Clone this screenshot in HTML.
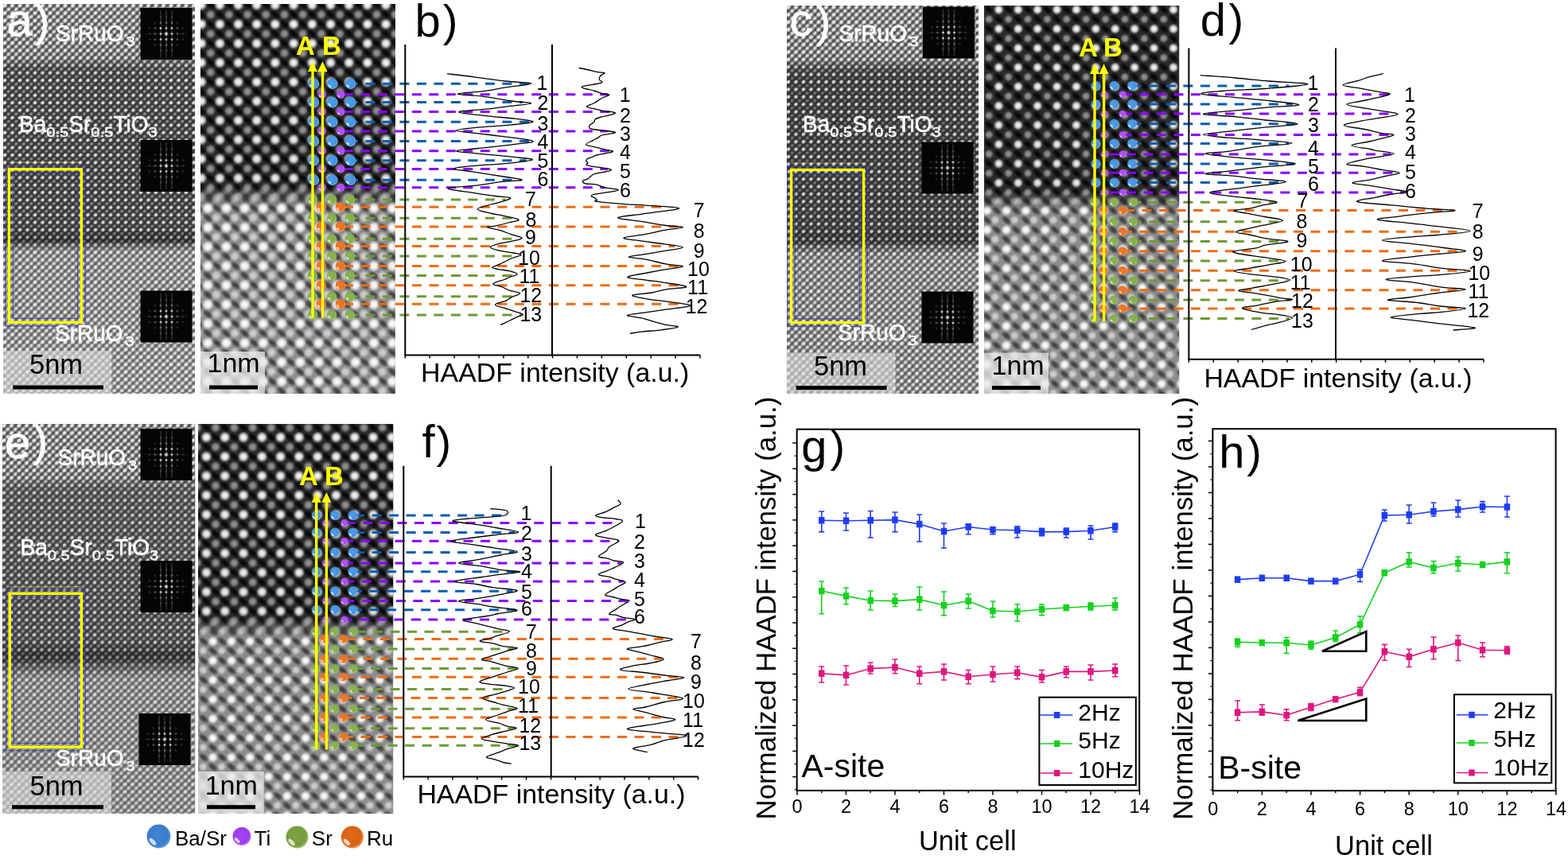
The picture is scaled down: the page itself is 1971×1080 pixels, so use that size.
<!DOCTYPE html>
<html><head><meta charset="utf-8"><title>HAADF figure</title>
<style>html,body{margin:0;padding:0;background:#fff;} svg{display:block;}</style></head>
<body><svg width="1971" height="1080" viewBox="0 0 1971 1080">
<defs>
<radialGradient id="gW"><stop offset="0" stop-color="#fff" stop-opacity="1"/><stop offset="0.45" stop-color="#fff" stop-opacity="0.85"/><stop offset="1" stop-color="#fff" stop-opacity="0"/></radialGradient>
<radialGradient id="gS"><stop offset="0" stop-color="#fff" stop-opacity="1"/><stop offset="0.55" stop-color="#fff" stop-opacity="0.9"/><stop offset="1" stop-color="#fff" stop-opacity="0"/></radialGradient>
<radialGradient id="pBlue" cx="0.45" cy="0.45" r="0.55"><stop offset="0" stop-color="#4e9eea"/><stop offset="0.8" stop-color="#4592e0"/><stop offset="1" stop-color="#78b8f0"/></radialGradient>
<radialGradient id="pPur" cx="0.45" cy="0.45" r="0.55"><stop offset="0" stop-color="#b455ff"/><stop offset="0.8" stop-color="#a848f8"/><stop offset="1" stop-color="#d090ff"/></radialGradient>
<radialGradient id="pGrn" cx="0.45" cy="0.45" r="0.55"><stop offset="0" stop-color="#8cb455"/><stop offset="0.8" stop-color="#84ac4c"/><stop offset="1" stop-color="#b0d080"/></radialGradient>
<radialGradient id="pOra" cx="0.45" cy="0.45" r="0.55"><stop offset="0" stop-color="#f07a2a"/><stop offset="0.8" stop-color="#e87024"/><stop offset="1" stop-color="#f8a060"/></radialGradient>
<radialGradient id="gK"><stop offset="0" stop-color="#000" stop-opacity="1"/><stop offset="0.5" stop-color="#000" stop-opacity="0.7"/><stop offset="1" stop-color="#000" stop-opacity="0"/></radialGradient>
<radialGradient id="sBlue" cx="0.45" cy="0.45" r="0.55"><stop offset="0" stop-color="#3f86d4"/><stop offset="0.8" stop-color="#3a7ccb"/><stop offset="1" stop-color="#5a9be0"/></radialGradient>
<radialGradient id="sPur" cx="0.45" cy="0.45" r="0.55"><stop offset="0" stop-color="#a446f5"/><stop offset="0.8" stop-color="#9a3cee"/><stop offset="1" stop-color="#c070ff"/></radialGradient>
<radialGradient id="sGrn" cx="0.45" cy="0.45" r="0.55"><stop offset="0" stop-color="#7ea445"/><stop offset="0.8" stop-color="#769c3e"/><stop offset="1" stop-color="#a0c070"/></radialGradient>
<radialGradient id="sOra" cx="0.45" cy="0.45" r="0.55"><stop offset="0" stop-color="#e06a1a"/><stop offset="0.8" stop-color="#d86214"/><stop offset="1" stop-color="#f09050"/></radialGradient>
<clipPath id="pac"><rect x="4" y="5" width="241" height="490"/></clipPath><pattern id="paA" patternUnits="userSpaceOnUse" x="6" y="7" width="9.5" height="9.4"><ellipse cx="0" cy="0" rx="3.25" ry="2.59" transform="rotate(-40 0 0)" fill="url(#gS)"/><ellipse cx="9.5" cy="0" rx="3.25" ry="2.59" transform="rotate(-40 9.5 0)" fill="url(#gS)"/><ellipse cx="0" cy="9.4" rx="3.25" ry="2.59" transform="rotate(-40 0 9.4)" fill="url(#gS)"/><ellipse cx="9.5" cy="9.4" rx="3.25" ry="2.59" transform="rotate(-40 9.5 9.4)" fill="url(#gS)"/></pattern><pattern id="paB" patternUnits="userSpaceOnUse" x="6" y="7" width="9.5" height="9.4"><ellipse cx="4.75" cy="4.7" rx="2.91" ry="2.32" transform="rotate(-40 4.75 4.7)" fill="url(#gS)"/></pattern><pattern id="paK" patternUnits="userSpaceOnUse" x="6" y="7" width="9.5" height="9.4"><ellipse cx="4.75" cy="0" rx="4.16" ry="2.46" transform="rotate(-40 4.75 0)" fill="url(#gK)"/><ellipse cx="0" cy="4.7" rx="4.16" ry="2.46" transform="rotate(-40 0 4.7)" fill="url(#gK)"/><ellipse cx="9.5" cy="4.7" rx="4.16" ry="2.46" transform="rotate(-40 9.5 4.7)" fill="url(#gK)"/><ellipse cx="4.75" cy="9.4" rx="4.16" ry="2.46" transform="rotate(-40 4.75 9.4)" fill="url(#gK)"/></pattern><pattern id="paS" patternUnits="userSpaceOnUse" x="6" y="7" width="9.5" height="9.4"><path d="M0,0" /></pattern><linearGradient id="pabg" gradientUnits="userSpaceOnUse" x1="0" y1="5" x2="0" y2="495"><stop offset="0.0000" stop-color="#8e8e8e" stop-opacity="1"/><stop offset="0.1367" stop-color="#868686" stop-opacity="1"/><stop offset="0.1612" stop-color="#4a4a4a" stop-opacity="1"/><stop offset="0.1837" stop-color="#3a3a3a" stop-opacity="1"/><stop offset="0.5776" stop-color="#383838" stop-opacity="1"/><stop offset="0.6061" stop-color="#2a2a2a" stop-opacity="1"/><stop offset="0.6347" stop-color="#949494" stop-opacity="1"/><stop offset="1.0000" stop-color="#9a9a9a" stop-opacity="1"/></linearGradient><linearGradient id="pamAg" gradientUnits="userSpaceOnUse" x1="0" y1="5" x2="0" y2="495"><stop offset="0.0000" stop-color="#fff" stop-opacity="0.85"/><stop offset="0.1367" stop-color="#fff" stop-opacity="0.85"/><stop offset="0.1612" stop-color="#fff" stop-opacity="0.75"/><stop offset="0.1837" stop-color="#fff" stop-opacity="0.88"/><stop offset="0.5776" stop-color="#fff" stop-opacity="0.85"/><stop offset="0.6061" stop-color="#fff" stop-opacity="0.6"/><stop offset="0.6347" stop-color="#fff" stop-opacity="0.8"/><stop offset="1.0000" stop-color="#fff" stop-opacity="0.85"/></linearGradient><mask id="pamA" maskUnits="userSpaceOnUse" x="4" y="5" width="241" height="490"><rect x="4" y="5" width="241" height="490" fill="url(#pamAg)"/></mask><linearGradient id="pamBg" gradientUnits="userSpaceOnUse" x1="0" y1="5" x2="0" y2="495"><stop offset="0.0000" stop-color="#fff" stop-opacity="0.75"/><stop offset="0.1367" stop-color="#fff" stop-opacity="0.7"/><stop offset="0.1612" stop-color="#fff" stop-opacity="0.5"/><stop offset="0.1837" stop-color="#fff" stop-opacity="0.45"/><stop offset="0.5776" stop-color="#fff" stop-opacity="0.42"/><stop offset="0.6061" stop-color="#fff" stop-opacity="0.3"/><stop offset="0.6347" stop-color="#fff" stop-opacity="0.65"/><stop offset="1.0000" stop-color="#fff" stop-opacity="0.7"/></linearGradient><mask id="pamB" maskUnits="userSpaceOnUse" x="4" y="5" width="241" height="490"><rect x="4" y="5" width="241" height="490" fill="url(#pamBg)"/></mask><linearGradient id="pamSg" gradientUnits="userSpaceOnUse" x1="0" y1="5" x2="0" y2="495"><stop offset="0.0000" stop-color="#fff" stop-opacity="0"/><stop offset="1.0000" stop-color="#fff" stop-opacity="0"/></linearGradient><mask id="pamS" maskUnits="userSpaceOnUse" x="4" y="5" width="241" height="490"><rect x="4" y="5" width="241" height="490" fill="url(#pamSg)"/></mask><linearGradient id="pamKg" gradientUnits="userSpaceOnUse" x1="0" y1="5" x2="0" y2="495"><stop offset="0.0000" stop-color="#fff" stop-opacity="0.5"/><stop offset="0.1367" stop-color="#fff" stop-opacity="0.5"/><stop offset="0.1612" stop-color="#fff" stop-opacity="0.3"/><stop offset="0.1837" stop-color="#fff" stop-opacity="0"/><stop offset="0.5776" stop-color="#fff" stop-opacity="0"/><stop offset="0.6061" stop-color="#fff" stop-opacity="0.2"/><stop offset="0.6347" stop-color="#fff" stop-opacity="0.4"/><stop offset="1.0000" stop-color="#fff" stop-opacity="0.4"/></linearGradient><mask id="pamK" maskUnits="userSpaceOnUse" x="4" y="5" width="241" height="490"><rect x="4" y="5" width="241" height="490" fill="url(#pamKg)"/></mask><clipPath id="pa2c"><rect x="252" y="5" width="245" height="490"/></clipPath><pattern id="pa2TA" patternUnits="userSpaceOnUse" x="-2.10" y="-18.00" width="23.2" height="24.2"><circle cx="0" cy="0" r="7.4" fill="url(#gW)"/><circle cx="23.2" cy="0" r="7.4" fill="url(#gW)"/><circle cx="0" cy="24.2" r="7.4" fill="url(#gW)"/><circle cx="23.2" cy="24.2" r="7.4" fill="url(#gW)"/></pattern><pattern id="pa2TB" patternUnits="userSpaceOnUse" x="-13.70" y="-5.90" width="23.2" height="24.2"><circle cx="0" cy="0" r="6.6" fill="url(#gW)"/><circle cx="23.2" cy="0" r="6.6" fill="url(#gW)"/><circle cx="0" cy="24.2" r="6.6" fill="url(#gW)"/><circle cx="23.2" cy="24.2" r="6.6" fill="url(#gW)"/></pattern><pattern id="pa2BR" patternUnits="userSpaceOnUse" x="-17.20" y="-4.40" width="23.2" height="24.2"><circle cx="0" cy="0" r="7.8" fill="url(#gW)"/><circle cx="23.2" cy="0" r="7.8" fill="url(#gW)"/><circle cx="0" cy="24.2" r="7.8" fill="url(#gW)"/><circle cx="23.2" cy="24.2" r="7.8" fill="url(#gW)"/></pattern><pattern id="pa2BS" patternUnits="userSpaceOnUse" x="-6.50" y="-16.70" width="23.2" height="24.2"><circle cx="0" cy="0" r="6.8" fill="url(#gW)"/><circle cx="23.2" cy="0" r="6.8" fill="url(#gW)"/><circle cx="0" cy="24.2" r="6.8" fill="url(#gW)"/><circle cx="23.2" cy="24.2" r="6.8" fill="url(#gW)"/></pattern><pattern id="pa2BK" patternUnits="userSpaceOnUse" x="-17.20" y="-4.40" width="23.2" height="24.2"><ellipse cx="11.6" cy="0" rx="8" ry="4.5" transform="rotate(40 11.6 0)" fill="url(#gK)"/><ellipse cx="0" cy="12.1" rx="8" ry="4.5" transform="rotate(40 0 12.1)" fill="url(#gK)"/><ellipse cx="23.2" cy="12.1" rx="8" ry="4.5" transform="rotate(40 23.2 12.1)" fill="url(#gK)"/><ellipse cx="11.6" cy="24.2" rx="8" ry="4.5" transform="rotate(40 11.6 24.2)" fill="url(#gK)"/></pattern><pattern id="pa2TK" patternUnits="userSpaceOnUse" x="-2.10" y="-18.00" width="23.2" height="24.2"><ellipse cx="11.6" cy="0" rx="8" ry="4.5" transform="rotate(40 11.6 0)" fill="url(#gK)"/><ellipse cx="0" cy="12.1" rx="8" ry="4.5" transform="rotate(40 0 12.1)" fill="url(#gK)"/><ellipse cx="23.2" cy="12.1" rx="8" ry="4.5" transform="rotate(40 23.2 12.1)" fill="url(#gK)"/><ellipse cx="11.6" cy="24.2" rx="8" ry="4.5" transform="rotate(40 11.6 24.2)" fill="url(#gK)"/></pattern><linearGradient id="pa2bg" gradientUnits="userSpaceOnUse" x1="0" y1="5" x2="0" y2="495"><stop offset="0.0000" stop-color="#2a2a2a" stop-opacity="1"/><stop offset="0.4673" stop-color="#2a2a2a" stop-opacity="1"/><stop offset="0.5163" stop-color="#8a8a8a" stop-opacity="1"/><stop offset="1.0000" stop-color="#8e8e8e" stop-opacity="1"/></linearGradient><linearGradient id="pa2mTAg" gradientUnits="userSpaceOnUse" x1="0" y1="5" x2="0" y2="495"><stop offset="0.0000" stop-color="#fff" stop-opacity="1"/><stop offset="0.4673" stop-color="#fff" stop-opacity="0.95"/><stop offset="0.5163" stop-color="#fff" stop-opacity="0"/><stop offset="1.0000" stop-color="#fff" stop-opacity="0"/></linearGradient><mask id="pa2mTA" maskUnits="userSpaceOnUse" x="252" y="5" width="245" height="490"><rect x="252" y="5" width="245" height="490" fill="url(#pa2mTAg)"/></mask><linearGradient id="pa2mTBg" gradientUnits="userSpaceOnUse" x1="0" y1="5" x2="0" y2="495"><stop offset="0.0000" stop-color="#fff" stop-opacity="0.5"/><stop offset="0.4673" stop-color="#fff" stop-opacity="0.5"/><stop offset="0.5163" stop-color="#fff" stop-opacity="0"/><stop offset="1.0000" stop-color="#fff" stop-opacity="0"/></linearGradient><mask id="pa2mTB" maskUnits="userSpaceOnUse" x="252" y="5" width="245" height="490"><rect x="252" y="5" width="245" height="490" fill="url(#pa2mTBg)"/></mask><linearGradient id="pa2mBRg" gradientUnits="userSpaceOnUse" x1="0" y1="5" x2="0" y2="495"><stop offset="0.0000" stop-color="#fff" stop-opacity="0"/><stop offset="0.4673" stop-color="#fff" stop-opacity="0"/><stop offset="0.5163" stop-color="#fff" stop-opacity="1"/><stop offset="1.0000" stop-color="#fff" stop-opacity="1"/></linearGradient><mask id="pa2mBR" maskUnits="userSpaceOnUse" x="252" y="5" width="245" height="490"><rect x="252" y="5" width="245" height="490" fill="url(#pa2mBRg)"/></mask><linearGradient id="pa2mBSg" gradientUnits="userSpaceOnUse" x1="0" y1="5" x2="0" y2="495"><stop offset="0.0000" stop-color="#fff" stop-opacity="0"/><stop offset="0.4673" stop-color="#fff" stop-opacity="0"/><stop offset="0.5163" stop-color="#fff" stop-opacity="0.6"/><stop offset="1.0000" stop-color="#fff" stop-opacity="0.6"/></linearGradient><mask id="pa2mBS" maskUnits="userSpaceOnUse" x="252" y="5" width="245" height="490"><rect x="252" y="5" width="245" height="490" fill="url(#pa2mBSg)"/></mask><linearGradient id="pa2mBKg" gradientUnits="userSpaceOnUse" x1="0" y1="5" x2="0" y2="495"><stop offset="0.0000" stop-color="#fff" stop-opacity="0"/><stop offset="0.4673" stop-color="#fff" stop-opacity="0"/><stop offset="0.5163" stop-color="#fff" stop-opacity="0.6"/><stop offset="1.0000" stop-color="#fff" stop-opacity="0.6"/></linearGradient><mask id="pa2mBK" maskUnits="userSpaceOnUse" x="252" y="5" width="245" height="490"><rect x="252" y="5" width="245" height="490" fill="url(#pa2mBKg)"/></mask><linearGradient id="pa2mTKg" gradientUnits="userSpaceOnUse" x1="0" y1="5" x2="0" y2="495"><stop offset="0.0000" stop-color="#fff" stop-opacity="0.9"/><stop offset="0.4673" stop-color="#fff" stop-opacity="0.9"/><stop offset="0.5163" stop-color="#fff" stop-opacity="0"/><stop offset="1.0000" stop-color="#fff" stop-opacity="0"/></linearGradient><mask id="pa2mTK" maskUnits="userSpaceOnUse" x="252" y="5" width="245" height="490"><rect x="252" y="5" width="245" height="490" fill="url(#pa2mTKg)"/></mask><clipPath id="pcc"><rect x="989" y="7" width="241" height="488"/></clipPath><pattern id="pcA" patternUnits="userSpaceOnUse" x="991" y="9" width="9.5" height="9.4"><ellipse cx="0" cy="0" rx="3.25" ry="2.59" transform="rotate(-40 0 0)" fill="url(#gS)"/><ellipse cx="9.5" cy="0" rx="3.25" ry="2.59" transform="rotate(-40 9.5 0)" fill="url(#gS)"/><ellipse cx="0" cy="9.4" rx="3.25" ry="2.59" transform="rotate(-40 0 9.4)" fill="url(#gS)"/><ellipse cx="9.5" cy="9.4" rx="3.25" ry="2.59" transform="rotate(-40 9.5 9.4)" fill="url(#gS)"/></pattern><pattern id="pcB" patternUnits="userSpaceOnUse" x="991" y="9" width="9.5" height="9.4"><ellipse cx="4.75" cy="4.7" rx="2.91" ry="2.32" transform="rotate(-40 4.75 4.7)" fill="url(#gS)"/></pattern><pattern id="pcK" patternUnits="userSpaceOnUse" x="991" y="9" width="9.5" height="9.4"><ellipse cx="4.75" cy="0" rx="4.16" ry="2.46" transform="rotate(-40 4.75 0)" fill="url(#gK)"/><ellipse cx="0" cy="4.7" rx="4.16" ry="2.46" transform="rotate(-40 0 4.7)" fill="url(#gK)"/><ellipse cx="9.5" cy="4.7" rx="4.16" ry="2.46" transform="rotate(-40 9.5 4.7)" fill="url(#gK)"/><ellipse cx="4.75" cy="9.4" rx="4.16" ry="2.46" transform="rotate(-40 4.75 9.4)" fill="url(#gK)"/></pattern><pattern id="pcS" patternUnits="userSpaceOnUse" x="991" y="9" width="9.5" height="9.4"><path d="M0,0" /></pattern><linearGradient id="pcbg" gradientUnits="userSpaceOnUse" x1="0" y1="7" x2="0" y2="495"><stop offset="0.0000" stop-color="#8e8e8e" stop-opacity="1"/><stop offset="0.1373" stop-color="#868686" stop-opacity="1"/><stop offset="0.1578" stop-color="#4a4a4a" stop-opacity="1"/><stop offset="0.1783" stop-color="#343434" stop-opacity="1"/><stop offset="0.5738" stop-color="#343434" stop-opacity="1"/><stop offset="0.6066" stop-color="#303030" stop-opacity="1"/><stop offset="0.6414" stop-color="#888888" stop-opacity="1"/><stop offset="1.0000" stop-color="#8e8e8e" stop-opacity="1"/></linearGradient><linearGradient id="pcmAg" gradientUnits="userSpaceOnUse" x1="0" y1="7" x2="0" y2="495"><stop offset="0.0000" stop-color="#fff" stop-opacity="0.85"/><stop offset="0.1373" stop-color="#fff" stop-opacity="0.85"/><stop offset="0.1578" stop-color="#fff" stop-opacity="0.75"/><stop offset="0.1783" stop-color="#fff" stop-opacity="0.85"/><stop offset="0.5738" stop-color="#fff" stop-opacity="0.8"/><stop offset="0.6025" stop-color="#fff" stop-opacity="0.7"/><stop offset="0.6332" stop-color="#fff" stop-opacity="0.8"/><stop offset="1.0000" stop-color="#fff" stop-opacity="0.85"/></linearGradient><mask id="pcmA" maskUnits="userSpaceOnUse" x="989" y="7" width="241" height="488"><rect x="989" y="7" width="241" height="488" fill="url(#pcmAg)"/></mask><linearGradient id="pcmBg" gradientUnits="userSpaceOnUse" x1="0" y1="7" x2="0" y2="495"><stop offset="0.0000" stop-color="#fff" stop-opacity="0.75"/><stop offset="0.1373" stop-color="#fff" stop-opacity="0.7"/><stop offset="0.1578" stop-color="#fff" stop-opacity="0.5"/><stop offset="0.1783" stop-color="#fff" stop-opacity="0.32"/><stop offset="0.5738" stop-color="#fff" stop-opacity="0.32"/><stop offset="0.6025" stop-color="#fff" stop-opacity="0.3"/><stop offset="0.6332" stop-color="#fff" stop-opacity="0.65"/><stop offset="1.0000" stop-color="#fff" stop-opacity="0.7"/></linearGradient><mask id="pcmB" maskUnits="userSpaceOnUse" x="989" y="7" width="241" height="488"><rect x="989" y="7" width="241" height="488" fill="url(#pcmBg)"/></mask><linearGradient id="pcmSg" gradientUnits="userSpaceOnUse" x1="0" y1="7" x2="0" y2="495"><stop offset="0.0000" stop-color="#fff" stop-opacity="0"/><stop offset="1.0000" stop-color="#fff" stop-opacity="0"/></linearGradient><mask id="pcmS" maskUnits="userSpaceOnUse" x="989" y="7" width="241" height="488"><rect x="989" y="7" width="241" height="488" fill="url(#pcmSg)"/></mask><linearGradient id="pcmKg" gradientUnits="userSpaceOnUse" x1="0" y1="7" x2="0" y2="495"><stop offset="0.0000" stop-color="#fff" stop-opacity="0.5"/><stop offset="0.1373" stop-color="#fff" stop-opacity="0.5"/><stop offset="0.1578" stop-color="#fff" stop-opacity="0.3"/><stop offset="0.1783" stop-color="#fff" stop-opacity="0"/><stop offset="0.5738" stop-color="#fff" stop-opacity="0"/><stop offset="0.6025" stop-color="#fff" stop-opacity="0.2"/><stop offset="0.6332" stop-color="#fff" stop-opacity="0.4"/><stop offset="1.0000" stop-color="#fff" stop-opacity="0.4"/></linearGradient><mask id="pcmK" maskUnits="userSpaceOnUse" x="989" y="7" width="241" height="488"><rect x="989" y="7" width="241" height="488" fill="url(#pcmKg)"/></mask><clipPath id="pc2c"><rect x="1237" y="7" width="245.5" height="488"/></clipPath><pattern id="pc2TA" patternUnits="userSpaceOnUse" x="-13.40" y="-12.10" width="24.4" height="24.2"><circle cx="0" cy="0" r="6.6" fill="url(#gW)"/><circle cx="24.4" cy="0" r="6.6" fill="url(#gW)"/><circle cx="0" cy="24.2" r="6.6" fill="url(#gW)"/><circle cx="24.4" cy="24.2" r="6.6" fill="url(#gW)"/></pattern><pattern id="pc2TB" patternUnits="userSpaceOnUse" x="-1.20" y="0.00" width="24.4" height="24.2"><circle cx="0" cy="0" r="6.0" fill="url(#gW)"/><circle cx="24.4" cy="0" r="6.0" fill="url(#gW)"/><circle cx="0" cy="24.2" r="6.0" fill="url(#gW)"/><circle cx="24.4" cy="24.2" r="6.0" fill="url(#gW)"/></pattern><pattern id="pc2BR" patternUnits="userSpaceOnUse" x="-3.80" y="-1.40" width="24.4" height="24.2"><circle cx="0" cy="0" r="7.0" fill="url(#gW)"/><circle cx="24.4" cy="0" r="7.0" fill="url(#gW)"/><circle cx="0" cy="24.2" r="7.0" fill="url(#gW)"/><circle cx="24.4" cy="24.2" r="7.0" fill="url(#gW)"/></pattern><pattern id="pc2BS" patternUnits="userSpaceOnUse" x="-17.90" y="-13.70" width="24.4" height="24.2"><circle cx="0" cy="0" r="6.2" fill="url(#gW)"/><circle cx="24.4" cy="0" r="6.2" fill="url(#gW)"/><circle cx="0" cy="24.2" r="6.2" fill="url(#gW)"/><circle cx="24.4" cy="24.2" r="6.2" fill="url(#gW)"/></pattern><pattern id="pc2BK" patternUnits="userSpaceOnUse" x="-3.80" y="-1.40" width="24.4" height="24.2"><ellipse cx="12.2" cy="0" rx="8" ry="4.5" transform="rotate(40 12.2 0)" fill="url(#gK)"/><ellipse cx="0" cy="12.1" rx="8" ry="4.5" transform="rotate(40 0 12.1)" fill="url(#gK)"/><ellipse cx="24.4" cy="12.1" rx="8" ry="4.5" transform="rotate(40 24.4 12.1)" fill="url(#gK)"/><ellipse cx="12.2" cy="24.2" rx="8" ry="4.5" transform="rotate(40 12.2 24.2)" fill="url(#gK)"/></pattern><pattern id="pc2TK" patternUnits="userSpaceOnUse" x="-13.40" y="-12.10" width="24.4" height="24.2"><ellipse cx="12.2" cy="0" rx="8" ry="4.5" transform="rotate(40 12.2 0)" fill="url(#gK)"/><ellipse cx="0" cy="12.1" rx="8" ry="4.5" transform="rotate(40 0 12.1)" fill="url(#gK)"/><ellipse cx="24.4" cy="12.1" rx="8" ry="4.5" transform="rotate(40 24.4 12.1)" fill="url(#gK)"/><ellipse cx="12.2" cy="24.2" rx="8" ry="4.5" transform="rotate(40 12.2 24.2)" fill="url(#gK)"/></pattern><linearGradient id="pc2bg" gradientUnits="userSpaceOnUse" x1="0" y1="7" x2="0" y2="495"><stop offset="0.0000" stop-color="#2a2a2a" stop-opacity="1"/><stop offset="0.4775" stop-color="#2a2a2a" stop-opacity="1"/><stop offset="0.5266" stop-color="#8a8a8a" stop-opacity="1"/><stop offset="1.0000" stop-color="#8e8e8e" stop-opacity="1"/></linearGradient><linearGradient id="pc2mTAg" gradientUnits="userSpaceOnUse" x1="0" y1="7" x2="0" y2="495"><stop offset="0.0000" stop-color="#fff" stop-opacity="1"/><stop offset="0.4775" stop-color="#fff" stop-opacity="0.95"/><stop offset="0.5266" stop-color="#fff" stop-opacity="0"/><stop offset="1.0000" stop-color="#fff" stop-opacity="0"/></linearGradient><mask id="pc2mTA" maskUnits="userSpaceOnUse" x="1237" y="7" width="245.5" height="488"><rect x="1237" y="7" width="245.5" height="488" fill="url(#pc2mTAg)"/></mask><linearGradient id="pc2mTBg" gradientUnits="userSpaceOnUse" x1="0" y1="7" x2="0" y2="495"><stop offset="0.0000" stop-color="#fff" stop-opacity="0.5"/><stop offset="0.4775" stop-color="#fff" stop-opacity="0.5"/><stop offset="0.5266" stop-color="#fff" stop-opacity="0"/><stop offset="1.0000" stop-color="#fff" stop-opacity="0"/></linearGradient><mask id="pc2mTB" maskUnits="userSpaceOnUse" x="1237" y="7" width="245.5" height="488"><rect x="1237" y="7" width="245.5" height="488" fill="url(#pc2mTBg)"/></mask><linearGradient id="pc2mBRg" gradientUnits="userSpaceOnUse" x1="0" y1="7" x2="0" y2="495"><stop offset="0.0000" stop-color="#fff" stop-opacity="0"/><stop offset="0.4775" stop-color="#fff" stop-opacity="0"/><stop offset="0.5266" stop-color="#fff" stop-opacity="1"/><stop offset="1.0000" stop-color="#fff" stop-opacity="1"/></linearGradient><mask id="pc2mBR" maskUnits="userSpaceOnUse" x="1237" y="7" width="245.5" height="488"><rect x="1237" y="7" width="245.5" height="488" fill="url(#pc2mBRg)"/></mask><linearGradient id="pc2mBSg" gradientUnits="userSpaceOnUse" x1="0" y1="7" x2="0" y2="495"><stop offset="0.0000" stop-color="#fff" stop-opacity="0"/><stop offset="0.4775" stop-color="#fff" stop-opacity="0"/><stop offset="0.5266" stop-color="#fff" stop-opacity="0.6"/><stop offset="1.0000" stop-color="#fff" stop-opacity="0.6"/></linearGradient><mask id="pc2mBS" maskUnits="userSpaceOnUse" x="1237" y="7" width="245.5" height="488"><rect x="1237" y="7" width="245.5" height="488" fill="url(#pc2mBSg)"/></mask><linearGradient id="pc2mBKg" gradientUnits="userSpaceOnUse" x1="0" y1="7" x2="0" y2="495"><stop offset="0.0000" stop-color="#fff" stop-opacity="0"/><stop offset="0.4775" stop-color="#fff" stop-opacity="0"/><stop offset="0.5266" stop-color="#fff" stop-opacity="0.6"/><stop offset="1.0000" stop-color="#fff" stop-opacity="0.6"/></linearGradient><mask id="pc2mBK" maskUnits="userSpaceOnUse" x="1237" y="7" width="245.5" height="488"><rect x="1237" y="7" width="245.5" height="488" fill="url(#pc2mBKg)"/></mask><linearGradient id="pc2mTKg" gradientUnits="userSpaceOnUse" x1="0" y1="7" x2="0" y2="495"><stop offset="0.0000" stop-color="#fff" stop-opacity="0.9"/><stop offset="0.4775" stop-color="#fff" stop-opacity="0.9"/><stop offset="0.5266" stop-color="#fff" stop-opacity="0"/><stop offset="1.0000" stop-color="#fff" stop-opacity="0"/></linearGradient><mask id="pc2mTK" maskUnits="userSpaceOnUse" x="1237" y="7" width="245.5" height="488"><rect x="1237" y="7" width="245.5" height="488" fill="url(#pc2mTKg)"/></mask><clipPath id="pec"><rect x="3" y="533" width="242.5" height="490"/></clipPath><pattern id="peA" patternUnits="userSpaceOnUse" x="5" y="535" width="9.5" height="9.4"><ellipse cx="0" cy="0" rx="3.25" ry="2.59" transform="rotate(-40 0 0)" fill="url(#gS)"/><ellipse cx="9.5" cy="0" rx="3.25" ry="2.59" transform="rotate(-40 9.5 0)" fill="url(#gS)"/><ellipse cx="0" cy="9.4" rx="3.25" ry="2.59" transform="rotate(-40 0 9.4)" fill="url(#gS)"/><ellipse cx="9.5" cy="9.4" rx="3.25" ry="2.59" transform="rotate(-40 9.5 9.4)" fill="url(#gS)"/></pattern><pattern id="peB" patternUnits="userSpaceOnUse" x="5" y="535" width="9.5" height="9.4"><ellipse cx="4.75" cy="4.7" rx="2.91" ry="2.32" transform="rotate(-40 4.75 4.7)" fill="url(#gS)"/></pattern><pattern id="peK" patternUnits="userSpaceOnUse" x="5" y="535" width="9.5" height="9.4"><ellipse cx="4.75" cy="0" rx="4.16" ry="2.46" transform="rotate(-40 4.75 0)" fill="url(#gK)"/><ellipse cx="0" cy="4.7" rx="4.16" ry="2.46" transform="rotate(-40 0 4.7)" fill="url(#gK)"/><ellipse cx="9.5" cy="4.7" rx="4.16" ry="2.46" transform="rotate(-40 9.5 4.7)" fill="url(#gK)"/><ellipse cx="4.75" cy="9.4" rx="4.16" ry="2.46" transform="rotate(-40 4.75 9.4)" fill="url(#gK)"/></pattern><pattern id="peS" patternUnits="userSpaceOnUse" x="5" y="535" width="9.5" height="9.4"><path d="M0,0" /></pattern><linearGradient id="pebg" gradientUnits="userSpaceOnUse" x1="0" y1="533" x2="0" y2="1023"><stop offset="0.0000" stop-color="#8e8e8e" stop-opacity="1"/><stop offset="0.1367" stop-color="#868686" stop-opacity="1"/><stop offset="0.1571" stop-color="#5a5a5a" stop-opacity="1"/><stop offset="0.1776" stop-color="#505050" stop-opacity="1"/><stop offset="0.5571" stop-color="#484848" stop-opacity="1"/><stop offset="0.5980" stop-color="#2c2c2c" stop-opacity="1"/><stop offset="0.6510" stop-color="#8a8a8a" stop-opacity="1"/><stop offset="1.0000" stop-color="#909090" stop-opacity="1"/></linearGradient><linearGradient id="pemAg" gradientUnits="userSpaceOnUse" x1="0" y1="533" x2="0" y2="1023"><stop offset="0.0000" stop-color="#fff" stop-opacity="0.85"/><stop offset="0.1367" stop-color="#fff" stop-opacity="0.85"/><stop offset="0.1571" stop-color="#fff" stop-opacity="0.7"/><stop offset="0.1776" stop-color="#fff" stop-opacity="0.75"/><stop offset="0.5571" stop-color="#fff" stop-opacity="0.75"/><stop offset="0.5980" stop-color="#fff" stop-opacity="0.5"/><stop offset="0.6510" stop-color="#fff" stop-opacity="0.7"/><stop offset="1.0000" stop-color="#fff" stop-opacity="0.7"/></linearGradient><mask id="pemA" maskUnits="userSpaceOnUse" x="3" y="533" width="242.5" height="490"><rect x="3" y="533" width="242.5" height="490" fill="url(#pemAg)"/></mask><linearGradient id="pemBg" gradientUnits="userSpaceOnUse" x1="0" y1="533" x2="0" y2="1023"><stop offset="0.0000" stop-color="#fff" stop-opacity="0.75"/><stop offset="0.1367" stop-color="#fff" stop-opacity="0.7"/><stop offset="0.1571" stop-color="#fff" stop-opacity="0.5"/><stop offset="0.1776" stop-color="#fff" stop-opacity="0.4"/><stop offset="0.5571" stop-color="#fff" stop-opacity="0.4"/><stop offset="0.5980" stop-color="#fff" stop-opacity="0.25"/><stop offset="0.6510" stop-color="#fff" stop-opacity="0.55"/><stop offset="1.0000" stop-color="#fff" stop-opacity="0.55"/></linearGradient><mask id="pemB" maskUnits="userSpaceOnUse" x="3" y="533" width="242.5" height="490"><rect x="3" y="533" width="242.5" height="490" fill="url(#pemBg)"/></mask><linearGradient id="pemSg" gradientUnits="userSpaceOnUse" x1="0" y1="533" x2="0" y2="1023"><stop offset="0.0000" stop-color="#fff" stop-opacity="0"/><stop offset="1.0000" stop-color="#fff" stop-opacity="0"/></linearGradient><mask id="pemS" maskUnits="userSpaceOnUse" x="3" y="533" width="242.5" height="490"><rect x="3" y="533" width="242.5" height="490" fill="url(#pemSg)"/></mask><linearGradient id="pemKg" gradientUnits="userSpaceOnUse" x1="0" y1="533" x2="0" y2="1023"><stop offset="0.0000" stop-color="#fff" stop-opacity="0.5"/><stop offset="0.1367" stop-color="#fff" stop-opacity="0.5"/><stop offset="0.1571" stop-color="#fff" stop-opacity="0.3"/><stop offset="0.1776" stop-color="#fff" stop-opacity="0.2"/><stop offset="0.5571" stop-color="#fff" stop-opacity="0.2"/><stop offset="0.5980" stop-color="#fff" stop-opacity="0.2"/><stop offset="0.6510" stop-color="#fff" stop-opacity="0.35"/><stop offset="1.0000" stop-color="#fff" stop-opacity="0.35"/></linearGradient><mask id="pemK" maskUnits="userSpaceOnUse" x="3" y="533" width="242.5" height="490"><rect x="3" y="533" width="242.5" height="490" fill="url(#pemKg)"/></mask><clipPath id="pe2c"><rect x="249" y="533" width="245.5" height="490"/></clipPath><pattern id="pe2TA" patternUnits="userSpaceOnUse" x="-20.20" y="-9.10" width="23.3" height="24.3"><circle cx="0" cy="0" r="7.4" fill="url(#gW)"/><circle cx="23.3" cy="0" r="7.4" fill="url(#gW)"/><circle cx="0" cy="24.3" r="7.4" fill="url(#gW)"/><circle cx="23.3" cy="24.3" r="7.4" fill="url(#gW)"/></pattern><pattern id="pe2TB" patternUnits="userSpaceOnUse" x="-8.55" y="-21.25" width="23.3" height="24.3"><circle cx="0" cy="0" r="6.6" fill="url(#gW)"/><circle cx="23.3" cy="0" r="6.6" fill="url(#gW)"/><circle cx="0" cy="24.3" r="6.6" fill="url(#gW)"/><circle cx="23.3" cy="24.3" r="6.6" fill="url(#gW)"/></pattern><pattern id="pe2BR" patternUnits="userSpaceOnUse" x="-12.00" y="-19.80" width="23.3" height="24.3"><circle cx="0" cy="0" r="6.8" fill="url(#gW)"/><circle cx="23.3" cy="0" r="6.8" fill="url(#gW)"/><circle cx="0" cy="24.3" r="6.8" fill="url(#gW)"/><circle cx="23.3" cy="24.3" r="6.8" fill="url(#gW)"/></pattern><pattern id="pe2BS" patternUnits="userSpaceOnUse" x="-0.90" y="-8.00" width="23.3" height="24.3"><circle cx="0" cy="0" r="6.0" fill="url(#gW)"/><circle cx="23.3" cy="0" r="6.0" fill="url(#gW)"/><circle cx="0" cy="24.3" r="6.0" fill="url(#gW)"/><circle cx="23.3" cy="24.3" r="6.0" fill="url(#gW)"/></pattern><pattern id="pe2BK" patternUnits="userSpaceOnUse" x="-12.00" y="-19.80" width="23.3" height="24.3"><ellipse cx="11.65" cy="0" rx="8" ry="4.5" transform="rotate(40 11.65 0)" fill="url(#gK)"/><ellipse cx="0" cy="12.15" rx="8" ry="4.5" transform="rotate(40 0 12.15)" fill="url(#gK)"/><ellipse cx="23.3" cy="12.15" rx="8" ry="4.5" transform="rotate(40 23.3 12.15)" fill="url(#gK)"/><ellipse cx="11.65" cy="24.3" rx="8" ry="4.5" transform="rotate(40 11.65 24.3)" fill="url(#gK)"/></pattern><pattern id="pe2TK" patternUnits="userSpaceOnUse" x="-20.20" y="-9.10" width="23.3" height="24.3"><ellipse cx="11.65" cy="0" rx="8" ry="4.5" transform="rotate(40 11.65 0)" fill="url(#gK)"/><ellipse cx="0" cy="12.15" rx="8" ry="4.5" transform="rotate(40 0 12.15)" fill="url(#gK)"/><ellipse cx="23.3" cy="12.15" rx="8" ry="4.5" transform="rotate(40 23.3 12.15)" fill="url(#gK)"/><ellipse cx="11.65" cy="24.3" rx="8" ry="4.5" transform="rotate(40 11.65 24.3)" fill="url(#gK)"/></pattern><linearGradient id="pe2bg" gradientUnits="userSpaceOnUse" x1="0" y1="533" x2="0" y2="1023"><stop offset="0.0000" stop-color="#2a2a2a" stop-opacity="1"/><stop offset="0.4959" stop-color="#2a2a2a" stop-opacity="1"/><stop offset="0.5449" stop-color="#8a8a8a" stop-opacity="1"/><stop offset="1.0000" stop-color="#8e8e8e" stop-opacity="1"/></linearGradient><linearGradient id="pe2mTAg" gradientUnits="userSpaceOnUse" x1="0" y1="533" x2="0" y2="1023"><stop offset="0.0000" stop-color="#fff" stop-opacity="1"/><stop offset="0.4959" stop-color="#fff" stop-opacity="0.95"/><stop offset="0.5449" stop-color="#fff" stop-opacity="0"/><stop offset="1.0000" stop-color="#fff" stop-opacity="0"/></linearGradient><mask id="pe2mTA" maskUnits="userSpaceOnUse" x="249" y="533" width="245.5" height="490"><rect x="249" y="533" width="245.5" height="490" fill="url(#pe2mTAg)"/></mask><linearGradient id="pe2mTBg" gradientUnits="userSpaceOnUse" x1="0" y1="533" x2="0" y2="1023"><stop offset="0.0000" stop-color="#fff" stop-opacity="0.5"/><stop offset="0.4959" stop-color="#fff" stop-opacity="0.5"/><stop offset="0.5449" stop-color="#fff" stop-opacity="0"/><stop offset="1.0000" stop-color="#fff" stop-opacity="0"/></linearGradient><mask id="pe2mTB" maskUnits="userSpaceOnUse" x="249" y="533" width="245.5" height="490"><rect x="249" y="533" width="245.5" height="490" fill="url(#pe2mTBg)"/></mask><linearGradient id="pe2mBRg" gradientUnits="userSpaceOnUse" x1="0" y1="533" x2="0" y2="1023"><stop offset="0.0000" stop-color="#fff" stop-opacity="0"/><stop offset="0.4959" stop-color="#fff" stop-opacity="0"/><stop offset="0.5449" stop-color="#fff" stop-opacity="1"/><stop offset="1.0000" stop-color="#fff" stop-opacity="1"/></linearGradient><mask id="pe2mBR" maskUnits="userSpaceOnUse" x="249" y="533" width="245.5" height="490"><rect x="249" y="533" width="245.5" height="490" fill="url(#pe2mBRg)"/></mask><linearGradient id="pe2mBSg" gradientUnits="userSpaceOnUse" x1="0" y1="533" x2="0" y2="1023"><stop offset="0.0000" stop-color="#fff" stop-opacity="0"/><stop offset="0.4959" stop-color="#fff" stop-opacity="0"/><stop offset="0.5449" stop-color="#fff" stop-opacity="0.6"/><stop offset="1.0000" stop-color="#fff" stop-opacity="0.6"/></linearGradient><mask id="pe2mBS" maskUnits="userSpaceOnUse" x="249" y="533" width="245.5" height="490"><rect x="249" y="533" width="245.5" height="490" fill="url(#pe2mBSg)"/></mask><linearGradient id="pe2mBKg" gradientUnits="userSpaceOnUse" x1="0" y1="533" x2="0" y2="1023"><stop offset="0.0000" stop-color="#fff" stop-opacity="0"/><stop offset="0.4959" stop-color="#fff" stop-opacity="0"/><stop offset="0.5449" stop-color="#fff" stop-opacity="0.6"/><stop offset="1.0000" stop-color="#fff" stop-opacity="0.6"/></linearGradient><mask id="pe2mBK" maskUnits="userSpaceOnUse" x="249" y="533" width="245.5" height="490"><rect x="249" y="533" width="245.5" height="490" fill="url(#pe2mBKg)"/></mask><linearGradient id="pe2mTKg" gradientUnits="userSpaceOnUse" x1="0" y1="533" x2="0" y2="1023"><stop offset="0.0000" stop-color="#fff" stop-opacity="0.9"/><stop offset="0.4959" stop-color="#fff" stop-opacity="0.9"/><stop offset="0.5449" stop-color="#fff" stop-opacity="0"/><stop offset="1.0000" stop-color="#fff" stop-opacity="0"/></linearGradient><mask id="pe2mTK" maskUnits="userSpaceOnUse" x="249" y="533" width="245.5" height="490"><rect x="249" y="533" width="245.5" height="490" fill="url(#pe2mTKg)"/></mask></defs>
<rect width="1971" height="1080" fill="#fff"/>
<g clip-path="url(#pac)">
<rect x="4" y="5" width="241" height="490" fill="url(#pabg)"/>
<rect x="4" y="5" width="241" height="490" fill="url(#paK)" mask="url(#pamK)"/>
<rect x="4" y="5" width="241" height="490" fill="url(#paS)" mask="url(#pamS)"/>
<rect x="4" y="5" width="241" height="490" fill="url(#paA)" mask="url(#pamA)"/>
<rect x="4" y="5" width="241" height="490" fill="url(#paB)" mask="url(#pamB)"/>
<rect x="4" y="441" width="136" height="54" fill="#e0e0e0" opacity="0.6"/>
</g>
<rect x="176.5" y="10" width="65" height="65" fill="#050505"/>
<rect x="201.2" y="13" width="1.6" height="59" fill="#fff" opacity="0.16"/>
<rect x="208.2" y="13" width="1.6" height="59" fill="#fff" opacity="0.16"/>
<rect x="215.2" y="13" width="1.6" height="59" fill="#fff" opacity="0.16"/>
<rect x="182.5" y="42.0" width="53" height="1" fill="#fff" opacity="0.08"/>
<circle cx="188.0" cy="35.5" r="2.0" fill="url(#gW)" opacity="0.14"/>
<circle cx="188.0" cy="42.5" r="2.0" fill="url(#gW)" opacity="0.14"/>
<circle cx="188.0" cy="49.5" r="2.0" fill="url(#gW)" opacity="0.14"/>
<circle cx="195.0" cy="28.5" r="2.0" fill="url(#gW)" opacity="0.14"/>
<circle cx="195.0" cy="35.5" r="2.0" fill="url(#gW)" opacity="0.32"/>
<circle cx="195.0" cy="42.5" r="2.0" fill="url(#gW)" opacity="0.32"/>
<circle cx="195.0" cy="49.5" r="2.0" fill="url(#gW)" opacity="0.32"/>
<circle cx="195.0" cy="56.5" r="2.0" fill="url(#gW)" opacity="0.14"/>
<circle cx="202.0" cy="21.5" r="2.0" fill="url(#gW)" opacity="0.14"/>
<circle cx="202.0" cy="28.5" r="2.0" fill="url(#gW)" opacity="0.32"/>
<circle cx="202.0" cy="35.5" r="2.0" fill="url(#gW)" opacity="0.8"/>
<circle cx="202.0" cy="42.5" r="2.0" fill="url(#gW)" opacity="0.8"/>
<circle cx="202.0" cy="49.5" r="2.0" fill="url(#gW)" opacity="0.8"/>
<circle cx="202.0" cy="56.5" r="2.0" fill="url(#gW)" opacity="0.32"/>
<circle cx="202.0" cy="63.5" r="2.0" fill="url(#gW)" opacity="0.14"/>
<circle cx="209.0" cy="21.5" r="2.0" fill="url(#gW)" opacity="0.14"/>
<circle cx="209.0" cy="28.5" r="2.0" fill="url(#gW)" opacity="0.32"/>
<circle cx="209.0" cy="35.5" r="2.0" fill="url(#gW)" opacity="0.8"/>
<circle cx="209.0" cy="42.5" r="3.0" fill="url(#gW)" opacity="0.8"/>
<circle cx="209.0" cy="49.5" r="2.0" fill="url(#gW)" opacity="0.8"/>
<circle cx="209.0" cy="56.5" r="2.0" fill="url(#gW)" opacity="0.32"/>
<circle cx="209.0" cy="63.5" r="2.0" fill="url(#gW)" opacity="0.14"/>
<circle cx="216.0" cy="21.5" r="2.0" fill="url(#gW)" opacity="0.14"/>
<circle cx="216.0" cy="28.5" r="2.0" fill="url(#gW)" opacity="0.32"/>
<circle cx="216.0" cy="35.5" r="2.0" fill="url(#gW)" opacity="0.8"/>
<circle cx="216.0" cy="42.5" r="2.0" fill="url(#gW)" opacity="0.8"/>
<circle cx="216.0" cy="49.5" r="2.0" fill="url(#gW)" opacity="0.8"/>
<circle cx="216.0" cy="56.5" r="2.0" fill="url(#gW)" opacity="0.32"/>
<circle cx="216.0" cy="63.5" r="2.0" fill="url(#gW)" opacity="0.14"/>
<circle cx="223.0" cy="28.5" r="2.0" fill="url(#gW)" opacity="0.14"/>
<circle cx="223.0" cy="35.5" r="2.0" fill="url(#gW)" opacity="0.32"/>
<circle cx="223.0" cy="42.5" r="2.0" fill="url(#gW)" opacity="0.32"/>
<circle cx="223.0" cy="49.5" r="2.0" fill="url(#gW)" opacity="0.32"/>
<circle cx="223.0" cy="56.5" r="2.0" fill="url(#gW)" opacity="0.14"/>
<circle cx="230.0" cy="35.5" r="2.0" fill="url(#gW)" opacity="0.14"/>
<circle cx="230.0" cy="42.5" r="2.0" fill="url(#gW)" opacity="0.14"/>
<circle cx="230.0" cy="49.5" r="2.0" fill="url(#gW)" opacity="0.14"/>
<rect x="176.5" y="176" width="65" height="65" fill="#050505"/>
<rect x="201.2" y="179" width="1.6" height="59" fill="#fff" opacity="0.16"/>
<rect x="208.2" y="179" width="1.6" height="59" fill="#fff" opacity="0.16"/>
<rect x="215.2" y="179" width="1.6" height="59" fill="#fff" opacity="0.16"/>
<rect x="182.5" y="208.0" width="53" height="1" fill="#fff" opacity="0.08"/>
<circle cx="188.0" cy="201.5" r="2.0" fill="url(#gW)" opacity="0.14"/>
<circle cx="188.0" cy="208.5" r="2.0" fill="url(#gW)" opacity="0.14"/>
<circle cx="188.0" cy="215.5" r="2.0" fill="url(#gW)" opacity="0.14"/>
<circle cx="195.0" cy="194.5" r="2.0" fill="url(#gW)" opacity="0.14"/>
<circle cx="195.0" cy="201.5" r="2.0" fill="url(#gW)" opacity="0.32"/>
<circle cx="195.0" cy="208.5" r="2.0" fill="url(#gW)" opacity="0.32"/>
<circle cx="195.0" cy="215.5" r="2.0" fill="url(#gW)" opacity="0.32"/>
<circle cx="195.0" cy="222.5" r="2.0" fill="url(#gW)" opacity="0.14"/>
<circle cx="202.0" cy="187.5" r="2.0" fill="url(#gW)" opacity="0.14"/>
<circle cx="202.0" cy="194.5" r="2.0" fill="url(#gW)" opacity="0.32"/>
<circle cx="202.0" cy="201.5" r="2.0" fill="url(#gW)" opacity="0.8"/>
<circle cx="202.0" cy="208.5" r="2.0" fill="url(#gW)" opacity="0.8"/>
<circle cx="202.0" cy="215.5" r="2.0" fill="url(#gW)" opacity="0.8"/>
<circle cx="202.0" cy="222.5" r="2.0" fill="url(#gW)" opacity="0.32"/>
<circle cx="202.0" cy="229.5" r="2.0" fill="url(#gW)" opacity="0.14"/>
<circle cx="209.0" cy="187.5" r="2.0" fill="url(#gW)" opacity="0.14"/>
<circle cx="209.0" cy="194.5" r="2.0" fill="url(#gW)" opacity="0.32"/>
<circle cx="209.0" cy="201.5" r="2.0" fill="url(#gW)" opacity="0.8"/>
<circle cx="209.0" cy="208.5" r="3.0" fill="url(#gW)" opacity="0.8"/>
<circle cx="209.0" cy="215.5" r="2.0" fill="url(#gW)" opacity="0.8"/>
<circle cx="209.0" cy="222.5" r="2.0" fill="url(#gW)" opacity="0.32"/>
<circle cx="209.0" cy="229.5" r="2.0" fill="url(#gW)" opacity="0.14"/>
<circle cx="216.0" cy="187.5" r="2.0" fill="url(#gW)" opacity="0.14"/>
<circle cx="216.0" cy="194.5" r="2.0" fill="url(#gW)" opacity="0.32"/>
<circle cx="216.0" cy="201.5" r="2.0" fill="url(#gW)" opacity="0.8"/>
<circle cx="216.0" cy="208.5" r="2.0" fill="url(#gW)" opacity="0.8"/>
<circle cx="216.0" cy="215.5" r="2.0" fill="url(#gW)" opacity="0.8"/>
<circle cx="216.0" cy="222.5" r="2.0" fill="url(#gW)" opacity="0.32"/>
<circle cx="216.0" cy="229.5" r="2.0" fill="url(#gW)" opacity="0.14"/>
<circle cx="223.0" cy="194.5" r="2.0" fill="url(#gW)" opacity="0.14"/>
<circle cx="223.0" cy="201.5" r="2.0" fill="url(#gW)" opacity="0.32"/>
<circle cx="223.0" cy="208.5" r="2.0" fill="url(#gW)" opacity="0.32"/>
<circle cx="223.0" cy="215.5" r="2.0" fill="url(#gW)" opacity="0.32"/>
<circle cx="223.0" cy="222.5" r="2.0" fill="url(#gW)" opacity="0.14"/>
<circle cx="230.0" cy="201.5" r="2.0" fill="url(#gW)" opacity="0.14"/>
<circle cx="230.0" cy="208.5" r="2.0" fill="url(#gW)" opacity="0.14"/>
<circle cx="230.0" cy="215.5" r="2.0" fill="url(#gW)" opacity="0.14"/>
<rect x="176.5" y="365.5" width="65" height="65" fill="#050505"/>
<rect x="201.2" y="368.5" width="1.6" height="59" fill="#fff" opacity="0.16"/>
<rect x="208.2" y="368.5" width="1.6" height="59" fill="#fff" opacity="0.16"/>
<rect x="215.2" y="368.5" width="1.6" height="59" fill="#fff" opacity="0.16"/>
<rect x="182.5" y="397.5" width="53" height="1" fill="#fff" opacity="0.08"/>
<circle cx="188.0" cy="391.0" r="2.0" fill="url(#gW)" opacity="0.14"/>
<circle cx="188.0" cy="398.0" r="2.0" fill="url(#gW)" opacity="0.14"/>
<circle cx="188.0" cy="405.0" r="2.0" fill="url(#gW)" opacity="0.14"/>
<circle cx="195.0" cy="384.0" r="2.0" fill="url(#gW)" opacity="0.14"/>
<circle cx="195.0" cy="391.0" r="2.0" fill="url(#gW)" opacity="0.32"/>
<circle cx="195.0" cy="398.0" r="2.0" fill="url(#gW)" opacity="0.32"/>
<circle cx="195.0" cy="405.0" r="2.0" fill="url(#gW)" opacity="0.32"/>
<circle cx="195.0" cy="412.0" r="2.0" fill="url(#gW)" opacity="0.14"/>
<circle cx="202.0" cy="377.0" r="2.0" fill="url(#gW)" opacity="0.14"/>
<circle cx="202.0" cy="384.0" r="2.0" fill="url(#gW)" opacity="0.32"/>
<circle cx="202.0" cy="391.0" r="2.0" fill="url(#gW)" opacity="0.8"/>
<circle cx="202.0" cy="398.0" r="2.0" fill="url(#gW)" opacity="0.8"/>
<circle cx="202.0" cy="405.0" r="2.0" fill="url(#gW)" opacity="0.8"/>
<circle cx="202.0" cy="412.0" r="2.0" fill="url(#gW)" opacity="0.32"/>
<circle cx="202.0" cy="419.0" r="2.0" fill="url(#gW)" opacity="0.14"/>
<circle cx="209.0" cy="377.0" r="2.0" fill="url(#gW)" opacity="0.14"/>
<circle cx="209.0" cy="384.0" r="2.0" fill="url(#gW)" opacity="0.32"/>
<circle cx="209.0" cy="391.0" r="2.0" fill="url(#gW)" opacity="0.8"/>
<circle cx="209.0" cy="398.0" r="3.0" fill="url(#gW)" opacity="0.8"/>
<circle cx="209.0" cy="405.0" r="2.0" fill="url(#gW)" opacity="0.8"/>
<circle cx="209.0" cy="412.0" r="2.0" fill="url(#gW)" opacity="0.32"/>
<circle cx="209.0" cy="419.0" r="2.0" fill="url(#gW)" opacity="0.14"/>
<circle cx="216.0" cy="377.0" r="2.0" fill="url(#gW)" opacity="0.14"/>
<circle cx="216.0" cy="384.0" r="2.0" fill="url(#gW)" opacity="0.32"/>
<circle cx="216.0" cy="391.0" r="2.0" fill="url(#gW)" opacity="0.8"/>
<circle cx="216.0" cy="398.0" r="2.0" fill="url(#gW)" opacity="0.8"/>
<circle cx="216.0" cy="405.0" r="2.0" fill="url(#gW)" opacity="0.8"/>
<circle cx="216.0" cy="412.0" r="2.0" fill="url(#gW)" opacity="0.32"/>
<circle cx="216.0" cy="419.0" r="2.0" fill="url(#gW)" opacity="0.14"/>
<circle cx="223.0" cy="384.0" r="2.0" fill="url(#gW)" opacity="0.14"/>
<circle cx="223.0" cy="391.0" r="2.0" fill="url(#gW)" opacity="0.32"/>
<circle cx="223.0" cy="398.0" r="2.0" fill="url(#gW)" opacity="0.32"/>
<circle cx="223.0" cy="405.0" r="2.0" fill="url(#gW)" opacity="0.32"/>
<circle cx="223.0" cy="412.0" r="2.0" fill="url(#gW)" opacity="0.14"/>
<circle cx="230.0" cy="391.0" r="2.0" fill="url(#gW)" opacity="0.14"/>
<circle cx="230.0" cy="398.0" r="2.0" fill="url(#gW)" opacity="0.14"/>
<circle cx="230.0" cy="405.0" r="2.0" fill="url(#gW)" opacity="0.14"/>
<rect x="6.800000000000001" y="208.20000000000002" width="100.2" height="201.7" fill="none" stroke="#3c3ca8" stroke-width="1.4" opacity="0.75"/>
<rect x="16.2" y="217.60000000000002" width="81.4" height="182.9" fill="none" stroke="#3c3ca8" stroke-width="1.4" opacity="0.75"/>
<line x1="11.4" y1="204.3" x2="102.4" y2="204.3" stroke="#ffff80" stroke-width="1.5" opacity="0.35"/>
<rect x="11.4" y="212.8" width="91" height="192.5" fill="none" stroke="#ffff00" stroke-width="3.4"/>
<text x="8.5" y="44.7" font-size="58" fill="#fff" stroke="#fff" stroke-width="0.6" font-family="'Liberation Sans', Arial, sans-serif">a</text>
<text x="44.1" y="45.3" font-size="56" fill="#fff" stroke="#fff" stroke-width="0.6" font-family="'Liberation Sans', Arial, sans-serif">)</text>
<text transform="translate(70.00,52.00) scale(1,1.08)" font-size="28" fill="#fff" stroke="#fff" stroke-width="0.5" font-family="'Liberation Sans', Arial, sans-serif">SrRuO</text><text transform="translate(158.57,57.70) scale(1,0.79)" font-size="20.2" fill="#fff" stroke="#fff" stroke-width="0.5" font-family="'Liberation Sans', Arial, sans-serif">3</text>
<text transform="translate(24.00,166.00) scale(1,1.08)" font-size="28" fill="#fff" stroke="#fff" stroke-width="0.5" font-family="'Liberation Sans', Arial, sans-serif">Ba</text><text transform="translate(58.25,171.70) scale(1,0.79)" font-size="20.2" fill="#fff" stroke="#fff" stroke-width="0.5" font-family="'Liberation Sans', Arial, sans-serif">0.5</text><text transform="translate(86.33,166.00) scale(1,1.08)" font-size="28" fill="#fff" stroke="#fff" stroke-width="0.5" font-family="'Liberation Sans', Arial, sans-serif">Sr</text><text transform="translate(114.33,171.70) scale(1,0.79)" font-size="20.2" fill="#fff" stroke="#fff" stroke-width="0.5" font-family="'Liberation Sans', Arial, sans-serif">0.5</text><text transform="translate(142.40,166.00) scale(1,1.08)" font-size="28" fill="#fff" stroke="#fff" stroke-width="0.5" font-family="'Liberation Sans', Arial, sans-serif">TiO</text><text transform="translate(186.47,171.70) scale(1,0.79)" font-size="20.2" fill="#fff" stroke="#fff" stroke-width="0.5" font-family="'Liberation Sans', Arial, sans-serif">3</text>
<text transform="translate(69.00,429.00) scale(1,1.08)" font-size="28" fill="#fff" stroke="#fff" stroke-width="0.5" font-family="'Liberation Sans', Arial, sans-serif">SrRuO</text><text transform="translate(157.57,434.70) scale(1,0.79)" font-size="20.2" fill="#fff" stroke="#fff" stroke-width="0.5" font-family="'Liberation Sans', Arial, sans-serif">3</text>
<text x="37" y="469.5" font-size="34.5" fill="#000" font-family="'Liberation Sans', Arial, sans-serif">5nm</text>
<rect x="16" y="484.5" width="114" height="5" fill="#000"/>
<g clip-path="url(#pa2c)">
<rect x="252" y="5" width="245" height="490" fill="url(#pa2bg)"/>
<rect x="252" y="5" width="245" height="490" fill="url(#pa2BK)" mask="url(#pa2mBK)"/>
<rect x="252" y="5" width="245" height="490" fill="url(#pa2TK)" mask="url(#pa2mTK)"/>
<rect x="252" y="5" width="245" height="490" fill="url(#pa2TB)" mask="url(#pa2mTB)"/>
<rect x="252" y="5" width="245" height="490" fill="url(#pa2TA)" mask="url(#pa2mTA)"/>
<rect x="252" y="5" width="245" height="490" fill="url(#pa2BS)" mask="url(#pa2mBS)"/>
<rect x="252" y="5" width="245" height="490" fill="url(#pa2BR)" mask="url(#pa2mBR)"/>
<rect x="252" y="442" width="81" height="53" fill="#e8e8e8" opacity="0.78"/>
</g>
<text x="260.5" y="468.0" font-size="34" fill="#000" font-family="'Liberation Sans', Arial, sans-serif">1nm</text>
<rect x="263" y="484.5" width="61" height="5" fill="#000"/>
<line x1="437.9" y1="105.2" x2="666.5769230769231" y2="105.2" stroke="#0a5cb0" stroke-width="3" stroke-dasharray="12 9.5" stroke-dashoffset="0" stroke-linecap="butt"/>
<line x1="437.9" y1="128.6" x2="656.9433333333334" y2="128.6" stroke="#0a5cb0" stroke-width="3" stroke-dasharray="12 9.5" stroke-dashoffset="0" stroke-linecap="butt"/>
<line x1="437.9" y1="153.2" x2="669.2535999999998" y2="153.2" stroke="#0a5cb0" stroke-width="3" stroke-dasharray="12 9.5" stroke-dashoffset="0" stroke-linecap="butt"/>
<line x1="437.9" y1="177.4" x2="670.0" y2="177.4" stroke="#0a5cb0" stroke-width="3" stroke-dasharray="12 9.5" stroke-dashoffset="0" stroke-linecap="butt"/>
<line x1="437.9" y1="201.8" x2="661.711111111111" y2="201.8" stroke="#0a5cb0" stroke-width="3" stroke-dasharray="12 9.5" stroke-dashoffset="0" stroke-linecap="butt"/>
<line x1="437.9" y1="226.2" x2="655.4110344827585" y2="226.2" stroke="#0a5cb0" stroke-width="3" stroke-dasharray="12 9.5" stroke-dashoffset="0" stroke-linecap="butt"/>
<line x1="431.79999999999995" y1="118.7" x2="763.8654761904761" y2="118.7" stroke="#8a00ff" stroke-width="3" stroke-dasharray="12 9.5" stroke-dashoffset="0" stroke-linecap="butt"/>
<line x1="431.79999999999995" y1="140.5" x2="767.1567164179105" y2="140.5" stroke="#8a00ff" stroke-width="3" stroke-dasharray="12 9.5" stroke-dashoffset="0" stroke-linecap="butt"/>
<line x1="431.79999999999995" y1="165.0" x2="763.6184210526314" y2="165.0" stroke="#8a00ff" stroke-width="3" stroke-dasharray="12 9.5" stroke-dashoffset="0" stroke-linecap="butt"/>
<line x1="431.79999999999995" y1="189.7" x2="765.9747252747252" y2="189.7" stroke="#8a00ff" stroke-width="3" stroke-dasharray="12 9.5" stroke-dashoffset="0" stroke-linecap="butt"/>
<line x1="431.79999999999995" y1="212.5" x2="763.7719999999999" y2="212.5" stroke="#8a00ff" stroke-width="3" stroke-dasharray="12 9.5" stroke-dashoffset="0" stroke-linecap="butt"/>
<line x1="431.79999999999995" y1="235.8" x2="760.1452380952381" y2="235.8" stroke="#8a00ff" stroke-width="3" stroke-dasharray="12 9.5" stroke-dashoffset="0" stroke-linecap="butt"/>
<line x1="437.9" y1="251.0" x2="635.7" y2="251.0" stroke="#6f9a35" stroke-width="3" stroke-dasharray="12 9.5" stroke-dashoffset="0" stroke-linecap="butt"/>
<line x1="437.9" y1="274.3" x2="645.0778625954199" y2="274.3" stroke="#6f9a35" stroke-width="3" stroke-dasharray="12 9.5" stroke-dashoffset="0" stroke-linecap="butt"/>
<line x1="437.9" y1="300.3" x2="651.7099999999999" y2="300.3" stroke="#6f9a35" stroke-width="3" stroke-dasharray="12 9.5" stroke-dashoffset="0" stroke-linecap="butt"/>
<line x1="437.9" y1="321.9" x2="652.0025477707007" y2="321.9" stroke="#6f9a35" stroke-width="3" stroke-dasharray="12 9.5" stroke-dashoffset="0" stroke-linecap="butt"/>
<line x1="437.9" y1="346.6" x2="645.2892561983471" y2="346.6" stroke="#6f9a35" stroke-width="3" stroke-dasharray="12 9.5" stroke-dashoffset="0" stroke-linecap="butt"/>
<line x1="437.9" y1="372.8" x2="645.0055555555556" y2="372.8" stroke="#6f9a35" stroke-width="3" stroke-dasharray="12 9.5" stroke-dashoffset="0" stroke-linecap="butt"/>
<line x1="437.9" y1="395.9" x2="656.0136363636364" y2="395.9" stroke="#6f9a35" stroke-width="3" stroke-dasharray="12 9.5" stroke-dashoffset="0" stroke-linecap="butt"/>
<line x1="432.0" y1="260.2" x2="835.0178571428571" y2="260.2" stroke="#ef6c10" stroke-width="3" stroke-dasharray="12 9.5" stroke-dashoffset="0" stroke-linecap="butt"/>
<line x1="432.0" y1="285.0" x2="853.5458333333333" y2="285.0" stroke="#ef6c10" stroke-width="3" stroke-dasharray="12 9.5" stroke-dashoffset="0" stroke-linecap="butt"/>
<line x1="432.0" y1="309.4" x2="848.3933333333332" y2="309.4" stroke="#ef6c10" stroke-width="3" stroke-dasharray="12 9.5" stroke-dashoffset="0" stroke-linecap="butt"/>
<line x1="432.0" y1="334.5" x2="855.4541666666667" y2="334.5" stroke="#ef6c10" stroke-width="3" stroke-dasharray="12 9.5" stroke-dashoffset="0" stroke-linecap="butt"/>
<line x1="432.0" y1="358.7" x2="852.603305785124" y2="358.7" stroke="#ef6c10" stroke-width="3" stroke-dasharray="12 9.5" stroke-dashoffset="0" stroke-linecap="butt"/>
<line x1="432.0" y1="382.2" x2="855.8333333333334" y2="382.2" stroke="#ef6c10" stroke-width="3" stroke-dasharray="12 9.5" stroke-dashoffset="0" stroke-linecap="butt"/>
<line x1="509.3" y1="56" x2="509.3" y2="446.5" stroke="#000" stroke-width="2"/>
<line x1="694" y1="56" x2="694" y2="446.5" stroke="#000" stroke-width="2"/>
<line x1="508.3" y1="446.5" x2="880" y2="446.5" stroke="#000" stroke-width="2"/>
<line x1="509.3" y1="446.5" x2="509.3" y2="450.5" stroke="#000" stroke-width="1.5"/>
<line x1="540.2" y1="446.5" x2="540.2" y2="450.5" stroke="#000" stroke-width="1.5"/>
<line x1="571.1" y1="446.5" x2="571.1" y2="450.5" stroke="#000" stroke-width="1.5"/>
<line x1="602.0" y1="446.5" x2="602.0" y2="450.5" stroke="#000" stroke-width="1.5"/>
<line x1="632.9" y1="446.5" x2="632.9" y2="450.5" stroke="#000" stroke-width="1.5"/>
<line x1="663.8" y1="446.5" x2="663.8" y2="450.5" stroke="#000" stroke-width="1.5"/>
<line x1="694.6" y1="446.5" x2="694.6" y2="450.5" stroke="#000" stroke-width="1.5"/>
<line x1="725.5" y1="446.5" x2="725.5" y2="450.5" stroke="#000" stroke-width="1.5"/>
<line x1="756.4" y1="446.5" x2="756.4" y2="450.5" stroke="#000" stroke-width="1.5"/>
<line x1="787.3" y1="446.5" x2="787.3" y2="450.5" stroke="#000" stroke-width="1.5"/>
<line x1="818.2" y1="446.5" x2="818.2" y2="450.5" stroke="#000" stroke-width="1.5"/>
<line x1="849.1" y1="446.5" x2="849.1" y2="450.5" stroke="#000" stroke-width="1.5"/>
<line x1="880.0" y1="446.5" x2="880.0" y2="450.5" stroke="#000" stroke-width="1.5"/>
<path d="M562.0,92.7 C568.0,93.4 583.4,95.1 596.3,96.8 C609.1,98.4 622.9,100.6 635.5,102.0 C648.0,103.5 667.9,103.6 668.0,105.0 C668.1,106.4 646.4,108.2 636.0,109.8 C625.5,111.5 618.8,113.2 608.2,114.6 C597.7,116.0 575.6,116.8 575.5,118.0 C575.4,119.2 596.1,119.7 607.9,121.3 C619.7,122.8 632.5,125.4 642.9,127.0 C653.4,128.5 667.8,128.9 667.7,130.0 C667.6,131.1 652.4,132.0 642.6,133.2 C632.8,134.5 623.2,135.8 611.6,137.1 C600.1,138.4 576.5,139.3 576.7,140.8 C576.9,142.3 600.6,144.4 612.9,145.9 C625.2,147.3 636.9,147.9 646.9,149.2 C656.9,150.5 671.6,151.9 670.0,153.3 C668.4,154.7 649.8,156.3 637.8,157.4 C625.7,158.6 612.5,159.0 601.2,160.1 C589.8,161.3 572.9,162.6 573.0,164.0 C573.1,165.4 591.5,166.5 601.6,167.8 C611.7,169.1 618.7,169.8 630.7,171.4 C642.7,173.1 667.8,175.6 670.0,177.4 C672.2,179.2 655.3,180.3 643.4,181.9 C631.5,183.5 614.0,185.1 601.8,186.5 C589.6,187.8 574.4,188.6 573.8,189.7 C573.2,190.8 586.1,191.6 598.2,192.9 C610.3,194.2 630.7,195.7 643.1,197.2 C655.4,198.6 671.3,199.4 669.0,201.0 C666.7,202.6 641.6,204.9 630.0,206.1 C618.4,207.3 613.1,206.8 602.7,207.8 C592.3,208.8 572.2,210.4 570.6,211.8 C569.0,213.2 582.1,214.0 593.6,215.9 C605.0,217.8 625.0,220.7 635.9,222.5 C646.8,224.3 656.8,225.3 656.0,226.3 C655.2,227.3 641.0,227.2 631.4,228.4 C621.8,229.6 613.3,231.4 601.4,232.9 C589.5,234.4 564.3,235.3 563.4,237.0 C562.5,238.7 586.0,240.9 596.3,242.6 C606.7,244.2 614.4,245.4 622.4,246.5 C630.3,247.6 640.7,247.7 641.7,249.0 C642.7,250.3 632.7,252.8 628.4,254.2 C624.1,255.6 622.1,255.5 617.2,257.0 C612.2,258.6 599.8,260.9 600.0,262.9 C600.2,264.9 612.7,267.1 618.3,268.5 C623.9,270.0 626.2,269.8 632.1,271.2 C637.9,272.5 650.2,274.5 651.8,276.0 C653.4,277.5 646.1,278.1 640.9,279.5 C635.8,281.0 627.3,283.0 622.3,284.1 C617.4,285.2 611.6,284.7 612.8,285.7 C614.0,286.7 624.0,288.1 629.2,289.7 C634.4,291.3 637.7,293.1 642.4,294.7 C647.1,296.4 655.5,297.6 656.0,299.0 C656.5,300.4 650.6,301.6 645.2,302.9 C639.8,304.3 630.4,305.4 625.4,306.9 C620.3,308.3 616.3,309.6 616.4,311.0 C616.5,312.4 620.8,313.4 625.9,314.6 C630.9,315.9 640.2,317.0 645.3,318.0 C650.4,319.0 655.3,319.5 655.0,320.6 C654.7,321.7 648.6,322.5 643.8,324.5 C639.0,326.6 632.1,330.3 627.7,332.4 C623.3,334.4 618.9,335.2 618.8,336.3 C618.7,337.4 623.1,337.9 626.9,338.6 C630.7,339.4 636.6,339.7 640.6,340.7 C644.6,341.8 650.0,343.3 650.0,344.7 C650.0,346.1 643.2,347.3 640.4,348.5 C637.5,349.7 637.2,350.1 633.7,351.5 C630.1,353.0 620.5,355.2 620.0,356.8 C619.5,358.4 627.2,359.1 630.8,360.6 C634.4,362.0 636.5,363.7 640.5,365.2 C644.5,366.6 653.3,367.3 653.7,368.8 C654.1,370.3 645.7,372.2 642.6,373.8 C639.6,375.4 639.8,376.4 636.2,378.1 C632.7,379.7 622.5,381.5 622.4,383.2 C622.3,384.9 631.5,386.4 635.8,387.9 C640.2,389.4 643.3,390.4 647.0,391.7 C650.8,393.0 656.7,394.1 657.3,395.3 C657.9,396.5 654.1,396.6 650.3,398.4 C646.5,400.2 639.3,403.8 635.6,405.6 C631.9,407.4 630.2,408.0 629.0,408.5" fill="none" stroke="#000" stroke-width="1.3" stroke-linejoin="round"/>
<path d="M727.5,85.3 C729.4,85.7 734.1,86.5 738.2,87.5 C742.3,88.4 747.1,89.9 751.0,90.6 C754.8,91.3 759.3,90.9 760.0,91.7 C760.7,92.5 756.2,93.5 755.0,95.0 C753.8,96.5 753.2,98.4 753.3,100.0 C753.4,101.6 759.3,102.7 755.8,104.2 C752.3,105.7 737.2,107.1 733.3,108.3 C729.4,109.5 731.0,109.8 733.3,110.8 C735.6,111.8 742.4,112.8 746.4,114.0 C750.4,115.1 752.9,116.4 756.3,117.4 C759.7,118.3 765.7,118.2 765.8,119.2 C765.9,120.2 760.3,121.4 756.9,123.2 C753.5,125.0 749.8,127.9 746.5,129.7 C743.2,131.5 739.6,132.4 738.3,133.3 C737.0,134.2 737.1,134.3 739.0,135.0 C740.9,135.7 745.3,136.3 749.0,137.1 C752.6,137.9 755.3,138.8 759.6,139.6 C763.9,140.4 772.4,140.7 773.3,141.7 C774.2,142.7 767.8,144.3 764.8,145.2 C761.8,146.1 759.0,146.1 756.1,147.0 C753.2,147.8 749.9,148.9 748.3,150.0 C746.7,151.1 747.7,152.2 746.7,153.3 C745.7,154.4 743.8,155.5 742.8,156.2 C741.9,156.9 741.7,156.7 741.4,157.3 C741.0,158.0 740.2,159.1 740.8,160.0 C741.4,160.9 739.3,161.4 745.0,162.5 C750.7,163.6 771.3,165.0 773.3,166.3 C775.3,167.6 760.5,168.8 756.7,170.0 C752.9,171.2 753.3,172.2 751.4,173.4 C749.4,174.5 748.2,175.0 745.6,176.4 C743.1,177.9 736.1,180.2 736.7,181.7 C737.3,183.2 744.3,184.0 748.9,185.2 C753.4,186.4 758.9,187.5 762.6,188.5 C766.3,189.4 772.2,189.7 770.0,190.8 C767.8,191.9 754.2,193.9 750.0,195.0 C745.8,196.1 747.8,196.3 746.0,197.0 C744.1,197.7 741.1,198.2 739.5,199.1 C737.8,199.9 736.8,200.7 736.7,201.7 C736.6,202.7 738.8,204.4 739.0,205.1 C739.2,205.8 737.8,205.2 738.0,205.7 C738.2,206.3 734.7,207.0 740.0,208.3 C745.3,209.6 766.8,211.6 768.3,213.3 C769.8,215.1 752.7,217.0 748.3,218.3 C743.9,219.6 745.1,219.8 743.4,221.0 C741.7,222.1 740.5,223.9 738.6,225.1 C736.7,226.2 733.0,226.5 732.5,227.5 C732.0,228.5 732.8,230.0 735.8,230.8 C738.8,231.6 745.2,231.3 749.6,232.2 C754.0,233.1 756.3,234.8 761.1,236.0 C765.8,237.2 779.5,237.6 776.7,239.2 C773.9,240.8 750.0,243.3 745.0,245.0 C740.0,246.7 746.9,247.8 747.9,249.0 C748.8,250.2 750.3,251.1 750.6,251.8 C751.0,252.6 743.9,252.5 750.0,253.3 C756.1,254.1 774.5,255.8 785.2,256.6 C796.0,257.5 799.3,257.2 811.2,258.1 C823.2,259.0 851.4,260.2 853.5,261.7 C855.6,263.2 831.4,265.6 823.1,266.9 C814.7,268.2 813.7,268.1 805.6,269.3 C797.5,270.5 777.3,272.2 776.8,273.7 C776.3,275.2 791.9,276.2 802.5,277.9 C813.1,279.7 827.4,282.1 837.1,283.5 C846.9,284.8 858.9,284.6 858.3,285.7 C857.7,286.8 842.1,288.1 833.7,289.7 C825.3,291.3 819.2,293.1 810.5,294.7 C801.8,296.4 784.9,297.6 784.0,299.0 C783.1,300.4 796.4,301.6 805.4,302.9 C814.5,304.3 826.4,305.4 835.6,306.9 C844.9,308.3 858.3,309.5 858.3,311.0 C858.3,312.5 843.8,313.8 835.5,315.4 C827.1,316.9 818.6,318.4 810.6,319.7 C802.7,321.1 790.0,321.9 790.0,323.0 C790.0,324.1 802.3,324.2 810.6,325.8 C819.0,327.4 829.4,330.5 837.7,332.1 C846.1,333.7 858.7,333.8 858.3,335.0 C857.9,336.2 842.9,337.5 835.5,338.9 C828.1,340.2 824.3,340.9 816.1,342.5 C808.0,344.2 789.8,346.6 789.0,348.3 C788.2,350.0 803.7,350.9 811.6,352.1 C819.4,353.3 824.9,353.7 833.9,355.1 C842.8,356.6 862.3,358.9 863.0,360.4 C863.7,361.9 845.3,362.4 837.7,363.8 C830.0,365.1 826.7,366.7 819.2,368.0 C811.7,369.3 796.0,369.8 795.0,371.2 C794.0,372.6 805.3,374.4 813.6,375.9 C821.8,377.4 832.7,378.2 842.2,379.7 C851.7,381.2 869.0,382.8 868.0,384.4 C867.0,386.0 846.4,387.6 836.5,389.1 C826.5,390.6 819.4,391.6 811.1,392.9 C802.7,394.2 789.3,395.3 788.5,396.5 C787.7,397.7 798.4,398.0 806.3,399.9 C814.2,401.9 825.6,405.8 833.7,407.7 C841.7,409.7 852.7,409.8 852.3,411.0 C851.9,412.2 839.4,413.7 831.7,414.8 C823.9,415.8 814.7,416.1 807.8,416.9 C800.8,417.7 794.8,418.9 792.0,419.3" fill="none" stroke="#000" stroke-width="1.3" stroke-linejoin="round"/>
<text transform="translate(674.4,113) scale(1,1.06)" font-size="25" fill="#000" font-family="'Liberation Sans', Arial, sans-serif">1</text>
<text transform="translate(675.6,138.4) scale(1,1.06)" font-size="25" fill="#000" font-family="'Liberation Sans', Arial, sans-serif">2</text>
<text transform="translate(675.6,163.7) scale(1,1.06)" font-size="25" fill="#000" font-family="'Liberation Sans', Arial, sans-serif">3</text>
<text transform="translate(675.6,186.6) scale(1,1.06)" font-size="25" fill="#000" font-family="'Liberation Sans', Arial, sans-serif">4</text>
<text transform="translate(675.6,210.6) scale(1,1.06)" font-size="25" fill="#000" font-family="'Liberation Sans', Arial, sans-serif">5</text>
<text transform="translate(675.6,233.5) scale(1,1.06)" font-size="25" fill="#000" font-family="'Liberation Sans', Arial, sans-serif">6</text>
<text transform="translate(660.0,259.3) scale(1,1.06)" font-size="25" fill="#000" font-family="'Liberation Sans', Arial, sans-serif">7</text>
<text transform="translate(660.4,284.5) scale(1,1.06)" font-size="25" fill="#000" font-family="'Liberation Sans', Arial, sans-serif">8</text>
<text transform="translate(660.0,307.4) scale(1,1.06)" font-size="25" fill="#000" font-family="'Liberation Sans', Arial, sans-serif">9</text>
<text transform="translate(651.1,332.7) scale(1,1.06)" font-size="25" fill="#000" font-family="'Liberation Sans', Arial, sans-serif">10</text>
<text transform="translate(652.4,355.5) scale(1,1.06)" font-size="25" fill="#000" font-family="'Liberation Sans', Arial, sans-serif">11</text>
<text transform="translate(653.4,379.6) scale(1,1.06)" font-size="25" fill="#000" font-family="'Liberation Sans', Arial, sans-serif">12</text>
<text transform="translate(653.4,403.7) scale(1,1.06)" font-size="25" fill="#000" font-family="'Liberation Sans', Arial, sans-serif">13</text>
<text transform="translate(778.7,127.6) scale(1,1.06)" font-size="25" fill="#000" font-family="'Liberation Sans', Arial, sans-serif">1</text>
<text transform="translate(779.0,154) scale(1,1.06)" font-size="25" fill="#000" font-family="'Liberation Sans', Arial, sans-serif">2</text>
<text transform="translate(779.0,177) scale(1,1.06)" font-size="25" fill="#000" font-family="'Liberation Sans', Arial, sans-serif">3</text>
<text transform="translate(779.0,199.8) scale(1,1.06)" font-size="25" fill="#000" font-family="'Liberation Sans', Arial, sans-serif">4</text>
<text transform="translate(779.0,223.9) scale(1,1.06)" font-size="25" fill="#000" font-family="'Liberation Sans', Arial, sans-serif">5</text>
<text transform="translate(779.0,248) scale(1,1.06)" font-size="25" fill="#000" font-family="'Liberation Sans', Arial, sans-serif">6</text>
<text transform="translate(871.8,272.5) scale(1,1.06)" font-size="25" fill="#000" font-family="'Liberation Sans', Arial, sans-serif">7</text>
<text transform="translate(871.8,299) scale(1,1.06)" font-size="25" fill="#000" font-family="'Liberation Sans', Arial, sans-serif">8</text>
<text transform="translate(871.8,324.3) scale(1,1.06)" font-size="25" fill="#000" font-family="'Liberation Sans', Arial, sans-serif">9</text>
<text transform="translate(864.1,347) scale(1,1.06)" font-size="25" fill="#000" font-family="'Liberation Sans', Arial, sans-serif">10</text>
<text transform="translate(864.1,370) scale(1,1.06)" font-size="25" fill="#000" font-family="'Liberation Sans', Arial, sans-serif">11</text>
<text transform="translate(861.7,394) scale(1,1.06)" font-size="25" fill="#000" font-family="'Liberation Sans', Arial, sans-serif">12</text>
<text x="521.5" y="45.7" font-size="58" fill="#000" font-family="'Liberation Sans', Arial, sans-serif">b</text>
<text x="556.8" y="45.1" font-size="56" fill="#000" font-family="'Liberation Sans', Arial, sans-serif">)</text>
<text x="529.1" y="479.8" font-size="33.9" fill="#000" font-family="'Liberation Sans', Arial, sans-serif">HAADF intensity (a.u.)</text>
<circle cx="394.4" cy="105.2" r="6.80" fill="url(#pBlue)"/>
<ellipse cx="391.0" cy="108.3" rx="2.58" ry="1.16" transform="rotate(45 391.0 108.3)" fill="#fff" opacity="0.75"/>
<circle cx="417.8" cy="105.2" r="6.80" fill="url(#pBlue)"/>
<ellipse cx="414.4" cy="108.3" rx="2.58" ry="1.16" transform="rotate(45 414.4 108.3)" fill="#fff" opacity="0.75"/>
<circle cx="440.6" cy="105.2" r="6.80" fill="url(#pBlue)"/>
<ellipse cx="437.2" cy="108.3" rx="2.58" ry="1.16" transform="rotate(45 437.2 108.3)" fill="#fff" opacity="0.75"/>
<circle cx="394.4" cy="128.6" r="6.80" fill="url(#pBlue)"/>
<ellipse cx="391.0" cy="131.7" rx="2.58" ry="1.16" transform="rotate(45 391.0 131.7)" fill="#fff" opacity="0.75"/>
<circle cx="417.8" cy="128.6" r="6.80" fill="url(#pBlue)"/>
<ellipse cx="414.4" cy="131.7" rx="2.58" ry="1.16" transform="rotate(45 414.4 131.7)" fill="#fff" opacity="0.75"/>
<circle cx="440.6" cy="128.6" r="6.80" fill="url(#pBlue)"/>
<ellipse cx="437.2" cy="131.7" rx="2.58" ry="1.16" transform="rotate(45 437.2 131.7)" fill="#fff" opacity="0.75"/>
<circle cx="394.4" cy="153.2" r="6.80" fill="url(#pBlue)"/>
<ellipse cx="391.0" cy="156.3" rx="2.58" ry="1.16" transform="rotate(45 391.0 156.3)" fill="#fff" opacity="0.75"/>
<circle cx="417.8" cy="153.2" r="6.80" fill="url(#pBlue)"/>
<ellipse cx="414.4" cy="156.3" rx="2.58" ry="1.16" transform="rotate(45 414.4 156.3)" fill="#fff" opacity="0.75"/>
<circle cx="440.6" cy="153.2" r="6.80" fill="url(#pBlue)"/>
<ellipse cx="437.2" cy="156.3" rx="2.58" ry="1.16" transform="rotate(45 437.2 156.3)" fill="#fff" opacity="0.75"/>
<circle cx="394.4" cy="177.4" r="6.80" fill="url(#pBlue)"/>
<ellipse cx="391.0" cy="180.5" rx="2.58" ry="1.16" transform="rotate(45 391.0 180.5)" fill="#fff" opacity="0.75"/>
<circle cx="417.8" cy="177.4" r="6.80" fill="url(#pBlue)"/>
<ellipse cx="414.4" cy="180.5" rx="2.58" ry="1.16" transform="rotate(45 414.4 180.5)" fill="#fff" opacity="0.75"/>
<circle cx="440.6" cy="177.4" r="6.80" fill="url(#pBlue)"/>
<ellipse cx="437.2" cy="180.5" rx="2.58" ry="1.16" transform="rotate(45 437.2 180.5)" fill="#fff" opacity="0.75"/>
<circle cx="394.4" cy="201.8" r="6.80" fill="url(#pBlue)"/>
<ellipse cx="391.0" cy="204.9" rx="2.58" ry="1.16" transform="rotate(45 391.0 204.9)" fill="#fff" opacity="0.75"/>
<circle cx="417.8" cy="201.8" r="6.80" fill="url(#pBlue)"/>
<ellipse cx="414.4" cy="204.9" rx="2.58" ry="1.16" transform="rotate(45 414.4 204.9)" fill="#fff" opacity="0.75"/>
<circle cx="440.6" cy="201.8" r="6.80" fill="url(#pBlue)"/>
<ellipse cx="437.2" cy="204.9" rx="2.58" ry="1.16" transform="rotate(45 437.2 204.9)" fill="#fff" opacity="0.75"/>
<circle cx="394.4" cy="226.2" r="6.80" fill="url(#pBlue)"/>
<ellipse cx="391.0" cy="229.3" rx="2.58" ry="1.16" transform="rotate(45 391.0 229.3)" fill="#fff" opacity="0.75"/>
<circle cx="417.8" cy="226.2" r="6.80" fill="url(#pBlue)"/>
<ellipse cx="414.4" cy="229.3" rx="2.58" ry="1.16" transform="rotate(45 414.4 229.3)" fill="#fff" opacity="0.75"/>
<circle cx="440.6" cy="226.2" r="6.80" fill="url(#pBlue)"/>
<ellipse cx="437.2" cy="229.3" rx="2.58" ry="1.16" transform="rotate(45 437.2 229.3)" fill="#fff" opacity="0.75"/>
<circle cx="404.8" cy="118.7" r="5.00" fill="url(#pPur)"/>
<ellipse cx="402.3" cy="121.0" rx="1.90" ry="0.85" transform="rotate(45 402.3 121.0)" fill="#fff" opacity="0.75"/>
<circle cx="428.2" cy="118.7" r="5.00" fill="url(#pPur)"/>
<ellipse cx="425.7" cy="121.0" rx="1.90" ry="0.85" transform="rotate(45 425.7 121.0)" fill="#fff" opacity="0.75"/>
<circle cx="404.8" cy="140.5" r="5.00" fill="url(#pPur)"/>
<ellipse cx="402.3" cy="142.8" rx="1.90" ry="0.85" transform="rotate(45 402.3 142.8)" fill="#fff" opacity="0.75"/>
<circle cx="428.2" cy="140.5" r="5.00" fill="url(#pPur)"/>
<ellipse cx="425.7" cy="142.8" rx="1.90" ry="0.85" transform="rotate(45 425.7 142.8)" fill="#fff" opacity="0.75"/>
<circle cx="404.8" cy="165.0" r="5.00" fill="url(#pPur)"/>
<ellipse cx="402.3" cy="167.2" rx="1.90" ry="0.85" transform="rotate(45 402.3 167.2)" fill="#fff" opacity="0.75"/>
<circle cx="428.2" cy="165.0" r="5.00" fill="url(#pPur)"/>
<ellipse cx="425.7" cy="167.2" rx="1.90" ry="0.85" transform="rotate(45 425.7 167.2)" fill="#fff" opacity="0.75"/>
<circle cx="404.8" cy="189.7" r="5.00" fill="url(#pPur)"/>
<ellipse cx="402.3" cy="191.9" rx="1.90" ry="0.85" transform="rotate(45 402.3 191.9)" fill="#fff" opacity="0.75"/>
<circle cx="428.2" cy="189.7" r="5.00" fill="url(#pPur)"/>
<ellipse cx="425.7" cy="191.9" rx="1.90" ry="0.85" transform="rotate(45 425.7 191.9)" fill="#fff" opacity="0.75"/>
<circle cx="404.8" cy="212.5" r="5.00" fill="url(#pPur)"/>
<ellipse cx="402.3" cy="214.8" rx="1.90" ry="0.85" transform="rotate(45 402.3 214.8)" fill="#fff" opacity="0.75"/>
<circle cx="428.2" cy="212.5" r="5.00" fill="url(#pPur)"/>
<ellipse cx="425.7" cy="214.8" rx="1.90" ry="0.85" transform="rotate(45 425.7 214.8)" fill="#fff" opacity="0.75"/>
<circle cx="404.8" cy="235.8" r="5.00" fill="url(#pPur)"/>
<ellipse cx="402.3" cy="238.1" rx="1.90" ry="0.85" transform="rotate(45 402.3 238.1)" fill="#fff" opacity="0.75"/>
<circle cx="428.2" cy="235.8" r="5.00" fill="url(#pPur)"/>
<ellipse cx="425.7" cy="238.1" rx="1.90" ry="0.85" transform="rotate(45 425.7 238.1)" fill="#fff" opacity="0.75"/>
<circle cx="392.9" cy="251.0" r="6.20" fill="url(#pGrn)"/>
<ellipse cx="389.8" cy="253.8" rx="2.36" ry="1.05" transform="rotate(45 389.8 253.8)" fill="#fff" opacity="0.75"/>
<circle cx="417.0" cy="251.0" r="6.20" fill="url(#pGrn)"/>
<ellipse cx="413.9" cy="253.8" rx="2.36" ry="1.05" transform="rotate(45 413.9 253.8)" fill="#fff" opacity="0.75"/>
<circle cx="439.8" cy="251.0" r="6.20" fill="url(#pGrn)"/>
<ellipse cx="436.7" cy="253.8" rx="2.36" ry="1.05" transform="rotate(45 436.7 253.8)" fill="#fff" opacity="0.75"/>
<circle cx="392.9" cy="274.3" r="6.20" fill="url(#pGrn)"/>
<ellipse cx="389.8" cy="277.1" rx="2.36" ry="1.05" transform="rotate(45 389.8 277.1)" fill="#fff" opacity="0.75"/>
<circle cx="417.0" cy="274.3" r="6.20" fill="url(#pGrn)"/>
<ellipse cx="413.9" cy="277.1" rx="2.36" ry="1.05" transform="rotate(45 413.9 277.1)" fill="#fff" opacity="0.75"/>
<circle cx="439.8" cy="274.3" r="6.20" fill="url(#pGrn)"/>
<ellipse cx="436.7" cy="277.1" rx="2.36" ry="1.05" transform="rotate(45 436.7 277.1)" fill="#fff" opacity="0.75"/>
<circle cx="392.9" cy="300.3" r="6.20" fill="url(#pGrn)"/>
<ellipse cx="389.8" cy="303.1" rx="2.36" ry="1.05" transform="rotate(45 389.8 303.1)" fill="#fff" opacity="0.75"/>
<circle cx="417.0" cy="300.3" r="6.20" fill="url(#pGrn)"/>
<ellipse cx="413.9" cy="303.1" rx="2.36" ry="1.05" transform="rotate(45 413.9 303.1)" fill="#fff" opacity="0.75"/>
<circle cx="439.8" cy="300.3" r="6.20" fill="url(#pGrn)"/>
<ellipse cx="436.7" cy="303.1" rx="2.36" ry="1.05" transform="rotate(45 436.7 303.1)" fill="#fff" opacity="0.75"/>
<circle cx="392.9" cy="321.9" r="6.20" fill="url(#pGrn)"/>
<ellipse cx="389.8" cy="324.7" rx="2.36" ry="1.05" transform="rotate(45 389.8 324.7)" fill="#fff" opacity="0.75"/>
<circle cx="417.0" cy="321.9" r="6.20" fill="url(#pGrn)"/>
<ellipse cx="413.9" cy="324.7" rx="2.36" ry="1.05" transform="rotate(45 413.9 324.7)" fill="#fff" opacity="0.75"/>
<circle cx="439.8" cy="321.9" r="6.20" fill="url(#pGrn)"/>
<ellipse cx="436.7" cy="324.7" rx="2.36" ry="1.05" transform="rotate(45 436.7 324.7)" fill="#fff" opacity="0.75"/>
<circle cx="392.9" cy="346.6" r="6.20" fill="url(#pGrn)"/>
<ellipse cx="389.8" cy="349.4" rx="2.36" ry="1.05" transform="rotate(45 389.8 349.4)" fill="#fff" opacity="0.75"/>
<circle cx="417.0" cy="346.6" r="6.20" fill="url(#pGrn)"/>
<ellipse cx="413.9" cy="349.4" rx="2.36" ry="1.05" transform="rotate(45 413.9 349.4)" fill="#fff" opacity="0.75"/>
<circle cx="439.8" cy="346.6" r="6.20" fill="url(#pGrn)"/>
<ellipse cx="436.7" cy="349.4" rx="2.36" ry="1.05" transform="rotate(45 436.7 349.4)" fill="#fff" opacity="0.75"/>
<circle cx="392.9" cy="372.8" r="6.20" fill="url(#pGrn)"/>
<ellipse cx="389.8" cy="375.6" rx="2.36" ry="1.05" transform="rotate(45 389.8 375.6)" fill="#fff" opacity="0.75"/>
<circle cx="417.0" cy="372.8" r="6.20" fill="url(#pGrn)"/>
<ellipse cx="413.9" cy="375.6" rx="2.36" ry="1.05" transform="rotate(45 413.9 375.6)" fill="#fff" opacity="0.75"/>
<circle cx="439.8" cy="372.8" r="6.20" fill="url(#pGrn)"/>
<ellipse cx="436.7" cy="375.6" rx="2.36" ry="1.05" transform="rotate(45 436.7 375.6)" fill="#fff" opacity="0.75"/>
<circle cx="392.9" cy="395.9" r="6.20" fill="url(#pGrn)"/>
<ellipse cx="389.8" cy="398.7" rx="2.36" ry="1.05" transform="rotate(45 389.8 398.7)" fill="#fff" opacity="0.75"/>
<circle cx="417.0" cy="395.9" r="6.20" fill="url(#pGrn)"/>
<ellipse cx="413.9" cy="398.7" rx="2.36" ry="1.05" transform="rotate(45 413.9 398.7)" fill="#fff" opacity="0.75"/>
<circle cx="439.8" cy="395.9" r="6.20" fill="url(#pGrn)"/>
<ellipse cx="436.7" cy="398.7" rx="2.36" ry="1.05" transform="rotate(45 436.7 398.7)" fill="#fff" opacity="0.75"/>
<circle cx="403.7" cy="260.2" r="6.20" fill="url(#pOra)"/>
<ellipse cx="400.6" cy="263.0" rx="2.36" ry="1.05" transform="rotate(45 400.6 263.0)" fill="#fff" opacity="0.75"/>
<circle cx="427.8" cy="260.2" r="6.20" fill="url(#pOra)"/>
<ellipse cx="424.7" cy="263.0" rx="2.36" ry="1.05" transform="rotate(45 424.7 263.0)" fill="#fff" opacity="0.75"/>
<circle cx="403.7" cy="285.0" r="6.20" fill="url(#pOra)"/>
<ellipse cx="400.6" cy="287.8" rx="2.36" ry="1.05" transform="rotate(45 400.6 287.8)" fill="#fff" opacity="0.75"/>
<circle cx="427.8" cy="285.0" r="6.20" fill="url(#pOra)"/>
<ellipse cx="424.7" cy="287.8" rx="2.36" ry="1.05" transform="rotate(45 424.7 287.8)" fill="#fff" opacity="0.75"/>
<circle cx="403.7" cy="309.4" r="6.20" fill="url(#pOra)"/>
<ellipse cx="400.6" cy="312.2" rx="2.36" ry="1.05" transform="rotate(45 400.6 312.2)" fill="#fff" opacity="0.75"/>
<circle cx="427.8" cy="309.4" r="6.20" fill="url(#pOra)"/>
<ellipse cx="424.7" cy="312.2" rx="2.36" ry="1.05" transform="rotate(45 424.7 312.2)" fill="#fff" opacity="0.75"/>
<circle cx="403.7" cy="334.5" r="6.20" fill="url(#pOra)"/>
<ellipse cx="400.6" cy="337.3" rx="2.36" ry="1.05" transform="rotate(45 400.6 337.3)" fill="#fff" opacity="0.75"/>
<circle cx="427.8" cy="334.5" r="6.20" fill="url(#pOra)"/>
<ellipse cx="424.7" cy="337.3" rx="2.36" ry="1.05" transform="rotate(45 424.7 337.3)" fill="#fff" opacity="0.75"/>
<circle cx="403.7" cy="358.7" r="6.20" fill="url(#pOra)"/>
<ellipse cx="400.6" cy="361.5" rx="2.36" ry="1.05" transform="rotate(45 400.6 361.5)" fill="#fff" opacity="0.75"/>
<circle cx="427.8" cy="358.7" r="6.20" fill="url(#pOra)"/>
<ellipse cx="424.7" cy="361.5" rx="2.36" ry="1.05" transform="rotate(45 424.7 361.5)" fill="#fff" opacity="0.75"/>
<circle cx="403.7" cy="382.2" r="6.20" fill="url(#pOra)"/>
<ellipse cx="400.6" cy="385.0" rx="2.36" ry="1.05" transform="rotate(45 400.6 385.0)" fill="#fff" opacity="0.75"/>
<circle cx="427.8" cy="382.2" r="6.20" fill="url(#pOra)"/>
<ellipse cx="424.7" cy="385.0" rx="2.36" ry="1.05" transform="rotate(45 424.7 385.0)" fill="#fff" opacity="0.75"/>
<rect x="391.3" y="87" width="3.4" height="313" fill="#ffff00"/>
<path d="M387.0,90 L393.0,77 L399.0,90 Z" fill="#ffff00"/>
<rect x="403.8" y="87" width="3.4" height="313" fill="#ffff00"/>
<path d="M399.5,90 L405.5,77 L411.5,90 Z" fill="#ffff00"/>
<text x="372" y="69" font-size="33" font-weight="bold" fill="#ffff00" font-family="'Liberation Sans', Arial, sans-serif">A</text>
<text x="405" y="69" font-size="33" font-weight="bold" fill="#ffff00" font-family="'Liberation Sans', Arial, sans-serif">B</text>
<g clip-path="url(#pcc)">
<rect x="989" y="7" width="241" height="488" fill="url(#pcbg)"/>
<rect x="989" y="7" width="241" height="488" fill="url(#pcK)" mask="url(#pcmK)"/>
<rect x="989" y="7" width="241" height="488" fill="url(#pcS)" mask="url(#pcmS)"/>
<rect x="989" y="7" width="241" height="488" fill="url(#pcA)" mask="url(#pcmA)"/>
<rect x="989" y="7" width="241" height="488" fill="url(#pcB)" mask="url(#pcmB)"/>
<rect x="989" y="443.5" width="136.5" height="51.5" fill="#e0e0e0" opacity="0.6"/>
</g>
<rect x="1160" y="8.5" width="65" height="65" fill="#050505"/>
<rect x="1184.7" y="11.5" width="1.6" height="59" fill="#fff" opacity="0.16"/>
<rect x="1191.7" y="11.5" width="1.6" height="59" fill="#fff" opacity="0.16"/>
<rect x="1198.7" y="11.5" width="1.6" height="59" fill="#fff" opacity="0.16"/>
<rect x="1166" y="40.5" width="53" height="1" fill="#fff" opacity="0.08"/>
<circle cx="1171.5" cy="34.0" r="2.0" fill="url(#gW)" opacity="0.14"/>
<circle cx="1171.5" cy="41.0" r="2.0" fill="url(#gW)" opacity="0.14"/>
<circle cx="1171.5" cy="48.0" r="2.0" fill="url(#gW)" opacity="0.14"/>
<circle cx="1178.5" cy="27.0" r="2.0" fill="url(#gW)" opacity="0.14"/>
<circle cx="1178.5" cy="34.0" r="2.0" fill="url(#gW)" opacity="0.32"/>
<circle cx="1178.5" cy="41.0" r="2.0" fill="url(#gW)" opacity="0.32"/>
<circle cx="1178.5" cy="48.0" r="2.0" fill="url(#gW)" opacity="0.32"/>
<circle cx="1178.5" cy="55.0" r="2.0" fill="url(#gW)" opacity="0.14"/>
<circle cx="1185.5" cy="20.0" r="2.0" fill="url(#gW)" opacity="0.14"/>
<circle cx="1185.5" cy="27.0" r="2.0" fill="url(#gW)" opacity="0.32"/>
<circle cx="1185.5" cy="34.0" r="2.0" fill="url(#gW)" opacity="0.8"/>
<circle cx="1185.5" cy="41.0" r="2.0" fill="url(#gW)" opacity="0.8"/>
<circle cx="1185.5" cy="48.0" r="2.0" fill="url(#gW)" opacity="0.8"/>
<circle cx="1185.5" cy="55.0" r="2.0" fill="url(#gW)" opacity="0.32"/>
<circle cx="1185.5" cy="62.0" r="2.0" fill="url(#gW)" opacity="0.14"/>
<circle cx="1192.5" cy="20.0" r="2.0" fill="url(#gW)" opacity="0.14"/>
<circle cx="1192.5" cy="27.0" r="2.0" fill="url(#gW)" opacity="0.32"/>
<circle cx="1192.5" cy="34.0" r="2.0" fill="url(#gW)" opacity="0.8"/>
<circle cx="1192.5" cy="41.0" r="3.0" fill="url(#gW)" opacity="0.8"/>
<circle cx="1192.5" cy="48.0" r="2.0" fill="url(#gW)" opacity="0.8"/>
<circle cx="1192.5" cy="55.0" r="2.0" fill="url(#gW)" opacity="0.32"/>
<circle cx="1192.5" cy="62.0" r="2.0" fill="url(#gW)" opacity="0.14"/>
<circle cx="1199.5" cy="20.0" r="2.0" fill="url(#gW)" opacity="0.14"/>
<circle cx="1199.5" cy="27.0" r="2.0" fill="url(#gW)" opacity="0.32"/>
<circle cx="1199.5" cy="34.0" r="2.0" fill="url(#gW)" opacity="0.8"/>
<circle cx="1199.5" cy="41.0" r="2.0" fill="url(#gW)" opacity="0.8"/>
<circle cx="1199.5" cy="48.0" r="2.0" fill="url(#gW)" opacity="0.8"/>
<circle cx="1199.5" cy="55.0" r="2.0" fill="url(#gW)" opacity="0.32"/>
<circle cx="1199.5" cy="62.0" r="2.0" fill="url(#gW)" opacity="0.14"/>
<circle cx="1206.5" cy="27.0" r="2.0" fill="url(#gW)" opacity="0.14"/>
<circle cx="1206.5" cy="34.0" r="2.0" fill="url(#gW)" opacity="0.32"/>
<circle cx="1206.5" cy="41.0" r="2.0" fill="url(#gW)" opacity="0.32"/>
<circle cx="1206.5" cy="48.0" r="2.0" fill="url(#gW)" opacity="0.32"/>
<circle cx="1206.5" cy="55.0" r="2.0" fill="url(#gW)" opacity="0.14"/>
<circle cx="1213.5" cy="34.0" r="2.0" fill="url(#gW)" opacity="0.14"/>
<circle cx="1213.5" cy="41.0" r="2.0" fill="url(#gW)" opacity="0.14"/>
<circle cx="1213.5" cy="48.0" r="2.0" fill="url(#gW)" opacity="0.14"/>
<rect x="1158.5" y="178.5" width="65" height="65" fill="#050505"/>
<rect x="1183.2" y="181.5" width="1.6" height="59" fill="#fff" opacity="0.16"/>
<rect x="1190.2" y="181.5" width="1.6" height="59" fill="#fff" opacity="0.16"/>
<rect x="1197.2" y="181.5" width="1.6" height="59" fill="#fff" opacity="0.16"/>
<rect x="1164.5" y="210.5" width="53" height="1" fill="#fff" opacity="0.08"/>
<circle cx="1170.0" cy="204.0" r="2.0" fill="url(#gW)" opacity="0.14"/>
<circle cx="1170.0" cy="211.0" r="2.0" fill="url(#gW)" opacity="0.14"/>
<circle cx="1170.0" cy="218.0" r="2.0" fill="url(#gW)" opacity="0.14"/>
<circle cx="1177.0" cy="197.0" r="2.0" fill="url(#gW)" opacity="0.14"/>
<circle cx="1177.0" cy="204.0" r="2.0" fill="url(#gW)" opacity="0.32"/>
<circle cx="1177.0" cy="211.0" r="2.0" fill="url(#gW)" opacity="0.32"/>
<circle cx="1177.0" cy="218.0" r="2.0" fill="url(#gW)" opacity="0.32"/>
<circle cx="1177.0" cy="225.0" r="2.0" fill="url(#gW)" opacity="0.14"/>
<circle cx="1184.0" cy="190.0" r="2.0" fill="url(#gW)" opacity="0.14"/>
<circle cx="1184.0" cy="197.0" r="2.0" fill="url(#gW)" opacity="0.32"/>
<circle cx="1184.0" cy="204.0" r="2.0" fill="url(#gW)" opacity="0.8"/>
<circle cx="1184.0" cy="211.0" r="2.0" fill="url(#gW)" opacity="0.8"/>
<circle cx="1184.0" cy="218.0" r="2.0" fill="url(#gW)" opacity="0.8"/>
<circle cx="1184.0" cy="225.0" r="2.0" fill="url(#gW)" opacity="0.32"/>
<circle cx="1184.0" cy="232.0" r="2.0" fill="url(#gW)" opacity="0.14"/>
<circle cx="1191.0" cy="190.0" r="2.0" fill="url(#gW)" opacity="0.14"/>
<circle cx="1191.0" cy="197.0" r="2.0" fill="url(#gW)" opacity="0.32"/>
<circle cx="1191.0" cy="204.0" r="2.0" fill="url(#gW)" opacity="0.8"/>
<circle cx="1191.0" cy="211.0" r="3.0" fill="url(#gW)" opacity="0.8"/>
<circle cx="1191.0" cy="218.0" r="2.0" fill="url(#gW)" opacity="0.8"/>
<circle cx="1191.0" cy="225.0" r="2.0" fill="url(#gW)" opacity="0.32"/>
<circle cx="1191.0" cy="232.0" r="2.0" fill="url(#gW)" opacity="0.14"/>
<circle cx="1198.0" cy="190.0" r="2.0" fill="url(#gW)" opacity="0.14"/>
<circle cx="1198.0" cy="197.0" r="2.0" fill="url(#gW)" opacity="0.32"/>
<circle cx="1198.0" cy="204.0" r="2.0" fill="url(#gW)" opacity="0.8"/>
<circle cx="1198.0" cy="211.0" r="2.0" fill="url(#gW)" opacity="0.8"/>
<circle cx="1198.0" cy="218.0" r="2.0" fill="url(#gW)" opacity="0.8"/>
<circle cx="1198.0" cy="225.0" r="2.0" fill="url(#gW)" opacity="0.32"/>
<circle cx="1198.0" cy="232.0" r="2.0" fill="url(#gW)" opacity="0.14"/>
<circle cx="1205.0" cy="197.0" r="2.0" fill="url(#gW)" opacity="0.14"/>
<circle cx="1205.0" cy="204.0" r="2.0" fill="url(#gW)" opacity="0.32"/>
<circle cx="1205.0" cy="211.0" r="2.0" fill="url(#gW)" opacity="0.32"/>
<circle cx="1205.0" cy="218.0" r="2.0" fill="url(#gW)" opacity="0.32"/>
<circle cx="1205.0" cy="225.0" r="2.0" fill="url(#gW)" opacity="0.14"/>
<circle cx="1212.0" cy="204.0" r="2.0" fill="url(#gW)" opacity="0.14"/>
<circle cx="1212.0" cy="211.0" r="2.0" fill="url(#gW)" opacity="0.14"/>
<circle cx="1212.0" cy="218.0" r="2.0" fill="url(#gW)" opacity="0.14"/>
<rect x="1158.5" y="366.5" width="65" height="65" fill="#050505"/>
<rect x="1183.2" y="369.5" width="1.6" height="59" fill="#fff" opacity="0.16"/>
<rect x="1190.2" y="369.5" width="1.6" height="59" fill="#fff" opacity="0.16"/>
<rect x="1197.2" y="369.5" width="1.6" height="59" fill="#fff" opacity="0.16"/>
<rect x="1164.5" y="398.5" width="53" height="1" fill="#fff" opacity="0.08"/>
<circle cx="1170.0" cy="392.0" r="2.0" fill="url(#gW)" opacity="0.14"/>
<circle cx="1170.0" cy="399.0" r="2.0" fill="url(#gW)" opacity="0.14"/>
<circle cx="1170.0" cy="406.0" r="2.0" fill="url(#gW)" opacity="0.14"/>
<circle cx="1177.0" cy="385.0" r="2.0" fill="url(#gW)" opacity="0.14"/>
<circle cx="1177.0" cy="392.0" r="2.0" fill="url(#gW)" opacity="0.32"/>
<circle cx="1177.0" cy="399.0" r="2.0" fill="url(#gW)" opacity="0.32"/>
<circle cx="1177.0" cy="406.0" r="2.0" fill="url(#gW)" opacity="0.32"/>
<circle cx="1177.0" cy="413.0" r="2.0" fill="url(#gW)" opacity="0.14"/>
<circle cx="1184.0" cy="378.0" r="2.0" fill="url(#gW)" opacity="0.14"/>
<circle cx="1184.0" cy="385.0" r="2.0" fill="url(#gW)" opacity="0.32"/>
<circle cx="1184.0" cy="392.0" r="2.0" fill="url(#gW)" opacity="0.8"/>
<circle cx="1184.0" cy="399.0" r="2.0" fill="url(#gW)" opacity="0.8"/>
<circle cx="1184.0" cy="406.0" r="2.0" fill="url(#gW)" opacity="0.8"/>
<circle cx="1184.0" cy="413.0" r="2.0" fill="url(#gW)" opacity="0.32"/>
<circle cx="1184.0" cy="420.0" r="2.0" fill="url(#gW)" opacity="0.14"/>
<circle cx="1191.0" cy="378.0" r="2.0" fill="url(#gW)" opacity="0.14"/>
<circle cx="1191.0" cy="385.0" r="2.0" fill="url(#gW)" opacity="0.32"/>
<circle cx="1191.0" cy="392.0" r="2.0" fill="url(#gW)" opacity="0.8"/>
<circle cx="1191.0" cy="399.0" r="3.0" fill="url(#gW)" opacity="0.8"/>
<circle cx="1191.0" cy="406.0" r="2.0" fill="url(#gW)" opacity="0.8"/>
<circle cx="1191.0" cy="413.0" r="2.0" fill="url(#gW)" opacity="0.32"/>
<circle cx="1191.0" cy="420.0" r="2.0" fill="url(#gW)" opacity="0.14"/>
<circle cx="1198.0" cy="378.0" r="2.0" fill="url(#gW)" opacity="0.14"/>
<circle cx="1198.0" cy="385.0" r="2.0" fill="url(#gW)" opacity="0.32"/>
<circle cx="1198.0" cy="392.0" r="2.0" fill="url(#gW)" opacity="0.8"/>
<circle cx="1198.0" cy="399.0" r="2.0" fill="url(#gW)" opacity="0.8"/>
<circle cx="1198.0" cy="406.0" r="2.0" fill="url(#gW)" opacity="0.8"/>
<circle cx="1198.0" cy="413.0" r="2.0" fill="url(#gW)" opacity="0.32"/>
<circle cx="1198.0" cy="420.0" r="2.0" fill="url(#gW)" opacity="0.14"/>
<circle cx="1205.0" cy="385.0" r="2.0" fill="url(#gW)" opacity="0.14"/>
<circle cx="1205.0" cy="392.0" r="2.0" fill="url(#gW)" opacity="0.32"/>
<circle cx="1205.0" cy="399.0" r="2.0" fill="url(#gW)" opacity="0.32"/>
<circle cx="1205.0" cy="406.0" r="2.0" fill="url(#gW)" opacity="0.32"/>
<circle cx="1205.0" cy="413.0" r="2.0" fill="url(#gW)" opacity="0.14"/>
<circle cx="1212.0" cy="392.0" r="2.0" fill="url(#gW)" opacity="0.14"/>
<circle cx="1212.0" cy="399.0" r="2.0" fill="url(#gW)" opacity="0.14"/>
<circle cx="1212.0" cy="406.0" r="2.0" fill="url(#gW)" opacity="0.14"/>
<rect x="990.0" y="209.0" width="100.2" height="201.2" fill="none" stroke="#3c3ca8" stroke-width="1.4" opacity="0.75"/>
<rect x="999.4" y="218.4" width="81.4" height="182.4" fill="none" stroke="#3c3ca8" stroke-width="1.4" opacity="0.75"/>
<line x1="994.6" y1="205.1" x2="1085.6" y2="205.1" stroke="#ffff80" stroke-width="1.5" opacity="0.35"/>
<rect x="994.6" y="213.6" width="91" height="192" fill="none" stroke="#ffff00" stroke-width="3.4"/>
<text x="992.6" y="44.9" font-size="58" fill="#fff" stroke="#fff" stroke-width="0.6" font-family="'Liberation Sans', Arial, sans-serif">c</text>
<text x="1025.4" y="45.7" font-size="56" fill="#fff" stroke="#fff" stroke-width="0.6" font-family="'Liberation Sans', Arial, sans-serif">)</text>
<text transform="translate(1054.50,52.00) scale(1,1.08)" font-size="28" fill="#fff" stroke="#fff" stroke-width="0.5" font-family="'Liberation Sans', Arial, sans-serif">SrRuO</text><text transform="translate(1143.07,57.70) scale(1,0.79)" font-size="20.2" fill="#fff" stroke="#fff" stroke-width="0.5" font-family="'Liberation Sans', Arial, sans-serif">3</text>
<text transform="translate(1009.00,166.00) scale(1,1.08)" font-size="28" fill="#fff" stroke="#fff" stroke-width="0.5" font-family="'Liberation Sans', Arial, sans-serif">Ba</text><text transform="translate(1043.25,171.70) scale(1,0.79)" font-size="20.2" fill="#fff" stroke="#fff" stroke-width="0.5" font-family="'Liberation Sans', Arial, sans-serif">0.5</text><text transform="translate(1071.33,166.00) scale(1,1.08)" font-size="28" fill="#fff" stroke="#fff" stroke-width="0.5" font-family="'Liberation Sans', Arial, sans-serif">Sr</text><text transform="translate(1099.33,171.70) scale(1,0.79)" font-size="20.2" fill="#fff" stroke="#fff" stroke-width="0.5" font-family="'Liberation Sans', Arial, sans-serif">0.5</text><text transform="translate(1127.40,166.00) scale(1,1.08)" font-size="28" fill="#fff" stroke="#fff" stroke-width="0.5" font-family="'Liberation Sans', Arial, sans-serif">TiO</text><text transform="translate(1171.47,171.70) scale(1,0.79)" font-size="20.2" fill="#fff" stroke="#fff" stroke-width="0.5" font-family="'Liberation Sans', Arial, sans-serif">3</text>
<text transform="translate(1053.00,428.00) scale(1,1.08)" font-size="28" fill="#fff" stroke="#fff" stroke-width="0.5" font-family="'Liberation Sans', Arial, sans-serif">SrRuO</text><text transform="translate(1141.57,433.70) scale(1,0.79)" font-size="20.2" fill="#fff" stroke="#fff" stroke-width="0.5" font-family="'Liberation Sans', Arial, sans-serif">3</text>
<text x="1023" y="472.2" font-size="34.5" fill="#000" font-family="'Liberation Sans', Arial, sans-serif">5nm</text>
<rect x="1000.6" y="485.1" width="114.10000000000002" height="5" fill="#000"/>
<g clip-path="url(#pc2c)">
<rect x="1237" y="7" width="245.5" height="488" fill="url(#pc2bg)"/>
<rect x="1237" y="7" width="245.5" height="488" fill="url(#pc2BK)" mask="url(#pc2mBK)"/>
<rect x="1237" y="7" width="245.5" height="488" fill="url(#pc2TK)" mask="url(#pc2mTK)"/>
<rect x="1237" y="7" width="245.5" height="488" fill="url(#pc2TB)" mask="url(#pc2mTB)"/>
<rect x="1237" y="7" width="245.5" height="488" fill="url(#pc2TA)" mask="url(#pc2mTA)"/>
<rect x="1237" y="7" width="245.5" height="488" fill="url(#pc2BS)" mask="url(#pc2mBS)"/>
<rect x="1237" y="7" width="245.5" height="488" fill="url(#pc2BR)" mask="url(#pc2mBR)"/>
<rect x="1237" y="443.5" width="81" height="51.5" fill="#e8e8e8" opacity="0.78"/>
</g>
<text x="1246.5" y="471.2" font-size="34" fill="#000" font-family="'Liberation Sans', Arial, sans-serif">1nm</text>
<rect x="1247" y="485.1" width="61" height="5" fill="#000"/>
<line x1="1422.9" y1="108.0" x2="1620.4958677685952" y2="108.0" stroke="#0a5cb0" stroke-width="3" stroke-dasharray="12 9.5" stroke-dashoffset="0" stroke-linecap="butt"/>
<line x1="1422.9" y1="131.0" x2="1624.8489208633093" y2="131.0" stroke="#0a5cb0" stroke-width="3" stroke-dasharray="12 9.5" stroke-dashoffset="0" stroke-linecap="butt"/>
<line x1="1422.9" y1="155.7" x2="1631.0" y2="155.7" stroke="#0a5cb0" stroke-width="3" stroke-dasharray="12 9.5" stroke-dashoffset="0" stroke-linecap="butt"/>
<line x1="1422.9" y1="180.5" x2="1620.287218045113" y2="180.5" stroke="#0a5cb0" stroke-width="3" stroke-dasharray="12 9.5" stroke-dashoffset="0" stroke-linecap="butt"/>
<line x1="1422.9" y1="206.1" x2="1626.2615384615383" y2="206.1" stroke="#0a5cb0" stroke-width="3" stroke-dasharray="12 9.5" stroke-dashoffset="0" stroke-linecap="butt"/>
<line x1="1422.9" y1="229.5" x2="1609.5714285714284" y2="229.5" stroke="#0a5cb0" stroke-width="3" stroke-dasharray="12 9.5" stroke-dashoffset="0" stroke-linecap="butt"/>
<line x1="1411.0" y1="118.7" x2="1745.734375" y2="118.7" stroke="#8a00ff" stroke-width="3" stroke-dasharray="12 9.5" stroke-dashoffset="0" stroke-linecap="butt"/>
<line x1="1411.0" y1="143.1" x2="1753.7376" y2="143.1" stroke="#8a00ff" stroke-width="3" stroke-dasharray="12 9.5" stroke-dashoffset="0" stroke-linecap="butt"/>
<line x1="1411.0" y1="169.5" x2="1750.9652892561985" y2="169.5" stroke="#8a00ff" stroke-width="3" stroke-dasharray="12 9.5" stroke-dashoffset="0" stroke-linecap="butt"/>
<line x1="1394.4" y1="194.0" x2="1748.823076923077" y2="194.0" stroke="#8a00ff" stroke-width="3" stroke-dasharray="12 9.5" stroke-dashoffset="0" stroke-linecap="butt"/>
<line x1="1394.4" y1="217.2" x2="1758.3999999999999" y2="217.2" stroke="#8a00ff" stroke-width="3" stroke-dasharray="12 9.5" stroke-dashoffset="0" stroke-linecap="butt"/>
<line x1="1394.4" y1="242.0" x2="1765.711475409836" y2="242.0" stroke="#8a00ff" stroke-width="3" stroke-dasharray="12 9.5" stroke-dashoffset="0" stroke-linecap="butt"/>
<line x1="1422.9" y1="254.2" x2="1605.0" y2="254.2" stroke="#6f9a35" stroke-width="3" stroke-dasharray="12 9.5" stroke-dashoffset="0" stroke-linecap="butt"/>
<line x1="1422.9" y1="278.8" x2="1606.2541666666668" y2="278.8" stroke="#6f9a35" stroke-width="3" stroke-dasharray="12 9.5" stroke-dashoffset="0" stroke-linecap="butt"/>
<line x1="1422.9" y1="303.5" x2="1617.3735537190082" y2="303.5" stroke="#6f9a35" stroke-width="3" stroke-dasharray="12 9.5" stroke-dashoffset="0" stroke-linecap="butt"/>
<line x1="1422.9" y1="328.0" x2="1612.7173553719008" y2="328.0" stroke="#6f9a35" stroke-width="3" stroke-dasharray="12 9.5" stroke-dashoffset="0" stroke-linecap="butt"/>
<line x1="1422.9" y1="352.7" x2="1618.1801470588236" y2="352.7" stroke="#6f9a35" stroke-width="3" stroke-dasharray="12 9.5" stroke-dashoffset="0" stroke-linecap="butt"/>
<line x1="1422.9" y1="377.1" x2="1622.0814814814814" y2="377.1" stroke="#6f9a35" stroke-width="3" stroke-dasharray="12 9.5" stroke-dashoffset="0" stroke-linecap="butt"/>
<line x1="1422.9" y1="400.6" x2="1620.9302013422819" y2="400.6" stroke="#6f9a35" stroke-width="3" stroke-dasharray="12 9.5" stroke-dashoffset="0" stroke-linecap="butt"/>
<line x1="1414.0" y1="264.6" x2="1828.1521739130433" y2="264.6" stroke="#ef6c10" stroke-width="3" stroke-dasharray="12 9.5" stroke-dashoffset="0" stroke-linecap="butt"/>
<line x1="1411.0" y1="291.2" x2="1841.2739130434784" y2="291.2" stroke="#ef6c10" stroke-width="3" stroke-dasharray="12 9.5" stroke-dashoffset="0" stroke-linecap="butt"/>
<line x1="1411.0" y1="315.8" x2="1842.0" y2="315.8" stroke="#ef6c10" stroke-width="3" stroke-dasharray="12 9.5" stroke-dashoffset="0" stroke-linecap="butt"/>
<line x1="1411.0" y1="340.3" x2="1842.1401515151515" y2="340.3" stroke="#ef6c10" stroke-width="3" stroke-dasharray="12 9.5" stroke-dashoffset="0" stroke-linecap="butt"/>
<line x1="1411.0" y1="364.7" x2="1836.8401515151515" y2="364.7" stroke="#ef6c10" stroke-width="3" stroke-dasharray="12 9.5" stroke-dashoffset="0" stroke-linecap="butt"/>
<line x1="1411.0" y1="388.0" x2="1842.0" y2="388.0" stroke="#ef6c10" stroke-width="3" stroke-dasharray="12 9.5" stroke-dashoffset="0" stroke-linecap="butt"/>
<line x1="1494.4" y1="60.6" x2="1494.4" y2="451.8" stroke="#000" stroke-width="2"/>
<line x1="1679" y1="60.6" x2="1679" y2="451.8" stroke="#000" stroke-width="2"/>
<line x1="1493.4" y1="451.8" x2="1865" y2="451.8" stroke="#000" stroke-width="2"/>
<line x1="1494.4" y1="451.8" x2="1494.4" y2="455.8" stroke="#000" stroke-width="1.5"/>
<line x1="1525.3" y1="451.8" x2="1525.3" y2="455.8" stroke="#000" stroke-width="1.5"/>
<line x1="1556.2" y1="451.8" x2="1556.2" y2="455.8" stroke="#000" stroke-width="1.5"/>
<line x1="1587.1" y1="451.8" x2="1587.1" y2="455.8" stroke="#000" stroke-width="1.5"/>
<line x1="1617.9" y1="451.8" x2="1617.9" y2="455.8" stroke="#000" stroke-width="1.5"/>
<line x1="1648.8" y1="451.8" x2="1648.8" y2="455.8" stroke="#000" stroke-width="1.5"/>
<line x1="1679.7" y1="451.8" x2="1679.7" y2="455.8" stroke="#000" stroke-width="1.5"/>
<line x1="1710.6" y1="451.8" x2="1710.6" y2="455.8" stroke="#000" stroke-width="1.5"/>
<line x1="1741.5" y1="451.8" x2="1741.5" y2="455.8" stroke="#000" stroke-width="1.5"/>
<line x1="1772.3" y1="451.8" x2="1772.3" y2="455.8" stroke="#000" stroke-width="1.5"/>
<line x1="1803.2" y1="451.8" x2="1803.2" y2="455.8" stroke="#000" stroke-width="1.5"/>
<line x1="1834.1" y1="451.8" x2="1834.1" y2="455.8" stroke="#000" stroke-width="1.5"/>
<line x1="1865.0" y1="451.8" x2="1865.0" y2="455.8" stroke="#000" stroke-width="1.5"/>
<path d="M1508.9,94.6 C1516.7,95.2 1538.1,96.7 1553.2,98.0 C1568.3,99.3 1579.3,100.6 1595.1,102.0 C1611.0,103.4 1644.7,104.2 1643.7,105.9 C1642.7,107.6 1606.8,110.1 1589.1,111.5 C1571.5,112.9 1556.5,112.7 1542.6,113.9 C1528.8,115.0 1508.4,116.5 1510.0,118.0 C1511.6,119.5 1536.2,120.8 1551.7,122.4 C1567.2,124.0 1584.3,125.4 1598.5,127.0 C1612.7,128.7 1633.6,130.5 1632.8,131.9 C1632.0,133.3 1606.7,133.8 1594.0,134.9 C1581.3,136.1 1574.7,136.9 1560.4,138.4 C1546.2,139.8 1513.5,141.7 1512.5,143.2 C1511.5,144.7 1541.0,145.5 1554.6,146.9 C1568.3,148.3 1577.0,149.4 1590.4,151.0 C1603.7,152.5 1630.7,154.1 1631.0,155.7 C1631.3,157.3 1607.2,158.2 1591.8,159.9 C1576.4,161.5 1556.9,163.8 1543.0,165.4 C1529.1,167.0 1512.4,167.8 1512.5,169.2 C1512.6,170.6 1531.5,172.0 1543.7,173.2 C1556.0,174.3 1568.2,174.6 1582.4,175.8 C1596.5,177.0 1624.5,178.5 1624.4,180.0 C1624.3,181.5 1595.9,182.6 1581.8,184.4 C1567.7,186.2 1555.5,188.7 1543.8,190.3 C1532.1,191.8 1514.5,192.1 1515.0,193.3 C1515.5,194.5 1531.8,195.7 1546.5,197.3 C1561.2,198.8 1584.9,200.4 1599.2,202.0 C1613.4,203.6 1629.9,204.9 1628.0,206.3 C1626.1,207.7 1602.8,208.4 1588.3,209.9 C1573.8,211.5 1557.9,213.7 1545.0,215.2 C1532.2,216.7 1513.7,217.4 1515.0,218.5 C1516.3,219.6 1541.5,220.3 1552.6,221.4 C1563.7,222.5 1567.5,223.5 1578.6,224.7 C1589.7,226.0 1616.4,226.9 1616.0,228.6 C1615.6,230.3 1586.5,232.8 1576.5,234.2 C1566.5,235.6 1568.6,235.3 1558.9,236.6 C1549.2,237.9 1522.9,240.1 1521.0,241.9 C1519.1,243.7 1537.2,245.2 1547.9,246.7 C1558.6,248.2 1572.1,249.1 1582.1,250.4 C1592.1,251.7 1604.0,252.9 1605.0,254.2 C1606.0,255.5 1593.1,256.6 1587.6,257.9 C1582.0,259.2 1579.7,260.4 1573.3,261.6 C1566.9,262.9 1552.0,263.7 1551.0,264.8 C1550.0,265.9 1560.8,266.9 1567.5,268.2 C1574.3,269.6 1581.7,270.9 1589.6,272.5 C1597.4,274.1 1612.6,275.4 1612.4,277.3 C1612.2,279.2 1595.4,281.5 1588.1,283.2 C1580.8,284.9 1576.7,285.6 1570.6,287.1 C1564.6,288.6 1553.5,290.3 1553.4,291.7 C1553.3,293.1 1563.1,293.5 1570.1,295.0 C1577.2,296.4 1585.1,298.6 1593.6,300.2 C1602.2,301.7 1619.5,302.4 1619.0,303.8 C1618.5,305.2 1597.6,306.8 1590.6,308.2 C1583.6,309.6 1586.3,310.4 1579.1,311.9 C1572.0,313.3 1550.6,314.8 1549.8,316.5 C1549.0,318.2 1566.9,320.3 1574.7,321.7 C1582.4,323.1 1586.9,323.2 1594.1,324.4 C1601.3,325.6 1616.1,327.1 1616.0,328.6 C1615.9,330.1 1601.6,331.6 1593.8,333.1 C1586.0,334.6 1579.0,335.7 1571.6,337.1 C1564.2,338.4 1550.7,339.5 1551.7,341.0 C1552.7,342.5 1568.9,344.2 1577.5,345.4 C1586.1,346.6 1593.2,346.7 1600.9,347.9 C1608.6,349.0 1621.4,350.4 1621.5,352.0 C1621.6,353.6 1609.6,355.5 1601.3,357.2 C1593.1,359.0 1582.0,360.6 1574.2,362.1 C1566.4,363.5 1556.2,364.4 1557.0,365.6 C1557.8,366.8 1569.8,367.4 1578.8,368.9 C1587.7,370.4 1600.1,372.9 1608.1,374.3 C1616.1,375.7 1625.3,375.8 1624.4,376.7 C1623.5,377.6 1610.6,378.0 1603.0,379.3 C1595.5,380.5 1588.5,382.4 1581.3,383.8 C1574.1,385.3 1561.1,385.9 1561.8,387.5 C1562.5,389.1 1578.0,391.9 1585.3,393.2 C1592.6,394.6 1596.8,394.0 1603.6,395.1 C1610.5,396.2 1624.3,397.6 1624.4,399.6 C1624.5,401.6 1609.2,404.9 1604.0,406.4 C1598.8,407.9 1600.2,407.0 1594.7,408.4 C1589.2,409.8 1576.5,413.4 1572.7,414.5" fill="none" stroke="#000" stroke-width="1.3" stroke-linejoin="round"/>
<path d="M1738.7,92.7 C1735.7,93.4 1726.7,95.1 1721.3,96.6 C1716.0,98.1 1714.0,99.3 1708.2,101.2 C1702.4,103.0 1688.3,105.3 1688.2,107.0 C1688.1,108.7 1699.9,109.2 1707.5,110.7 C1715.1,112.1 1724.6,113.9 1731.5,115.2 C1738.4,116.6 1747.8,116.9 1747.0,118.4 C1746.2,119.9 1733.0,122.2 1726.8,123.7 C1720.6,125.2 1717.5,125.7 1711.6,127.0 C1705.7,128.4 1693.0,129.7 1693.0,131.2 C1693.0,132.7 1703.9,134.0 1711.4,135.4 C1718.9,136.8 1727.9,137.8 1735.9,139.3 C1743.8,140.7 1757.6,142.0 1756.8,143.7 C1756.0,145.4 1739.0,147.3 1731.2,148.7 C1723.4,150.2 1719.5,150.3 1712.2,151.9 C1704.9,153.4 1688.9,155.7 1689.4,157.6 C1689.9,159.5 1707.2,160.8 1715.3,162.5 C1723.4,164.2 1729.2,166.1 1735.6,167.4 C1742.0,168.7 1752.2,168.4 1752.0,169.7 C1751.8,171.0 1739.7,173.2 1734.3,174.7 C1728.8,176.1 1727.0,176.6 1720.8,178.0 C1714.7,179.5 1698.7,181.3 1699.0,183.0 C1699.3,184.7 1717.6,186.5 1722.7,187.5 C1727.8,188.6 1723.2,188.0 1728.3,189.1 C1733.4,190.1 1752.1,191.7 1752.0,193.3 C1751.9,194.9 1733.8,197.0 1727.5,198.1 C1721.1,199.3 1721.8,198.7 1715.7,200.1 C1709.7,201.5 1693.4,204.7 1693.0,206.3 C1692.6,207.9 1705.4,207.8 1713.3,209.1 C1721.2,210.3 1730.1,212.1 1738.1,213.6 C1746.1,215.0 1758.5,215.9 1759.0,217.3 C1759.5,218.7 1747.7,220.0 1741.2,221.5 C1734.7,223.1 1729.1,224.7 1721.9,226.2 C1714.7,227.6 1700.3,228.6 1700.0,229.8 C1699.7,231.0 1711.9,231.8 1720.5,233.2 C1729.1,234.6 1740.6,236.4 1749.1,237.8 C1757.5,239.2 1768.6,240.3 1768.8,241.4 C1769.0,242.5 1757.4,242.8 1750.4,244.0 C1743.3,245.2 1736.4,246.6 1728.6,248.3 C1720.9,250.0 1702.4,251.9 1706.0,253.6 C1709.6,255.3 1734.1,256.4 1749.4,257.9 C1764.6,259.4 1779.2,261.0 1793.1,262.1 C1807.1,263.3 1827.9,263.6 1829.0,264.5 C1830.1,265.4 1811.5,266.1 1799.5,267.3 C1787.6,268.6 1772.6,270.2 1760.7,271.8 C1748.8,273.3 1729.9,274.5 1731.5,276.0 C1733.1,277.5 1756.7,278.9 1769.9,280.4 C1783.1,281.9 1793.3,282.9 1807.0,284.7 C1820.7,286.4 1848.1,288.6 1848.0,290.5 C1847.9,292.4 1818.9,294.2 1806.3,295.5 C1793.7,296.7 1787.9,296.5 1775.9,297.6 C1763.8,298.7 1737.6,300.4 1737.5,302.0 C1737.4,303.6 1762.1,304.9 1775.6,306.6 C1789.0,308.2 1802.8,309.8 1814.4,311.5 C1826.0,313.1 1844.0,314.3 1842.0,315.8 C1840.0,317.3 1814.2,318.7 1802.8,319.9 C1791.4,321.1 1788.3,321.2 1776.8,322.6 C1765.4,324.0 1737.8,326.2 1737.5,327.8 C1737.2,329.4 1762.1,329.9 1775.3,331.6 C1788.5,333.3 1800.3,335.7 1813.0,337.4 C1825.7,339.0 1848.9,339.5 1848.0,341.0 C1847.1,342.5 1819.4,344.6 1808.0,345.7 C1796.7,346.8 1794.8,346.3 1783.3,347.2 C1771.8,348.2 1743.1,349.8 1742.3,351.2 C1741.5,352.6 1766.3,353.6 1778.5,355.4 C1790.8,357.1 1801.0,359.6 1812.1,361.1 C1823.2,362.6 1842.9,362.7 1842.0,364.0 C1841.1,365.3 1819.2,366.8 1806.7,368.5 C1794.2,370.3 1781.3,372.4 1770.4,374.0 C1759.6,375.5 1742.6,376.1 1744.7,377.2 C1746.8,378.3 1770.7,379.2 1782.2,380.5 C1793.8,381.9 1800.2,383.7 1810.7,385.0 C1821.2,386.3 1842.2,386.7 1842.0,388.0 C1841.8,389.3 1819.5,391.5 1809.5,392.6 C1799.6,393.7 1795.9,393.3 1785.2,394.4 C1774.5,395.5 1749.3,397.3 1748.4,398.8 C1747.5,400.3 1769.5,401.6 1780.2,403.1 C1790.9,404.5 1796.6,405.3 1809.5,406.9 C1822.5,408.5 1851.0,410.6 1854.0,412.0 C1857.0,413.4 1831.4,414.5 1826.6,415.0" fill="none" stroke="#000" stroke-width="1.3" stroke-linejoin="round"/>
<text transform="translate(1643.4,113) scale(1,1.06)" font-size="25" fill="#000" font-family="'Liberation Sans', Arial, sans-serif">1</text>
<text transform="translate(1644.0,139.6) scale(1,1.06)" font-size="25" fill="#000" font-family="'Liberation Sans', Arial, sans-serif">2</text>
<text transform="translate(1644.0,166) scale(1,1.06)" font-size="25" fill="#000" font-family="'Liberation Sans', Arial, sans-serif">3</text>
<text transform="translate(1644.0,195) scale(1,1.06)" font-size="25" fill="#000" font-family="'Liberation Sans', Arial, sans-serif">4</text>
<text transform="translate(1644.0,217.8) scale(1,1.06)" font-size="25" fill="#000" font-family="'Liberation Sans', Arial, sans-serif">5</text>
<text transform="translate(1644.0,239.5) scale(1,1.06)" font-size="25" fill="#000" font-family="'Liberation Sans', Arial, sans-serif">6</text>
<text transform="translate(1630.6,260.5) scale(1,1.06)" font-size="25" fill="#000" font-family="'Liberation Sans', Arial, sans-serif">7</text>
<text transform="translate(1629.4,287) scale(1,1.06)" font-size="25" fill="#000" font-family="'Liberation Sans', Arial, sans-serif">8</text>
<text transform="translate(1629.4,311) scale(1,1.06)" font-size="25" fill="#000" font-family="'Liberation Sans', Arial, sans-serif">9</text>
<text transform="translate(1621.8,341) scale(1,1.06)" font-size="25" fill="#000" font-family="'Liberation Sans', Arial, sans-serif">10</text>
<text transform="translate(1621.8,364) scale(1,1.06)" font-size="25" fill="#000" font-family="'Liberation Sans', Arial, sans-serif">11</text>
<text transform="translate(1623.0,386.8) scale(1,1.06)" font-size="25" fill="#000" font-family="'Liberation Sans', Arial, sans-serif">12</text>
<text transform="translate(1623.0,412) scale(1,1.06)" font-size="25" fill="#000" font-family="'Liberation Sans', Arial, sans-serif">13</text>
<text transform="translate(1765.0,127.6) scale(1,1.06)" font-size="25" fill="#000" font-family="'Liberation Sans', Arial, sans-serif">1</text>
<text transform="translate(1766.0,154) scale(1,1.06)" font-size="25" fill="#000" font-family="'Liberation Sans', Arial, sans-serif">2</text>
<text transform="translate(1766.0,177) scale(1,1.06)" font-size="25" fill="#000" font-family="'Liberation Sans', Arial, sans-serif">3</text>
<text transform="translate(1766.0,199.8) scale(1,1.06)" font-size="25" fill="#000" font-family="'Liberation Sans', Arial, sans-serif">4</text>
<text transform="translate(1766.0,225) scale(1,1.06)" font-size="25" fill="#000" font-family="'Liberation Sans', Arial, sans-serif">5</text>
<text transform="translate(1766.0,249) scale(1,1.06)" font-size="25" fill="#000" font-family="'Liberation Sans', Arial, sans-serif">6</text>
<text transform="translate(1850.8,273.7) scale(1,1.06)" font-size="25" fill="#000" font-family="'Liberation Sans', Arial, sans-serif">7</text>
<text transform="translate(1850.8,300.2) scale(1,1.06)" font-size="25" fill="#000" font-family="'Liberation Sans', Arial, sans-serif">8</text>
<text transform="translate(1850.8,327.8) scale(1,1.06)" font-size="25" fill="#000" font-family="'Liberation Sans', Arial, sans-serif">9</text>
<text transform="translate(1845.4,352) scale(1,1.06)" font-size="25" fill="#000" font-family="'Liberation Sans', Arial, sans-serif">10</text>
<text transform="translate(1845.4,374.8) scale(1,1.06)" font-size="25" fill="#000" font-family="'Liberation Sans', Arial, sans-serif">11</text>
<text transform="translate(1844.4,398.8) scale(1,1.06)" font-size="25" fill="#000" font-family="'Liberation Sans', Arial, sans-serif">12</text>
<text x="1508.7" y="44.5" font-size="58" fill="#000" font-family="'Liberation Sans', Arial, sans-serif">d</text>
<text x="1544.4" y="43.9" font-size="56" fill="#000" font-family="'Liberation Sans', Arial, sans-serif">)</text>
<text x="1513.4" y="486.7" font-size="33.9" fill="#000" font-family="'Liberation Sans', Arial, sans-serif">HAADF intensity (a.u.)</text>
<circle cx="1377.5" cy="108.0" r="5.98" fill="url(#pBlue)"/>
<ellipse cx="1374.5" cy="110.7" rx="2.27" ry="1.02" transform="rotate(45 1374.5 110.7)" fill="#fff" opacity="0.75"/>
<circle cx="1400.5" cy="108.0" r="5.98" fill="url(#pBlue)"/>
<ellipse cx="1397.5" cy="110.7" rx="2.27" ry="1.02" transform="rotate(45 1397.5 110.7)" fill="#fff" opacity="0.75"/>
<circle cx="1423.0" cy="108.0" r="5.98" fill="url(#pBlue)"/>
<ellipse cx="1420.0" cy="110.7" rx="2.27" ry="1.02" transform="rotate(45 1420.0 110.7)" fill="#fff" opacity="0.75"/>
<circle cx="1377.5" cy="131.0" r="5.98" fill="url(#pBlue)"/>
<ellipse cx="1374.5" cy="133.7" rx="2.27" ry="1.02" transform="rotate(45 1374.5 133.7)" fill="#fff" opacity="0.75"/>
<circle cx="1400.5" cy="131.0" r="5.98" fill="url(#pBlue)"/>
<ellipse cx="1397.5" cy="133.7" rx="2.27" ry="1.02" transform="rotate(45 1397.5 133.7)" fill="#fff" opacity="0.75"/>
<circle cx="1423.0" cy="131.0" r="5.98" fill="url(#pBlue)"/>
<ellipse cx="1420.0" cy="133.7" rx="2.27" ry="1.02" transform="rotate(45 1420.0 133.7)" fill="#fff" opacity="0.75"/>
<circle cx="1377.5" cy="155.7" r="5.98" fill="url(#pBlue)"/>
<ellipse cx="1374.5" cy="158.4" rx="2.27" ry="1.02" transform="rotate(45 1374.5 158.4)" fill="#fff" opacity="0.75"/>
<circle cx="1400.5" cy="155.7" r="5.98" fill="url(#pBlue)"/>
<ellipse cx="1397.5" cy="158.4" rx="2.27" ry="1.02" transform="rotate(45 1397.5 158.4)" fill="#fff" opacity="0.75"/>
<circle cx="1423.0" cy="155.7" r="5.98" fill="url(#pBlue)"/>
<ellipse cx="1420.0" cy="158.4" rx="2.27" ry="1.02" transform="rotate(45 1420.0 158.4)" fill="#fff" opacity="0.75"/>
<circle cx="1377.5" cy="180.5" r="5.98" fill="url(#pBlue)"/>
<ellipse cx="1374.5" cy="183.2" rx="2.27" ry="1.02" transform="rotate(45 1374.5 183.2)" fill="#fff" opacity="0.75"/>
<circle cx="1400.5" cy="180.5" r="5.98" fill="url(#pBlue)"/>
<ellipse cx="1397.5" cy="183.2" rx="2.27" ry="1.02" transform="rotate(45 1397.5 183.2)" fill="#fff" opacity="0.75"/>
<circle cx="1423.0" cy="180.5" r="5.98" fill="url(#pBlue)"/>
<ellipse cx="1420.0" cy="183.2" rx="2.27" ry="1.02" transform="rotate(45 1420.0 183.2)" fill="#fff" opacity="0.75"/>
<circle cx="1377.5" cy="206.1" r="5.98" fill="url(#pBlue)"/>
<ellipse cx="1374.5" cy="208.8" rx="2.27" ry="1.02" transform="rotate(45 1374.5 208.8)" fill="#fff" opacity="0.75"/>
<circle cx="1400.5" cy="206.1" r="5.98" fill="url(#pBlue)"/>
<ellipse cx="1397.5" cy="208.8" rx="2.27" ry="1.02" transform="rotate(45 1397.5 208.8)" fill="#fff" opacity="0.75"/>
<circle cx="1423.0" cy="206.1" r="5.98" fill="url(#pBlue)"/>
<ellipse cx="1420.0" cy="208.8" rx="2.27" ry="1.02" transform="rotate(45 1420.0 208.8)" fill="#fff" opacity="0.75"/>
<circle cx="1377.5" cy="229.5" r="5.98" fill="url(#pBlue)"/>
<ellipse cx="1374.5" cy="232.2" rx="2.27" ry="1.02" transform="rotate(45 1374.5 232.2)" fill="#fff" opacity="0.75"/>
<circle cx="1400.5" cy="229.5" r="5.98" fill="url(#pBlue)"/>
<ellipse cx="1397.5" cy="232.2" rx="2.27" ry="1.02" transform="rotate(45 1397.5 232.2)" fill="#fff" opacity="0.75"/>
<circle cx="1423.0" cy="229.5" r="5.98" fill="url(#pBlue)"/>
<ellipse cx="1420.0" cy="232.2" rx="2.27" ry="1.02" transform="rotate(45 1420.0 232.2)" fill="#fff" opacity="0.75"/>
<circle cx="1388.0" cy="118.7" r="4.40" fill="url(#pPur)"/>
<ellipse cx="1385.8" cy="120.7" rx="1.67" ry="0.75" transform="rotate(45 1385.8 120.7)" fill="#fff" opacity="0.75"/>
<circle cx="1411.0" cy="118.7" r="4.40" fill="url(#pPur)"/>
<ellipse cx="1408.8" cy="120.7" rx="1.67" ry="0.75" transform="rotate(45 1408.8 120.7)" fill="#fff" opacity="0.75"/>
<circle cx="1388.0" cy="143.1" r="4.40" fill="url(#pPur)"/>
<ellipse cx="1385.8" cy="145.1" rx="1.67" ry="0.75" transform="rotate(45 1385.8 145.1)" fill="#fff" opacity="0.75"/>
<circle cx="1411.0" cy="143.1" r="4.40" fill="url(#pPur)"/>
<ellipse cx="1408.8" cy="145.1" rx="1.67" ry="0.75" transform="rotate(45 1408.8 145.1)" fill="#fff" opacity="0.75"/>
<circle cx="1388.0" cy="169.5" r="4.40" fill="url(#pPur)"/>
<ellipse cx="1385.8" cy="171.5" rx="1.67" ry="0.75" transform="rotate(45 1385.8 171.5)" fill="#fff" opacity="0.75"/>
<circle cx="1411.0" cy="169.5" r="4.40" fill="url(#pPur)"/>
<ellipse cx="1408.8" cy="171.5" rx="1.67" ry="0.75" transform="rotate(45 1408.8 171.5)" fill="#fff" opacity="0.75"/>
<circle cx="1388.0" cy="194.0" r="4.40" fill="url(#pPur)"/>
<ellipse cx="1385.8" cy="196.0" rx="1.67" ry="0.75" transform="rotate(45 1385.8 196.0)" fill="#fff" opacity="0.75"/>
<circle cx="1411.0" cy="194.0" r="4.40" fill="url(#pPur)"/>
<ellipse cx="1408.8" cy="196.0" rx="1.67" ry="0.75" transform="rotate(45 1408.8 196.0)" fill="#fff" opacity="0.75"/>
<circle cx="1388.0" cy="217.2" r="4.40" fill="url(#pPur)"/>
<ellipse cx="1385.8" cy="219.2" rx="1.67" ry="0.75" transform="rotate(45 1385.8 219.2)" fill="#fff" opacity="0.75"/>
<circle cx="1411.0" cy="217.2" r="4.40" fill="url(#pPur)"/>
<ellipse cx="1408.8" cy="219.2" rx="1.67" ry="0.75" transform="rotate(45 1408.8 219.2)" fill="#fff" opacity="0.75"/>
<circle cx="1388.0" cy="242.0" r="4.40" fill="url(#pPur)"/>
<ellipse cx="1385.8" cy="244.0" rx="1.67" ry="0.75" transform="rotate(45 1385.8 244.0)" fill="#fff" opacity="0.75"/>
<circle cx="1411.0" cy="242.0" r="4.40" fill="url(#pPur)"/>
<ellipse cx="1408.8" cy="244.0" rx="1.67" ry="0.75" transform="rotate(45 1408.8 244.0)" fill="#fff" opacity="0.75"/>
<circle cx="1376.0" cy="254.2" r="5.46" fill="url(#pGrn)"/>
<ellipse cx="1373.3" cy="256.7" rx="2.07" ry="0.93" transform="rotate(45 1373.3 256.7)" fill="#fff" opacity="0.75"/>
<circle cx="1400.0" cy="254.2" r="5.46" fill="url(#pGrn)"/>
<ellipse cx="1397.3" cy="256.7" rx="2.07" ry="0.93" transform="rotate(45 1397.3 256.7)" fill="#fff" opacity="0.75"/>
<circle cx="1424.0" cy="254.2" r="5.46" fill="url(#pGrn)"/>
<ellipse cx="1421.3" cy="256.7" rx="2.07" ry="0.93" transform="rotate(45 1421.3 256.7)" fill="#fff" opacity="0.75"/>
<circle cx="1376.0" cy="278.8" r="5.46" fill="url(#pGrn)"/>
<ellipse cx="1373.3" cy="281.3" rx="2.07" ry="0.93" transform="rotate(45 1373.3 281.3)" fill="#fff" opacity="0.75"/>
<circle cx="1400.0" cy="278.8" r="5.46" fill="url(#pGrn)"/>
<ellipse cx="1397.3" cy="281.3" rx="2.07" ry="0.93" transform="rotate(45 1397.3 281.3)" fill="#fff" opacity="0.75"/>
<circle cx="1424.0" cy="278.8" r="5.46" fill="url(#pGrn)"/>
<ellipse cx="1421.3" cy="281.3" rx="2.07" ry="0.93" transform="rotate(45 1421.3 281.3)" fill="#fff" opacity="0.75"/>
<circle cx="1376.0" cy="303.5" r="5.46" fill="url(#pGrn)"/>
<ellipse cx="1373.3" cy="306.0" rx="2.07" ry="0.93" transform="rotate(45 1373.3 306.0)" fill="#fff" opacity="0.75"/>
<circle cx="1400.0" cy="303.5" r="5.46" fill="url(#pGrn)"/>
<ellipse cx="1397.3" cy="306.0" rx="2.07" ry="0.93" transform="rotate(45 1397.3 306.0)" fill="#fff" opacity="0.75"/>
<circle cx="1424.0" cy="303.5" r="5.46" fill="url(#pGrn)"/>
<ellipse cx="1421.3" cy="306.0" rx="2.07" ry="0.93" transform="rotate(45 1421.3 306.0)" fill="#fff" opacity="0.75"/>
<circle cx="1376.0" cy="328.0" r="5.46" fill="url(#pGrn)"/>
<ellipse cx="1373.3" cy="330.5" rx="2.07" ry="0.93" transform="rotate(45 1373.3 330.5)" fill="#fff" opacity="0.75"/>
<circle cx="1400.0" cy="328.0" r="5.46" fill="url(#pGrn)"/>
<ellipse cx="1397.3" cy="330.5" rx="2.07" ry="0.93" transform="rotate(45 1397.3 330.5)" fill="#fff" opacity="0.75"/>
<circle cx="1424.0" cy="328.0" r="5.46" fill="url(#pGrn)"/>
<ellipse cx="1421.3" cy="330.5" rx="2.07" ry="0.93" transform="rotate(45 1421.3 330.5)" fill="#fff" opacity="0.75"/>
<circle cx="1376.0" cy="352.7" r="5.46" fill="url(#pGrn)"/>
<ellipse cx="1373.3" cy="355.2" rx="2.07" ry="0.93" transform="rotate(45 1373.3 355.2)" fill="#fff" opacity="0.75"/>
<circle cx="1400.0" cy="352.7" r="5.46" fill="url(#pGrn)"/>
<ellipse cx="1397.3" cy="355.2" rx="2.07" ry="0.93" transform="rotate(45 1397.3 355.2)" fill="#fff" opacity="0.75"/>
<circle cx="1424.0" cy="352.7" r="5.46" fill="url(#pGrn)"/>
<ellipse cx="1421.3" cy="355.2" rx="2.07" ry="0.93" transform="rotate(45 1421.3 355.2)" fill="#fff" opacity="0.75"/>
<circle cx="1376.0" cy="377.1" r="5.46" fill="url(#pGrn)"/>
<ellipse cx="1373.3" cy="379.6" rx="2.07" ry="0.93" transform="rotate(45 1373.3 379.6)" fill="#fff" opacity="0.75"/>
<circle cx="1400.0" cy="377.1" r="5.46" fill="url(#pGrn)"/>
<ellipse cx="1397.3" cy="379.6" rx="2.07" ry="0.93" transform="rotate(45 1397.3 379.6)" fill="#fff" opacity="0.75"/>
<circle cx="1424.0" cy="377.1" r="5.46" fill="url(#pGrn)"/>
<ellipse cx="1421.3" cy="379.6" rx="2.07" ry="0.93" transform="rotate(45 1421.3 379.6)" fill="#fff" opacity="0.75"/>
<circle cx="1376.0" cy="400.6" r="5.46" fill="url(#pGrn)"/>
<ellipse cx="1373.3" cy="403.1" rx="2.07" ry="0.93" transform="rotate(45 1373.3 403.1)" fill="#fff" opacity="0.75"/>
<circle cx="1400.0" cy="400.6" r="5.46" fill="url(#pGrn)"/>
<ellipse cx="1397.3" cy="403.1" rx="2.07" ry="0.93" transform="rotate(45 1397.3 403.1)" fill="#fff" opacity="0.75"/>
<circle cx="1424.0" cy="400.6" r="5.46" fill="url(#pGrn)"/>
<ellipse cx="1421.3" cy="403.1" rx="2.07" ry="0.93" transform="rotate(45 1421.3 403.1)" fill="#fff" opacity="0.75"/>
<circle cx="1387.0" cy="264.6" r="5.46" fill="url(#pOra)"/>
<ellipse cx="1384.3" cy="267.1" rx="2.07" ry="0.93" transform="rotate(45 1384.3 267.1)" fill="#fff" opacity="0.75"/>
<circle cx="1411.0" cy="264.6" r="5.46" fill="url(#pOra)"/>
<ellipse cx="1408.3" cy="267.1" rx="2.07" ry="0.93" transform="rotate(45 1408.3 267.1)" fill="#fff" opacity="0.75"/>
<circle cx="1387.0" cy="291.2" r="5.46" fill="url(#pOra)"/>
<ellipse cx="1384.3" cy="293.7" rx="2.07" ry="0.93" transform="rotate(45 1384.3 293.7)" fill="#fff" opacity="0.75"/>
<circle cx="1411.0" cy="291.2" r="5.46" fill="url(#pOra)"/>
<ellipse cx="1408.3" cy="293.7" rx="2.07" ry="0.93" transform="rotate(45 1408.3 293.7)" fill="#fff" opacity="0.75"/>
<circle cx="1387.0" cy="315.8" r="5.46" fill="url(#pOra)"/>
<ellipse cx="1384.3" cy="318.3" rx="2.07" ry="0.93" transform="rotate(45 1384.3 318.3)" fill="#fff" opacity="0.75"/>
<circle cx="1411.0" cy="315.8" r="5.46" fill="url(#pOra)"/>
<ellipse cx="1408.3" cy="318.3" rx="2.07" ry="0.93" transform="rotate(45 1408.3 318.3)" fill="#fff" opacity="0.75"/>
<circle cx="1387.0" cy="340.3" r="5.46" fill="url(#pOra)"/>
<ellipse cx="1384.3" cy="342.8" rx="2.07" ry="0.93" transform="rotate(45 1384.3 342.8)" fill="#fff" opacity="0.75"/>
<circle cx="1411.0" cy="340.3" r="5.46" fill="url(#pOra)"/>
<ellipse cx="1408.3" cy="342.8" rx="2.07" ry="0.93" transform="rotate(45 1408.3 342.8)" fill="#fff" opacity="0.75"/>
<circle cx="1387.0" cy="364.7" r="5.46" fill="url(#pOra)"/>
<ellipse cx="1384.3" cy="367.2" rx="2.07" ry="0.93" transform="rotate(45 1384.3 367.2)" fill="#fff" opacity="0.75"/>
<circle cx="1411.0" cy="364.7" r="5.46" fill="url(#pOra)"/>
<ellipse cx="1408.3" cy="367.2" rx="2.07" ry="0.93" transform="rotate(45 1408.3 367.2)" fill="#fff" opacity="0.75"/>
<circle cx="1387.0" cy="388.0" r="5.46" fill="url(#pOra)"/>
<ellipse cx="1384.3" cy="390.5" rx="2.07" ry="0.93" transform="rotate(45 1384.3 390.5)" fill="#fff" opacity="0.75"/>
<circle cx="1411.0" cy="388.0" r="5.46" fill="url(#pOra)"/>
<ellipse cx="1408.3" cy="390.5" rx="2.07" ry="0.93" transform="rotate(45 1408.3 390.5)" fill="#fff" opacity="0.75"/>
<rect x="1374.3" y="90" width="3.4" height="314" fill="#ffff00"/>
<path d="M1370.0,93 L1376.0,80 L1382.0,93 Z" fill="#ffff00"/>
<rect x="1385.9" y="90" width="3.4" height="314" fill="#ffff00"/>
<path d="M1381.6,93 L1387.6,80 L1393.6,93 Z" fill="#ffff00"/>
<text x="1356" y="71" font-size="33" font-weight="bold" fill="#ffff00" font-family="'Liberation Sans', Arial, sans-serif">A</text>
<text x="1387" y="71" font-size="33" font-weight="bold" fill="#ffff00" font-family="'Liberation Sans', Arial, sans-serif">B</text>
<g clip-path="url(#pec)">
<rect x="3" y="533" width="242.5" height="490" fill="url(#pebg)"/>
<rect x="3" y="533" width="242.5" height="490" fill="url(#peK)" mask="url(#pemK)"/>
<rect x="3" y="533" width="242.5" height="490" fill="url(#peS)" mask="url(#pemS)"/>
<rect x="3" y="533" width="242.5" height="490" fill="url(#peA)" mask="url(#pemA)"/>
<rect x="3" y="533" width="242.5" height="490" fill="url(#peB)" mask="url(#pemB)"/>
<rect x="3" y="969.7" width="137" height="53.3" fill="#e0e0e0" opacity="0.6"/>
</g>
<rect x="176.5" y="539" width="65" height="65" fill="#050505"/>
<rect x="201.2" y="542" width="1.6" height="59" fill="#fff" opacity="0.16"/>
<rect x="208.2" y="542" width="1.6" height="59" fill="#fff" opacity="0.16"/>
<rect x="215.2" y="542" width="1.6" height="59" fill="#fff" opacity="0.16"/>
<rect x="182.5" y="571.0" width="53" height="1" fill="#fff" opacity="0.08"/>
<circle cx="188.0" cy="564.5" r="2.0" fill="url(#gW)" opacity="0.14"/>
<circle cx="188.0" cy="571.5" r="2.0" fill="url(#gW)" opacity="0.14"/>
<circle cx="188.0" cy="578.5" r="2.0" fill="url(#gW)" opacity="0.14"/>
<circle cx="195.0" cy="557.5" r="2.0" fill="url(#gW)" opacity="0.14"/>
<circle cx="195.0" cy="564.5" r="2.0" fill="url(#gW)" opacity="0.32"/>
<circle cx="195.0" cy="571.5" r="2.0" fill="url(#gW)" opacity="0.32"/>
<circle cx="195.0" cy="578.5" r="2.0" fill="url(#gW)" opacity="0.32"/>
<circle cx="195.0" cy="585.5" r="2.0" fill="url(#gW)" opacity="0.14"/>
<circle cx="202.0" cy="550.5" r="2.0" fill="url(#gW)" opacity="0.14"/>
<circle cx="202.0" cy="557.5" r="2.0" fill="url(#gW)" opacity="0.32"/>
<circle cx="202.0" cy="564.5" r="2.0" fill="url(#gW)" opacity="0.8"/>
<circle cx="202.0" cy="571.5" r="2.0" fill="url(#gW)" opacity="0.8"/>
<circle cx="202.0" cy="578.5" r="2.0" fill="url(#gW)" opacity="0.8"/>
<circle cx="202.0" cy="585.5" r="2.0" fill="url(#gW)" opacity="0.32"/>
<circle cx="202.0" cy="592.5" r="2.0" fill="url(#gW)" opacity="0.14"/>
<circle cx="209.0" cy="550.5" r="2.0" fill="url(#gW)" opacity="0.14"/>
<circle cx="209.0" cy="557.5" r="2.0" fill="url(#gW)" opacity="0.32"/>
<circle cx="209.0" cy="564.5" r="2.0" fill="url(#gW)" opacity="0.8"/>
<circle cx="209.0" cy="571.5" r="3.0" fill="url(#gW)" opacity="0.8"/>
<circle cx="209.0" cy="578.5" r="2.0" fill="url(#gW)" opacity="0.8"/>
<circle cx="209.0" cy="585.5" r="2.0" fill="url(#gW)" opacity="0.32"/>
<circle cx="209.0" cy="592.5" r="2.0" fill="url(#gW)" opacity="0.14"/>
<circle cx="216.0" cy="550.5" r="2.0" fill="url(#gW)" opacity="0.14"/>
<circle cx="216.0" cy="557.5" r="2.0" fill="url(#gW)" opacity="0.32"/>
<circle cx="216.0" cy="564.5" r="2.0" fill="url(#gW)" opacity="0.8"/>
<circle cx="216.0" cy="571.5" r="2.0" fill="url(#gW)" opacity="0.8"/>
<circle cx="216.0" cy="578.5" r="2.0" fill="url(#gW)" opacity="0.8"/>
<circle cx="216.0" cy="585.5" r="2.0" fill="url(#gW)" opacity="0.32"/>
<circle cx="216.0" cy="592.5" r="2.0" fill="url(#gW)" opacity="0.14"/>
<circle cx="223.0" cy="557.5" r="2.0" fill="url(#gW)" opacity="0.14"/>
<circle cx="223.0" cy="564.5" r="2.0" fill="url(#gW)" opacity="0.32"/>
<circle cx="223.0" cy="571.5" r="2.0" fill="url(#gW)" opacity="0.32"/>
<circle cx="223.0" cy="578.5" r="2.0" fill="url(#gW)" opacity="0.32"/>
<circle cx="223.0" cy="585.5" r="2.0" fill="url(#gW)" opacity="0.14"/>
<circle cx="230.0" cy="564.5" r="2.0" fill="url(#gW)" opacity="0.14"/>
<circle cx="230.0" cy="571.5" r="2.0" fill="url(#gW)" opacity="0.14"/>
<circle cx="230.0" cy="578.5" r="2.0" fill="url(#gW)" opacity="0.14"/>
<rect x="176.5" y="705" width="65" height="65" fill="#050505"/>
<rect x="201.2" y="708" width="1.6" height="59" fill="#fff" opacity="0.16"/>
<rect x="208.2" y="708" width="1.6" height="59" fill="#fff" opacity="0.16"/>
<rect x="215.2" y="708" width="1.6" height="59" fill="#fff" opacity="0.16"/>
<rect x="182.5" y="737.0" width="53" height="1" fill="#fff" opacity="0.08"/>
<circle cx="188.0" cy="730.5" r="2.0" fill="url(#gW)" opacity="0.14"/>
<circle cx="188.0" cy="737.5" r="2.0" fill="url(#gW)" opacity="0.14"/>
<circle cx="188.0" cy="744.5" r="2.0" fill="url(#gW)" opacity="0.14"/>
<circle cx="195.0" cy="723.5" r="2.0" fill="url(#gW)" opacity="0.14"/>
<circle cx="195.0" cy="730.5" r="2.0" fill="url(#gW)" opacity="0.32"/>
<circle cx="195.0" cy="737.5" r="2.0" fill="url(#gW)" opacity="0.32"/>
<circle cx="195.0" cy="744.5" r="2.0" fill="url(#gW)" opacity="0.32"/>
<circle cx="195.0" cy="751.5" r="2.0" fill="url(#gW)" opacity="0.14"/>
<circle cx="202.0" cy="716.5" r="2.0" fill="url(#gW)" opacity="0.14"/>
<circle cx="202.0" cy="723.5" r="2.0" fill="url(#gW)" opacity="0.32"/>
<circle cx="202.0" cy="730.5" r="2.0" fill="url(#gW)" opacity="0.8"/>
<circle cx="202.0" cy="737.5" r="2.0" fill="url(#gW)" opacity="0.8"/>
<circle cx="202.0" cy="744.5" r="2.0" fill="url(#gW)" opacity="0.8"/>
<circle cx="202.0" cy="751.5" r="2.0" fill="url(#gW)" opacity="0.32"/>
<circle cx="202.0" cy="758.5" r="2.0" fill="url(#gW)" opacity="0.14"/>
<circle cx="209.0" cy="716.5" r="2.0" fill="url(#gW)" opacity="0.14"/>
<circle cx="209.0" cy="723.5" r="2.0" fill="url(#gW)" opacity="0.32"/>
<circle cx="209.0" cy="730.5" r="2.0" fill="url(#gW)" opacity="0.8"/>
<circle cx="209.0" cy="737.5" r="3.0" fill="url(#gW)" opacity="0.8"/>
<circle cx="209.0" cy="744.5" r="2.0" fill="url(#gW)" opacity="0.8"/>
<circle cx="209.0" cy="751.5" r="2.0" fill="url(#gW)" opacity="0.32"/>
<circle cx="209.0" cy="758.5" r="2.0" fill="url(#gW)" opacity="0.14"/>
<circle cx="216.0" cy="716.5" r="2.0" fill="url(#gW)" opacity="0.14"/>
<circle cx="216.0" cy="723.5" r="2.0" fill="url(#gW)" opacity="0.32"/>
<circle cx="216.0" cy="730.5" r="2.0" fill="url(#gW)" opacity="0.8"/>
<circle cx="216.0" cy="737.5" r="2.0" fill="url(#gW)" opacity="0.8"/>
<circle cx="216.0" cy="744.5" r="2.0" fill="url(#gW)" opacity="0.8"/>
<circle cx="216.0" cy="751.5" r="2.0" fill="url(#gW)" opacity="0.32"/>
<circle cx="216.0" cy="758.5" r="2.0" fill="url(#gW)" opacity="0.14"/>
<circle cx="223.0" cy="723.5" r="2.0" fill="url(#gW)" opacity="0.14"/>
<circle cx="223.0" cy="730.5" r="2.0" fill="url(#gW)" opacity="0.32"/>
<circle cx="223.0" cy="737.5" r="2.0" fill="url(#gW)" opacity="0.32"/>
<circle cx="223.0" cy="744.5" r="2.0" fill="url(#gW)" opacity="0.32"/>
<circle cx="223.0" cy="751.5" r="2.0" fill="url(#gW)" opacity="0.14"/>
<circle cx="230.0" cy="730.5" r="2.0" fill="url(#gW)" opacity="0.14"/>
<circle cx="230.0" cy="737.5" r="2.0" fill="url(#gW)" opacity="0.14"/>
<circle cx="230.0" cy="744.5" r="2.0" fill="url(#gW)" opacity="0.14"/>
<rect x="174.5" y="897" width="65" height="65" fill="#050505"/>
<rect x="199.2" y="900" width="1.6" height="59" fill="#fff" opacity="0.16"/>
<rect x="206.2" y="900" width="1.6" height="59" fill="#fff" opacity="0.16"/>
<rect x="213.2" y="900" width="1.6" height="59" fill="#fff" opacity="0.16"/>
<rect x="180.5" y="929.0" width="53" height="1" fill="#fff" opacity="0.08"/>
<circle cx="186.0" cy="922.5" r="2.0" fill="url(#gW)" opacity="0.14"/>
<circle cx="186.0" cy="929.5" r="2.0" fill="url(#gW)" opacity="0.14"/>
<circle cx="186.0" cy="936.5" r="2.0" fill="url(#gW)" opacity="0.14"/>
<circle cx="193.0" cy="915.5" r="2.0" fill="url(#gW)" opacity="0.14"/>
<circle cx="193.0" cy="922.5" r="2.0" fill="url(#gW)" opacity="0.32"/>
<circle cx="193.0" cy="929.5" r="2.0" fill="url(#gW)" opacity="0.32"/>
<circle cx="193.0" cy="936.5" r="2.0" fill="url(#gW)" opacity="0.32"/>
<circle cx="193.0" cy="943.5" r="2.0" fill="url(#gW)" opacity="0.14"/>
<circle cx="200.0" cy="908.5" r="2.0" fill="url(#gW)" opacity="0.14"/>
<circle cx="200.0" cy="915.5" r="2.0" fill="url(#gW)" opacity="0.32"/>
<circle cx="200.0" cy="922.5" r="2.0" fill="url(#gW)" opacity="0.8"/>
<circle cx="200.0" cy="929.5" r="2.0" fill="url(#gW)" opacity="0.8"/>
<circle cx="200.0" cy="936.5" r="2.0" fill="url(#gW)" opacity="0.8"/>
<circle cx="200.0" cy="943.5" r="2.0" fill="url(#gW)" opacity="0.32"/>
<circle cx="200.0" cy="950.5" r="2.0" fill="url(#gW)" opacity="0.14"/>
<circle cx="207.0" cy="908.5" r="2.0" fill="url(#gW)" opacity="0.14"/>
<circle cx="207.0" cy="915.5" r="2.0" fill="url(#gW)" opacity="0.32"/>
<circle cx="207.0" cy="922.5" r="2.0" fill="url(#gW)" opacity="0.8"/>
<circle cx="207.0" cy="929.5" r="3.0" fill="url(#gW)" opacity="0.8"/>
<circle cx="207.0" cy="936.5" r="2.0" fill="url(#gW)" opacity="0.8"/>
<circle cx="207.0" cy="943.5" r="2.0" fill="url(#gW)" opacity="0.32"/>
<circle cx="207.0" cy="950.5" r="2.0" fill="url(#gW)" opacity="0.14"/>
<circle cx="214.0" cy="908.5" r="2.0" fill="url(#gW)" opacity="0.14"/>
<circle cx="214.0" cy="915.5" r="2.0" fill="url(#gW)" opacity="0.32"/>
<circle cx="214.0" cy="922.5" r="2.0" fill="url(#gW)" opacity="0.8"/>
<circle cx="214.0" cy="929.5" r="2.0" fill="url(#gW)" opacity="0.8"/>
<circle cx="214.0" cy="936.5" r="2.0" fill="url(#gW)" opacity="0.8"/>
<circle cx="214.0" cy="943.5" r="2.0" fill="url(#gW)" opacity="0.32"/>
<circle cx="214.0" cy="950.5" r="2.0" fill="url(#gW)" opacity="0.14"/>
<circle cx="221.0" cy="915.5" r="2.0" fill="url(#gW)" opacity="0.14"/>
<circle cx="221.0" cy="922.5" r="2.0" fill="url(#gW)" opacity="0.32"/>
<circle cx="221.0" cy="929.5" r="2.0" fill="url(#gW)" opacity="0.32"/>
<circle cx="221.0" cy="936.5" r="2.0" fill="url(#gW)" opacity="0.32"/>
<circle cx="221.0" cy="943.5" r="2.0" fill="url(#gW)" opacity="0.14"/>
<circle cx="228.0" cy="922.5" r="2.0" fill="url(#gW)" opacity="0.14"/>
<circle cx="228.0" cy="929.5" r="2.0" fill="url(#gW)" opacity="0.14"/>
<circle cx="228.0" cy="936.5" r="2.0" fill="url(#gW)" opacity="0.14"/>
<rect x="7.6" y="741.6" width="99.4" height="202.2" fill="none" stroke="#3c3ca8" stroke-width="1.4" opacity="0.75"/>
<rect x="17.0" y="751.0" width="80.60000000000001" height="183.4" fill="none" stroke="#3c3ca8" stroke-width="1.4" opacity="0.75"/>
<line x1="12.2" y1="737.7" x2="102.4" y2="737.7" stroke="#ffff80" stroke-width="1.5" opacity="0.35"/>
<rect x="12.2" y="746.2" width="90.2" height="193" fill="none" stroke="#ffff00" stroke-width="3.4"/>
<text x="6.1" y="575.6" font-size="58" fill="#fff" stroke="#fff" stroke-width="0.6" font-family="'Liberation Sans', Arial, sans-serif">e</text>
<text x="41.6" y="573.1" font-size="56" fill="#fff" stroke="#fff" stroke-width="0.6" font-family="'Liberation Sans', Arial, sans-serif">)</text>
<text transform="translate(72.50,585.00) scale(1,1.08)" font-size="28" fill="#fff" stroke="#fff" stroke-width="0.5" font-family="'Liberation Sans', Arial, sans-serif">SrRuO</text><text transform="translate(161.07,590.70) scale(1,0.79)" font-size="20.2" fill="#fff" stroke="#fff" stroke-width="0.5" font-family="'Liberation Sans', Arial, sans-serif">3</text>
<text transform="translate(25.50,698.00) scale(1,1.08)" font-size="28" fill="#fff" stroke="#fff" stroke-width="0.5" font-family="'Liberation Sans', Arial, sans-serif">Ba</text><text transform="translate(59.75,703.70) scale(1,0.79)" font-size="20.2" fill="#fff" stroke="#fff" stroke-width="0.5" font-family="'Liberation Sans', Arial, sans-serif">0.5</text><text transform="translate(87.83,698.00) scale(1,1.08)" font-size="28" fill="#fff" stroke="#fff" stroke-width="0.5" font-family="'Liberation Sans', Arial, sans-serif">Sr</text><text transform="translate(115.83,703.70) scale(1,0.79)" font-size="20.2" fill="#fff" stroke="#fff" stroke-width="0.5" font-family="'Liberation Sans', Arial, sans-serif">0.5</text><text transform="translate(143.90,698.00) scale(1,1.08)" font-size="28" fill="#fff" stroke="#fff" stroke-width="0.5" font-family="'Liberation Sans', Arial, sans-serif">TiO</text><text transform="translate(187.97,703.70) scale(1,0.79)" font-size="20.2" fill="#fff" stroke="#fff" stroke-width="0.5" font-family="'Liberation Sans', Arial, sans-serif">3</text>
<text transform="translate(70.00,963.00) scale(1,1.08)" font-size="28" fill="#fff" stroke="#fff" stroke-width="0.5" font-family="'Liberation Sans', Arial, sans-serif">SrRuO</text><text transform="translate(158.57,968.70) scale(1,0.79)" font-size="20.2" fill="#fff" stroke="#fff" stroke-width="0.5" font-family="'Liberation Sans', Arial, sans-serif">3</text>
<text x="37.5" y="999.5" font-size="34.5" fill="#000" font-family="'Liberation Sans', Arial, sans-serif">5nm</text>
<rect x="15" y="1012.2" width="115" height="5" fill="#000"/>
<g clip-path="url(#pe2c)">
<rect x="249" y="533" width="245.5" height="490" fill="url(#pe2bg)"/>
<rect x="249" y="533" width="245.5" height="490" fill="url(#pe2BK)" mask="url(#pe2mBK)"/>
<rect x="249" y="533" width="245.5" height="490" fill="url(#pe2TK)" mask="url(#pe2mTK)"/>
<rect x="249" y="533" width="245.5" height="490" fill="url(#pe2TB)" mask="url(#pe2mTB)"/>
<rect x="249" y="533" width="245.5" height="490" fill="url(#pe2TA)" mask="url(#pe2mTA)"/>
<rect x="249" y="533" width="245.5" height="490" fill="url(#pe2BS)" mask="url(#pe2mBS)"/>
<rect x="249" y="533" width="245.5" height="490" fill="url(#pe2BR)" mask="url(#pe2mBR)"/>
<rect x="249" y="970" width="82.7" height="53" fill="#e8e8e8" opacity="0.78"/>
</g>
<text x="257.7" y="998.5" font-size="34" fill="#000" font-family="'Liberation Sans', Arial, sans-serif">1nm</text>
<rect x="260" y="1012.2" width="61" height="5" fill="#000"/>
<line x1="446.1" y1="648.1" x2="633.497222222222" y2="648.1" stroke="#0a5cb0" stroke-width="3" stroke-dasharray="12 9.5" stroke-dashoffset="0" stroke-linecap="butt"/>
<line x1="446.1" y1="669.6" x2="646.9017391304345" y2="669.6" stroke="#0a5cb0" stroke-width="3" stroke-dasharray="12 9.5" stroke-dashoffset="0" stroke-linecap="butt"/>
<line x1="446.1" y1="694.4" x2="646.4368055555559" y2="694.4" stroke="#0a5cb0" stroke-width="3" stroke-dasharray="12 9.5" stroke-dashoffset="0" stroke-linecap="butt"/>
<line x1="443.1" y1="718.8" x2="652.2871559633024" y2="718.8" stroke="#0a5cb0" stroke-width="3" stroke-dasharray="12 9.5" stroke-dashoffset="0" stroke-linecap="butt"/>
<line x1="443.1" y1="743.3" x2="644.5703703703704" y2="743.3" stroke="#0a5cb0" stroke-width="3" stroke-dasharray="12 9.5" stroke-dashoffset="0" stroke-linecap="butt"/>
<line x1="443.1" y1="766.7" x2="648.0366071428574" y2="766.7" stroke="#0a5cb0" stroke-width="3" stroke-dasharray="12 9.5" stroke-dashoffset="0" stroke-linecap="butt"/>
<line x1="434.9" y1="657.5" x2="777.8863095238096" y2="657.5" stroke="#8a00ff" stroke-width="3" stroke-dasharray="12 9.5" stroke-dashoffset="0" stroke-linecap="butt"/>
<line x1="432.0" y1="680.3" x2="777.0199999999999" y2="680.3" stroke="#8a00ff" stroke-width="3" stroke-dasharray="12 9.5" stroke-dashoffset="0" stroke-linecap="butt"/>
<line x1="432.0" y1="708.1" x2="781.4929487179487" y2="708.1" stroke="#8a00ff" stroke-width="3" stroke-dasharray="12 9.5" stroke-dashoffset="0" stroke-linecap="butt"/>
<line x1="433.4" y1="731.1" x2="783.7846153846153" y2="731.1" stroke="#8a00ff" stroke-width="3" stroke-dasharray="12 9.5" stroke-dashoffset="0" stroke-linecap="butt"/>
<line x1="433.4" y1="755.6" x2="790.1035294117647" y2="755.6" stroke="#8a00ff" stroke-width="3" stroke-dasharray="12 9.5" stroke-dashoffset="0" stroke-linecap="butt"/>
<line x1="430.9" y1="779.0" x2="796.8541666666666" y2="779.0" stroke="#8a00ff" stroke-width="3" stroke-dasharray="12 9.5" stroke-dashoffset="0" stroke-linecap="butt"/>
<line x1="447.5" y1="794.2" x2="639.8749999999999" y2="794.2" stroke="#6f9a35" stroke-width="3" stroke-dasharray="12 9.5" stroke-dashoffset="0" stroke-linecap="butt"/>
<line x1="444.6" y1="816.1" x2="645.0896551724137" y2="816.1" stroke="#6f9a35" stroke-width="3" stroke-dasharray="12 9.5" stroke-dashoffset="0" stroke-linecap="butt"/>
<line x1="444.6" y1="840.6" x2="650.4323353293411" y2="840.6" stroke="#6f9a35" stroke-width="3" stroke-dasharray="12 9.5" stroke-dashoffset="0" stroke-linecap="butt"/>
<line x1="447.5" y1="866.5" x2="641.84765625" y2="866.5" stroke="#6f9a35" stroke-width="3" stroke-dasharray="12 9.5" stroke-dashoffset="0" stroke-linecap="butt"/>
<line x1="444.6" y1="891.2" x2="647.7999999999998" y2="891.2" stroke="#6f9a35" stroke-width="3" stroke-dasharray="12 9.5" stroke-dashoffset="0" stroke-linecap="butt"/>
<line x1="444.6" y1="915.7" x2="648.6729323308269" y2="915.7" stroke="#6f9a35" stroke-width="3" stroke-dasharray="12 9.5" stroke-dashoffset="0" stroke-linecap="butt"/>
<line x1="444.6" y1="937.3" x2="651.3" y2="937.3" stroke="#6f9a35" stroke-width="3" stroke-dasharray="12 9.5" stroke-dashoffset="0" stroke-linecap="butt"/>
<line x1="434.9" y1="803.5" x2="843.8712121212119" y2="803.5" stroke="#ef6c10" stroke-width="3" stroke-dasharray="12 9.5" stroke-dashoffset="0" stroke-linecap="butt"/>
<line x1="434.9" y1="828.3" x2="831.7947368421052" y2="828.3" stroke="#ef6c10" stroke-width="3" stroke-dasharray="12 9.5" stroke-dashoffset="0" stroke-linecap="butt"/>
<line x1="432.0" y1="851.2" x2="854.5312500000007" y2="851.2" stroke="#ef6c10" stroke-width="3" stroke-dasharray="12 9.5" stroke-dashoffset="0" stroke-linecap="butt"/>
<line x1="430.5" y1="877.6" x2="854.2983333333336" y2="877.6" stroke="#ef6c10" stroke-width="3" stroke-dasharray="12 9.5" stroke-dashoffset="0" stroke-linecap="butt"/>
<line x1="432.0" y1="902.0" x2="837.4575757575759" y2="902.0" stroke="#ef6c10" stroke-width="3" stroke-dasharray="12 9.5" stroke-dashoffset="0" stroke-linecap="butt"/>
<line x1="432.0" y1="926.5" x2="857.8560509554138" y2="926.5" stroke="#ef6c10" stroke-width="3" stroke-dasharray="12 9.5" stroke-dashoffset="0" stroke-linecap="butt"/>
<line x1="507.3" y1="585.8" x2="507.3" y2="976.5" stroke="#000" stroke-width="2"/>
<line x1="692.7" y1="585.8" x2="692.7" y2="976.5" stroke="#000" stroke-width="2"/>
<line x1="506.3" y1="976.5" x2="877.6" y2="976.5" stroke="#000" stroke-width="2"/>
<line x1="507.3" y1="976.5" x2="507.3" y2="980.5" stroke="#000" stroke-width="1.5"/>
<line x1="538.2" y1="976.5" x2="538.2" y2="980.5" stroke="#000" stroke-width="1.5"/>
<line x1="569.0" y1="976.5" x2="569.0" y2="980.5" stroke="#000" stroke-width="1.5"/>
<line x1="599.9" y1="976.5" x2="599.9" y2="980.5" stroke="#000" stroke-width="1.5"/>
<line x1="630.7" y1="976.5" x2="630.7" y2="980.5" stroke="#000" stroke-width="1.5"/>
<line x1="661.6" y1="976.5" x2="661.6" y2="980.5" stroke="#000" stroke-width="1.5"/>
<line x1="692.5" y1="976.5" x2="692.5" y2="980.5" stroke="#000" stroke-width="1.5"/>
<line x1="723.3" y1="976.5" x2="723.3" y2="980.5" stroke="#000" stroke-width="1.5"/>
<line x1="754.2" y1="976.5" x2="754.2" y2="980.5" stroke="#000" stroke-width="1.5"/>
<line x1="785.0" y1="976.5" x2="785.0" y2="980.5" stroke="#000" stroke-width="1.5"/>
<line x1="815.9" y1="976.5" x2="815.9" y2="980.5" stroke="#000" stroke-width="1.5"/>
<line x1="846.7" y1="976.5" x2="846.7" y2="980.5" stroke="#000" stroke-width="1.5"/>
<line x1="877.6" y1="976.5" x2="877.6" y2="980.5" stroke="#000" stroke-width="1.5"/>
<path d="M616.4,639.5 C620.0,639.9 633.6,640.5 636.8,642.0 C639.9,643.5 638.9,646.5 634.4,648.0 C629.9,649.5 619.0,649.7 611.1,650.4 C603.1,651.1 596.2,651.2 588.9,652.0 C581.6,652.9 566.6,653.8 569.4,655.2 C572.2,656.6 595.7,658.8 605.1,660.3 C614.6,661.7 615.4,662.0 623.5,663.5 C631.6,665.1 650.5,667.5 651.3,669.0 C652.1,670.5 637.8,670.6 627.9,671.9 C618.0,673.1 605.1,674.5 594.5,676.0 C583.8,677.5 567.7,679.1 567.0,680.5 C566.3,681.9 580.9,682.7 590.3,684.2 C599.7,685.7 610.3,687.2 620.8,688.8 C631.2,690.5 648.3,692.2 650.0,693.7 C651.7,695.2 638.9,695.8 630.6,697.5 C622.3,699.2 611.9,701.5 602.5,703.4 C593.0,705.2 576.4,706.7 576.7,708.1 C577.0,709.5 594.8,710.1 604.2,711.6 C613.5,713.1 621.6,715.4 630.3,716.7 C638.9,718.0 654.9,717.9 653.7,719.0 C652.5,720.1 631.6,721.7 623.3,722.8 C615.0,724.0 615.1,724.0 606.1,725.5 C597.1,726.9 573.1,729.4 571.8,731.0 C570.5,732.6 590.4,733.1 598.8,734.5 C607.2,735.8 610.7,737.4 619.7,738.7 C628.6,740.1 647.8,740.9 650.0,742.3 C652.2,743.7 641.2,745.0 632.3,746.8 C623.4,748.6 608.7,751.0 599.0,752.6 C589.2,754.1 575.9,754.5 576.7,755.8 C577.5,757.1 595.8,758.7 603.3,759.9 C610.8,761.2 611.5,761.8 619.7,763.0 C627.9,764.2 648.8,765.5 650.0,767.0 C651.2,768.5 633.1,770.2 626.5,771.5 C619.8,772.8 619.7,773.2 612.1,774.5 C604.4,775.9 584.7,777.7 582.7,779.4 C580.7,781.1 593.1,782.2 600.6,784.1 C608.0,786.1 618.2,788.6 625.2,790.3 C632.2,792.0 640.8,792.4 640.5,794.0 C640.2,795.6 627.2,798.3 623.5,799.6 C619.7,801.0 622.6,800.6 619.0,801.7 C615.4,802.8 602.7,804.7 603.0,806.0 C603.3,807.3 615.8,808.0 620.8,809.1 C625.7,810.2 626.3,811.4 631.4,812.3 C636.5,813.2 648.5,813.6 650.0,814.5 C651.5,815.4 644.4,816.2 639.7,817.7 C635.0,819.2 629.0,821.2 623.0,823.2 C617.0,825.1 606.4,827.5 605.5,829.0 C604.6,830.5 612.7,830.5 617.7,831.9 C622.7,833.3 628.4,835.4 634.3,836.9 C640.2,838.4 651.0,838.8 651.3,840.3 C651.6,841.8 642.0,843.6 636.2,845.5 C630.5,847.4 624.0,849.3 618.2,851.3 C612.4,853.3 603.5,855.4 603.0,857.0 C602.5,858.6 609.3,859.2 615.1,860.2 C620.9,861.1 630.8,861.4 636.3,862.3 C641.8,863.1 646.6,863.8 646.5,865.0 C646.4,866.2 640.1,867.7 635.8,869.1 C631.5,870.5 627.1,871.5 622.0,873.1 C617.0,874.6 606.5,875.9 606.8,877.8 C607.1,879.7 619.3,882.2 623.7,883.6 C628.1,885.1 627.4,885.0 632.0,886.2 C636.6,887.4 648.9,889.0 650.0,890.4 C651.1,891.8 642.7,892.9 638.4,894.4 C634.2,895.9 630.7,897.2 625.7,899.0 C620.8,900.8 610.2,903.0 610.4,904.8 C610.6,906.6 622.3,907.7 627.0,909.2 C631.8,910.6 633.5,911.9 637.4,913.0 C641.2,914.2 649.4,914.5 649.0,915.6 C648.6,916.7 640.3,918.0 635.0,919.3 C629.7,920.7 624.0,921.7 618.9,923.4 C613.7,925.1 605.5,927.4 605.5,928.9 C605.5,930.4 613.6,931.0 619.0,932.1 C624.4,933.1 630.7,933.9 636.4,934.8 C642.0,935.8 650.9,936.2 651.3,937.3 C651.7,938.4 643.1,939.7 638.9,941.2 C634.6,942.7 631.7,944.1 627.0,945.9 C622.2,947.8 612.3,950.1 611.6,951.7 C610.9,953.3 619.4,953.9 623.0,955.1 C626.7,956.3 629.0,957.6 632.4,958.5 C635.9,959.4 641.1,959.9 642.9,960.2" fill="none" stroke="#000" stroke-width="1.3" stroke-linejoin="round"/>
<path d="M776.5,628.7 C777.1,629.5 780.9,631.8 780.0,633.5 C779.1,635.2 774.9,636.4 771.6,638.1 C768.3,639.9 765.2,641.9 761.2,643.6 C757.2,645.3 749.6,646.8 748.8,648.0 C748.0,649.2 752.5,649.8 756.9,650.6 C761.3,651.4 769.4,651.6 773.9,652.5 C778.3,653.3 782.9,653.4 782.5,655.2 C782.1,657.0 775.4,660.2 771.3,662.5 C767.3,664.8 763.5,666.5 759.5,668.2 C755.6,669.9 749.7,670.8 748.8,672.0 C747.9,673.2 750.8,674.0 754.7,674.9 C758.6,675.9 766.9,676.6 771.0,677.6 C775.0,678.6 778.6,678.8 777.7,680.5 C776.8,682.2 768.5,685.4 765.8,687.6 C763.2,689.7 764.8,690.5 762.5,692.6 C760.1,694.7 752.2,698.0 752.4,699.7 C752.6,701.4 760.3,701.2 763.7,702.1 C767.1,703.0 768.3,704.1 771.8,705.0 C775.3,705.8 783.5,705.6 783.7,707.0 C783.9,708.4 776.8,711.4 773.2,713.2 C769.6,715.1 766.7,715.9 763.1,717.6 C759.5,719.2 751.8,721.2 752.4,722.6 C753.0,724.0 762.9,724.4 766.5,725.4 C770.1,726.3 769.7,726.8 773.1,727.9 C776.5,729.0 785.1,730.2 786.0,731.7 C786.9,733.2 780.8,735.1 778.3,736.7 C775.7,738.4 774.3,739.1 771.3,741.1 C768.2,743.0 761.0,746.3 760.8,747.9 C760.6,749.5 766.3,749.5 770.0,750.5 C773.7,751.4 778.1,752.7 781.7,753.5 C785.4,754.3 790.6,753.9 791.0,755.0 C791.4,756.1 786.9,757.9 784.2,759.7 C781.5,761.5 778.8,763.0 775.6,765.1 C772.3,767.3 765.8,770.6 765.6,772.0 C765.4,773.4 771.2,772.4 774.3,773.2 C777.5,774.0 779.5,775.5 783.6,776.4 C787.8,777.3 796.9,777.6 798.0,778.5 C799.1,779.4 792.5,780.5 789.7,781.8 C786.8,783.1 785.2,784.4 781.8,785.9 C778.5,787.5 769.1,789.1 770.5,790.5 C771.9,791.9 780.6,792.2 789.7,793.8 C798.7,795.5 812.4,798.3 822.1,800.0 C831.8,801.7 843.6,802.4 845.0,803.7 C846.4,805.0 836.6,805.7 830.0,807.3 C823.5,808.8 814.8,811.3 807.5,812.7 C800.3,814.2 789.2,814.5 788.5,815.7 C787.8,816.9 798.3,818.4 803.6,819.9 C808.9,821.3 813.3,822.4 818.7,824.0 C824.0,825.6 834.7,827.3 834.2,829.0 C833.7,830.7 822.8,832.6 816.0,834.0 C809.2,835.4 801.7,835.7 795.4,837.2 C789.1,838.6 777.6,840.7 780.0,842.2 C782.4,843.7 798.8,844.2 809.0,845.5 C819.2,846.7 829.5,848.2 838.3,849.4 C847.2,850.5 859.1,850.7 859.5,851.8 C859.9,852.9 848.1,854.0 840.4,855.5 C832.7,856.9 824.3,858.1 815.4,860.0 C806.5,861.9 789.5,864.5 789.7,866.3 C789.9,868.1 809.0,869.2 816.3,870.4 C823.7,871.5 824.4,871.5 831.7,872.9 C839.1,874.2 857.6,876.6 858.3,878.3 C859.0,880.0 843.9,880.6 835.7,882.5 C827.5,884.4 818.6,887.4 811.6,889.0 C804.6,890.6 795.9,890.5 795.7,891.6 C795.5,892.7 803.8,893.6 810.3,895.3 C816.8,897.0 826.1,899.8 832.8,901.5 C839.5,903.1 849.7,903.4 848.7,904.8 C847.7,906.2 834.3,908.3 827.2,909.7 C820.1,911.0 814.9,911.2 808.1,912.5 C801.3,913.7 786.6,915.4 788.5,916.8 C790.4,918.2 809.8,919.4 818.8,920.4 C827.8,921.4 832.3,921.4 840.0,922.3 C847.7,923.1 863.7,923.8 863.0,925.3 C862.3,926.8 844.0,928.7 836.1,930.6 C828.3,932.5 825.3,934.6 818.2,936.4 C811.1,938.2 796.5,939.4 795.7,941.0 C794.9,942.6 810.6,944.9 813.8,945.7" fill="none" stroke="#000" stroke-width="1.3" stroke-linejoin="round"/>
<text transform="translate(654.4,654) scale(1,1.06)" font-size="25" fill="#000" font-family="'Liberation Sans', Arial, sans-serif">1</text>
<text transform="translate(655.0,679) scale(1,1.06)" font-size="25" fill="#000" font-family="'Liberation Sans', Arial, sans-serif">2</text>
<text transform="translate(655.0,704.5) scale(1,1.06)" font-size="25" fill="#000" font-family="'Liberation Sans', Arial, sans-serif">3</text>
<text transform="translate(655.0,727.4) scale(1,1.06)" font-size="25" fill="#000" font-family="'Liberation Sans', Arial, sans-serif">4</text>
<text transform="translate(655.0,752.7) scale(1,1.06)" font-size="25" fill="#000" font-family="'Liberation Sans', Arial, sans-serif">5</text>
<text transform="translate(655.0,774.3) scale(1,1.06)" font-size="25" fill="#000" font-family="'Liberation Sans', Arial, sans-serif">6</text>
<text transform="translate(661.0,802.5) scale(1,1.06)" font-size="25" fill="#000" font-family="'Liberation Sans', Arial, sans-serif">7</text>
<text transform="translate(661.0,826.6) scale(1,1.06)" font-size="25" fill="#000" font-family="'Liberation Sans', Arial, sans-serif">8</text>
<text transform="translate(661.0,849.4) scale(1,1.06)" font-size="25" fill="#000" font-family="'Liberation Sans', Arial, sans-serif">9</text>
<text transform="translate(651.1,872.3) scale(1,1.06)" font-size="25" fill="#000" font-family="'Liberation Sans', Arial, sans-serif">10</text>
<text transform="translate(651.1,896.4) scale(1,1.06)" font-size="25" fill="#000" font-family="'Liberation Sans', Arial, sans-serif">11</text>
<text transform="translate(652.4,920.5) scale(1,1.06)" font-size="25" fill="#000" font-family="'Liberation Sans', Arial, sans-serif">12</text>
<text transform="translate(652.4,943.3) scale(1,1.06)" font-size="25" fill="#000" font-family="'Liberation Sans', Arial, sans-serif">13</text>
<text transform="translate(797.9,663.6) scale(1,1.06)" font-size="25" fill="#000" font-family="'Liberation Sans', Arial, sans-serif">1</text>
<text transform="translate(797.0,690) scale(1,1.06)" font-size="25" fill="#000" font-family="'Liberation Sans', Arial, sans-serif">2</text>
<text transform="translate(797.0,714) scale(1,1.06)" font-size="25" fill="#000" font-family="'Liberation Sans', Arial, sans-serif">3</text>
<text transform="translate(797.0,738.2) scale(1,1.06)" font-size="25" fill="#000" font-family="'Liberation Sans', Arial, sans-serif">4</text>
<text transform="translate(797.0,762.3) scale(1,1.06)" font-size="25" fill="#000" font-family="'Liberation Sans', Arial, sans-serif">5</text>
<text transform="translate(797.0,784) scale(1,1.06)" font-size="25" fill="#000" font-family="'Liberation Sans', Arial, sans-serif">6</text>
<text transform="translate(868.0,814.5) scale(1,1.06)" font-size="25" fill="#000" font-family="'Liberation Sans', Arial, sans-serif">7</text>
<text transform="translate(868.0,842.2) scale(1,1.06)" font-size="25" fill="#000" font-family="'Liberation Sans', Arial, sans-serif">8</text>
<text transform="translate(868.0,866.3) scale(1,1.06)" font-size="25" fill="#000" font-family="'Liberation Sans', Arial, sans-serif">9</text>
<text transform="translate(858.1,890.4) scale(1,1.06)" font-size="25" fill="#000" font-family="'Liberation Sans', Arial, sans-serif">10</text>
<text transform="translate(858.1,914.4) scale(1,1.06)" font-size="25" fill="#000" font-family="'Liberation Sans', Arial, sans-serif">11</text>
<text transform="translate(858.1,938.5) scale(1,1.06)" font-size="25" fill="#000" font-family="'Liberation Sans', Arial, sans-serif">12</text>
<text x="530.4" y="574.5" font-size="58" fill="#000" font-family="'Liberation Sans', Arial, sans-serif">f</text>
<text x="548.4" y="575.3" font-size="56" fill="#000" font-family="'Liberation Sans', Arial, sans-serif">)</text>
<text x="524.4" y="1009.5" font-size="33.9" fill="#000" font-family="'Liberation Sans', Arial, sans-serif">HAADF intensity (a.u.)</text>
<circle cx="397.7" cy="648.1" r="5.98" fill="url(#pBlue)"/>
<ellipse cx="394.7" cy="650.8" rx="2.27" ry="1.02" transform="rotate(45 394.7 650.8)" fill="#fff" opacity="0.75"/>
<circle cx="421.0" cy="648.1" r="5.98" fill="url(#pBlue)"/>
<ellipse cx="418.0" cy="650.8" rx="2.27" ry="1.02" transform="rotate(45 418.0 650.8)" fill="#fff" opacity="0.75"/>
<circle cx="443.4" cy="648.1" r="5.98" fill="url(#pBlue)"/>
<ellipse cx="440.4" cy="650.8" rx="2.27" ry="1.02" transform="rotate(45 440.4 650.8)" fill="#fff" opacity="0.75"/>
<circle cx="397.7" cy="669.6" r="5.98" fill="url(#pBlue)"/>
<ellipse cx="394.7" cy="672.3" rx="2.27" ry="1.02" transform="rotate(45 394.7 672.3)" fill="#fff" opacity="0.75"/>
<circle cx="421.0" cy="669.6" r="5.98" fill="url(#pBlue)"/>
<ellipse cx="418.0" cy="672.3" rx="2.27" ry="1.02" transform="rotate(45 418.0 672.3)" fill="#fff" opacity="0.75"/>
<circle cx="443.4" cy="669.6" r="5.98" fill="url(#pBlue)"/>
<ellipse cx="440.4" cy="672.3" rx="2.27" ry="1.02" transform="rotate(45 440.4 672.3)" fill="#fff" opacity="0.75"/>
<circle cx="397.7" cy="694.4" r="5.98" fill="url(#pBlue)"/>
<ellipse cx="394.7" cy="697.1" rx="2.27" ry="1.02" transform="rotate(45 394.7 697.1)" fill="#fff" opacity="0.75"/>
<circle cx="421.0" cy="694.4" r="5.98" fill="url(#pBlue)"/>
<ellipse cx="418.0" cy="697.1" rx="2.27" ry="1.02" transform="rotate(45 418.0 697.1)" fill="#fff" opacity="0.75"/>
<circle cx="443.4" cy="694.4" r="5.98" fill="url(#pBlue)"/>
<ellipse cx="440.4" cy="697.1" rx="2.27" ry="1.02" transform="rotate(45 440.4 697.1)" fill="#fff" opacity="0.75"/>
<circle cx="397.7" cy="718.8" r="5.98" fill="url(#pBlue)"/>
<ellipse cx="394.7" cy="721.5" rx="2.27" ry="1.02" transform="rotate(45 394.7 721.5)" fill="#fff" opacity="0.75"/>
<circle cx="421.0" cy="718.8" r="5.98" fill="url(#pBlue)"/>
<ellipse cx="418.0" cy="721.5" rx="2.27" ry="1.02" transform="rotate(45 418.0 721.5)" fill="#fff" opacity="0.75"/>
<circle cx="443.4" cy="718.8" r="5.98" fill="url(#pBlue)"/>
<ellipse cx="440.4" cy="721.5" rx="2.27" ry="1.02" transform="rotate(45 440.4 721.5)" fill="#fff" opacity="0.75"/>
<circle cx="397.7" cy="743.3" r="5.98" fill="url(#pBlue)"/>
<ellipse cx="394.7" cy="746.0" rx="2.27" ry="1.02" transform="rotate(45 394.7 746.0)" fill="#fff" opacity="0.75"/>
<circle cx="421.0" cy="743.3" r="5.98" fill="url(#pBlue)"/>
<ellipse cx="418.0" cy="746.0" rx="2.27" ry="1.02" transform="rotate(45 418.0 746.0)" fill="#fff" opacity="0.75"/>
<circle cx="443.4" cy="743.3" r="5.98" fill="url(#pBlue)"/>
<ellipse cx="440.4" cy="746.0" rx="2.27" ry="1.02" transform="rotate(45 440.4 746.0)" fill="#fff" opacity="0.75"/>
<circle cx="397.7" cy="766.7" r="5.98" fill="url(#pBlue)"/>
<ellipse cx="394.7" cy="769.4" rx="2.27" ry="1.02" transform="rotate(45 394.7 769.4)" fill="#fff" opacity="0.75"/>
<circle cx="421.0" cy="766.7" r="5.98" fill="url(#pBlue)"/>
<ellipse cx="418.0" cy="769.4" rx="2.27" ry="1.02" transform="rotate(45 418.0 769.4)" fill="#fff" opacity="0.75"/>
<circle cx="443.4" cy="766.7" r="5.98" fill="url(#pBlue)"/>
<ellipse cx="440.4" cy="769.4" rx="2.27" ry="1.02" transform="rotate(45 440.4 769.4)" fill="#fff" opacity="0.75"/>
<circle cx="409.7" cy="657.5" r="4.40" fill="url(#pPur)"/>
<ellipse cx="407.5" cy="659.5" rx="1.67" ry="0.75" transform="rotate(45 407.5 659.5)" fill="#fff" opacity="0.75"/>
<circle cx="432.6" cy="657.5" r="4.40" fill="url(#pPur)"/>
<ellipse cx="430.4" cy="659.5" rx="1.67" ry="0.75" transform="rotate(45 430.4 659.5)" fill="#fff" opacity="0.75"/>
<circle cx="409.7" cy="680.3" r="4.40" fill="url(#pPur)"/>
<ellipse cx="407.5" cy="682.3" rx="1.67" ry="0.75" transform="rotate(45 407.5 682.3)" fill="#fff" opacity="0.75"/>
<circle cx="432.6" cy="680.3" r="4.40" fill="url(#pPur)"/>
<ellipse cx="430.4" cy="682.3" rx="1.67" ry="0.75" transform="rotate(45 430.4 682.3)" fill="#fff" opacity="0.75"/>
<circle cx="409.7" cy="708.1" r="4.40" fill="url(#pPur)"/>
<ellipse cx="407.5" cy="710.1" rx="1.67" ry="0.75" transform="rotate(45 407.5 710.1)" fill="#fff" opacity="0.75"/>
<circle cx="432.6" cy="708.1" r="4.40" fill="url(#pPur)"/>
<ellipse cx="430.4" cy="710.1" rx="1.67" ry="0.75" transform="rotate(45 430.4 710.1)" fill="#fff" opacity="0.75"/>
<circle cx="409.7" cy="731.1" r="4.40" fill="url(#pPur)"/>
<ellipse cx="407.5" cy="733.1" rx="1.67" ry="0.75" transform="rotate(45 407.5 733.1)" fill="#fff" opacity="0.75"/>
<circle cx="432.6" cy="731.1" r="4.40" fill="url(#pPur)"/>
<ellipse cx="430.4" cy="733.1" rx="1.67" ry="0.75" transform="rotate(45 430.4 733.1)" fill="#fff" opacity="0.75"/>
<circle cx="409.7" cy="755.6" r="4.40" fill="url(#pPur)"/>
<ellipse cx="407.5" cy="757.6" rx="1.67" ry="0.75" transform="rotate(45 407.5 757.6)" fill="#fff" opacity="0.75"/>
<circle cx="432.6" cy="755.6" r="4.40" fill="url(#pPur)"/>
<ellipse cx="430.4" cy="757.6" rx="1.67" ry="0.75" transform="rotate(45 430.4 757.6)" fill="#fff" opacity="0.75"/>
<circle cx="409.7" cy="779.0" r="4.40" fill="url(#pPur)"/>
<ellipse cx="407.5" cy="781.0" rx="1.67" ry="0.75" transform="rotate(45 407.5 781.0)" fill="#fff" opacity="0.75"/>
<circle cx="432.6" cy="779.0" r="4.40" fill="url(#pPur)"/>
<ellipse cx="430.4" cy="781.0" rx="1.67" ry="0.75" transform="rotate(45 430.4 781.0)" fill="#fff" opacity="0.75"/>
<circle cx="397.0" cy="794.2" r="5.46" fill="url(#pGrn)"/>
<ellipse cx="394.3" cy="796.7" rx="2.07" ry="0.93" transform="rotate(45 394.3 796.7)" fill="#fff" opacity="0.75"/>
<circle cx="420.6" cy="794.2" r="5.46" fill="url(#pGrn)"/>
<ellipse cx="417.9" cy="796.7" rx="2.07" ry="0.93" transform="rotate(45 417.9 796.7)" fill="#fff" opacity="0.75"/>
<circle cx="444.0" cy="794.2" r="5.46" fill="url(#pGrn)"/>
<ellipse cx="441.3" cy="796.7" rx="2.07" ry="0.93" transform="rotate(45 441.3 796.7)" fill="#fff" opacity="0.75"/>
<circle cx="397.0" cy="816.1" r="5.46" fill="url(#pGrn)"/>
<ellipse cx="394.3" cy="818.6" rx="2.07" ry="0.93" transform="rotate(45 394.3 818.6)" fill="#fff" opacity="0.75"/>
<circle cx="420.6" cy="816.1" r="5.46" fill="url(#pGrn)"/>
<ellipse cx="417.9" cy="818.6" rx="2.07" ry="0.93" transform="rotate(45 417.9 818.6)" fill="#fff" opacity="0.75"/>
<circle cx="444.0" cy="816.1" r="5.46" fill="url(#pGrn)"/>
<ellipse cx="441.3" cy="818.6" rx="2.07" ry="0.93" transform="rotate(45 441.3 818.6)" fill="#fff" opacity="0.75"/>
<circle cx="397.0" cy="840.6" r="5.46" fill="url(#pGrn)"/>
<ellipse cx="394.3" cy="843.1" rx="2.07" ry="0.93" transform="rotate(45 394.3 843.1)" fill="#fff" opacity="0.75"/>
<circle cx="420.6" cy="840.6" r="5.46" fill="url(#pGrn)"/>
<ellipse cx="417.9" cy="843.1" rx="2.07" ry="0.93" transform="rotate(45 417.9 843.1)" fill="#fff" opacity="0.75"/>
<circle cx="444.0" cy="840.6" r="5.46" fill="url(#pGrn)"/>
<ellipse cx="441.3" cy="843.1" rx="2.07" ry="0.93" transform="rotate(45 441.3 843.1)" fill="#fff" opacity="0.75"/>
<circle cx="397.0" cy="866.5" r="5.46" fill="url(#pGrn)"/>
<ellipse cx="394.3" cy="869.0" rx="2.07" ry="0.93" transform="rotate(45 394.3 869.0)" fill="#fff" opacity="0.75"/>
<circle cx="420.6" cy="866.5" r="5.46" fill="url(#pGrn)"/>
<ellipse cx="417.9" cy="869.0" rx="2.07" ry="0.93" transform="rotate(45 417.9 869.0)" fill="#fff" opacity="0.75"/>
<circle cx="444.0" cy="866.5" r="5.46" fill="url(#pGrn)"/>
<ellipse cx="441.3" cy="869.0" rx="2.07" ry="0.93" transform="rotate(45 441.3 869.0)" fill="#fff" opacity="0.75"/>
<circle cx="397.0" cy="891.2" r="5.46" fill="url(#pGrn)"/>
<ellipse cx="394.3" cy="893.7" rx="2.07" ry="0.93" transform="rotate(45 394.3 893.7)" fill="#fff" opacity="0.75"/>
<circle cx="420.6" cy="891.2" r="5.46" fill="url(#pGrn)"/>
<ellipse cx="417.9" cy="893.7" rx="2.07" ry="0.93" transform="rotate(45 417.9 893.7)" fill="#fff" opacity="0.75"/>
<circle cx="444.0" cy="891.2" r="5.46" fill="url(#pGrn)"/>
<ellipse cx="441.3" cy="893.7" rx="2.07" ry="0.93" transform="rotate(45 441.3 893.7)" fill="#fff" opacity="0.75"/>
<circle cx="397.0" cy="915.7" r="5.46" fill="url(#pGrn)"/>
<ellipse cx="394.3" cy="918.2" rx="2.07" ry="0.93" transform="rotate(45 394.3 918.2)" fill="#fff" opacity="0.75"/>
<circle cx="420.6" cy="915.7" r="5.46" fill="url(#pGrn)"/>
<ellipse cx="417.9" cy="918.2" rx="2.07" ry="0.93" transform="rotate(45 417.9 918.2)" fill="#fff" opacity="0.75"/>
<circle cx="444.0" cy="915.7" r="5.46" fill="url(#pGrn)"/>
<ellipse cx="441.3" cy="918.2" rx="2.07" ry="0.93" transform="rotate(45 441.3 918.2)" fill="#fff" opacity="0.75"/>
<circle cx="397.0" cy="937.3" r="5.46" fill="url(#pGrn)"/>
<ellipse cx="394.3" cy="939.8" rx="2.07" ry="0.93" transform="rotate(45 394.3 939.8)" fill="#fff" opacity="0.75"/>
<circle cx="420.6" cy="937.3" r="5.46" fill="url(#pGrn)"/>
<ellipse cx="417.9" cy="939.8" rx="2.07" ry="0.93" transform="rotate(45 417.9 939.8)" fill="#fff" opacity="0.75"/>
<circle cx="444.0" cy="937.3" r="5.46" fill="url(#pGrn)"/>
<ellipse cx="441.3" cy="939.8" rx="2.07" ry="0.93" transform="rotate(45 441.3 939.8)" fill="#fff" opacity="0.75"/>
<circle cx="408.0" cy="803.5" r="5.46" fill="url(#pOra)"/>
<ellipse cx="405.3" cy="806.0" rx="2.07" ry="0.93" transform="rotate(45 405.3 806.0)" fill="#fff" opacity="0.75"/>
<circle cx="431.7" cy="803.5" r="5.46" fill="url(#pOra)"/>
<ellipse cx="429.0" cy="806.0" rx="2.07" ry="0.93" transform="rotate(45 429.0 806.0)" fill="#fff" opacity="0.75"/>
<circle cx="408.0" cy="828.3" r="5.46" fill="url(#pOra)"/>
<ellipse cx="405.3" cy="830.8" rx="2.07" ry="0.93" transform="rotate(45 405.3 830.8)" fill="#fff" opacity="0.75"/>
<circle cx="431.7" cy="828.3" r="5.46" fill="url(#pOra)"/>
<ellipse cx="429.0" cy="830.8" rx="2.07" ry="0.93" transform="rotate(45 429.0 830.8)" fill="#fff" opacity="0.75"/>
<circle cx="408.0" cy="851.2" r="5.46" fill="url(#pOra)"/>
<ellipse cx="405.3" cy="853.7" rx="2.07" ry="0.93" transform="rotate(45 405.3 853.7)" fill="#fff" opacity="0.75"/>
<circle cx="431.7" cy="851.2" r="5.46" fill="url(#pOra)"/>
<ellipse cx="429.0" cy="853.7" rx="2.07" ry="0.93" transform="rotate(45 429.0 853.7)" fill="#fff" opacity="0.75"/>
<circle cx="408.0" cy="877.6" r="5.46" fill="url(#pOra)"/>
<ellipse cx="405.3" cy="880.1" rx="2.07" ry="0.93" transform="rotate(45 405.3 880.1)" fill="#fff" opacity="0.75"/>
<circle cx="431.7" cy="877.6" r="5.46" fill="url(#pOra)"/>
<ellipse cx="429.0" cy="880.1" rx="2.07" ry="0.93" transform="rotate(45 429.0 880.1)" fill="#fff" opacity="0.75"/>
<circle cx="408.0" cy="902.0" r="5.46" fill="url(#pOra)"/>
<ellipse cx="405.3" cy="904.5" rx="2.07" ry="0.93" transform="rotate(45 405.3 904.5)" fill="#fff" opacity="0.75"/>
<circle cx="431.7" cy="902.0" r="5.46" fill="url(#pOra)"/>
<ellipse cx="429.0" cy="904.5" rx="2.07" ry="0.93" transform="rotate(45 429.0 904.5)" fill="#fff" opacity="0.75"/>
<circle cx="408.0" cy="926.5" r="5.46" fill="url(#pOra)"/>
<ellipse cx="405.3" cy="929.0" rx="2.07" ry="0.93" transform="rotate(45 405.3 929.0)" fill="#fff" opacity="0.75"/>
<circle cx="431.7" cy="926.5" r="5.46" fill="url(#pOra)"/>
<ellipse cx="429.0" cy="929.0" rx="2.07" ry="0.93" transform="rotate(45 429.0 929.0)" fill="#fff" opacity="0.75"/>
<rect x="396.0" y="628.7" width="3.4" height="313.79999999999995" fill="#ffff00"/>
<path d="M391.7,631.7 L397.7,618.7 L403.7,631.7 Z" fill="#ffff00"/>
<rect x="408.7" y="628.7" width="3.4" height="313.79999999999995" fill="#ffff00"/>
<path d="M404.4,631.7 L410.4,618.7 L416.4,631.7 Z" fill="#ffff00"/>
<text x="376" y="610" font-size="33" font-weight="bold" fill="#ffff00" font-family="'Liberation Sans', Arial, sans-serif">A</text>
<text x="408" y="610" font-size="33" font-weight="bold" fill="#ffff00" font-family="'Liberation Sans', Arial, sans-serif">B</text>
<rect x="1001.7" y="539.7" width="430.5" height="454.19999999999993" fill="none" stroke="#000" stroke-width="2"/>
<line x1="996.2" y1="557.0" x2="1001.7" y2="557.0" stroke="#000" stroke-width="1.5"/>
<line x1="998.7" y1="573.1" x2="1001.7" y2="573.1" stroke="#000" stroke-width="1.2"/>
<line x1="996.2" y1="589.3" x2="1001.7" y2="589.3" stroke="#000" stroke-width="1.5"/>
<line x1="998.7" y1="605.4" x2="1001.7" y2="605.4" stroke="#000" stroke-width="1.2"/>
<line x1="996.2" y1="621.6" x2="1001.7" y2="621.6" stroke="#000" stroke-width="1.5"/>
<line x1="998.7" y1="637.7" x2="1001.7" y2="637.7" stroke="#000" stroke-width="1.2"/>
<line x1="996.2" y1="653.8" x2="1001.7" y2="653.8" stroke="#000" stroke-width="1.5"/>
<line x1="998.7" y1="670.0" x2="1001.7" y2="670.0" stroke="#000" stroke-width="1.2"/>
<line x1="996.2" y1="686.1" x2="1001.7" y2="686.1" stroke="#000" stroke-width="1.5"/>
<line x1="998.7" y1="702.3" x2="1001.7" y2="702.3" stroke="#000" stroke-width="1.2"/>
<line x1="996.2" y1="718.4" x2="1001.7" y2="718.4" stroke="#000" stroke-width="1.5"/>
<line x1="998.7" y1="734.5" x2="1001.7" y2="734.5" stroke="#000" stroke-width="1.2"/>
<line x1="996.2" y1="750.7" x2="1001.7" y2="750.7" stroke="#000" stroke-width="1.5"/>
<line x1="998.7" y1="766.8" x2="1001.7" y2="766.8" stroke="#000" stroke-width="1.2"/>
<line x1="996.2" y1="783.0" x2="1001.7" y2="783.0" stroke="#000" stroke-width="1.5"/>
<line x1="998.7" y1="799.1" x2="1001.7" y2="799.1" stroke="#000" stroke-width="1.2"/>
<line x1="996.2" y1="815.2" x2="1001.7" y2="815.2" stroke="#000" stroke-width="1.5"/>
<line x1="998.7" y1="831.4" x2="1001.7" y2="831.4" stroke="#000" stroke-width="1.2"/>
<line x1="996.2" y1="847.5" x2="1001.7" y2="847.5" stroke="#000" stroke-width="1.5"/>
<line x1="998.7" y1="863.7" x2="1001.7" y2="863.7" stroke="#000" stroke-width="1.2"/>
<line x1="996.2" y1="879.8" x2="1001.7" y2="879.8" stroke="#000" stroke-width="1.5"/>
<line x1="998.7" y1="895.9" x2="1001.7" y2="895.9" stroke="#000" stroke-width="1.2"/>
<line x1="996.2" y1="912.1" x2="1001.7" y2="912.1" stroke="#000" stroke-width="1.5"/>
<line x1="998.7" y1="928.2" x2="1001.7" y2="928.2" stroke="#000" stroke-width="1.2"/>
<line x1="996.2" y1="944.4" x2="1001.7" y2="944.4" stroke="#000" stroke-width="1.5"/>
<line x1="998.7" y1="960.5" x2="1001.7" y2="960.5" stroke="#000" stroke-width="1.2"/>
<line x1="996.2" y1="976.6" x2="1001.7" y2="976.6" stroke="#000" stroke-width="1.5"/>
<line x1="998.7" y1="992.8" x2="1001.7" y2="992.8" stroke="#000" stroke-width="1.2"/>
<line x1="1002.0" y1="993.9" x2="1002.0" y2="999.4" stroke="#000" stroke-width="1.5"/>
<text x="1002.0" y="1022.4" font-size="23.5" text-anchor="middle" fill="#000" font-family="'Liberation Sans', Arial, sans-serif">0</text>
<line x1="1032.8" y1="993.9" x2="1032.8" y2="996.9" stroke="#000" stroke-width="1.5"/>
<line x1="1063.5" y1="993.9" x2="1063.5" y2="999.4" stroke="#000" stroke-width="1.5"/>
<text x="1063.5" y="1022.4" font-size="23.5" text-anchor="middle" fill="#000" font-family="'Liberation Sans', Arial, sans-serif">2</text>
<line x1="1094.2" y1="993.9" x2="1094.2" y2="996.9" stroke="#000" stroke-width="1.5"/>
<line x1="1125.0" y1="993.9" x2="1125.0" y2="999.4" stroke="#000" stroke-width="1.5"/>
<text x="1125.0" y="1022.4" font-size="23.5" text-anchor="middle" fill="#000" font-family="'Liberation Sans', Arial, sans-serif">4</text>
<line x1="1155.8" y1="993.9" x2="1155.8" y2="996.9" stroke="#000" stroke-width="1.5"/>
<line x1="1186.5" y1="993.9" x2="1186.5" y2="999.4" stroke="#000" stroke-width="1.5"/>
<text x="1186.5" y="1022.4" font-size="23.5" text-anchor="middle" fill="#000" font-family="'Liberation Sans', Arial, sans-serif">6</text>
<line x1="1217.2" y1="993.9" x2="1217.2" y2="996.9" stroke="#000" stroke-width="1.5"/>
<line x1="1248.0" y1="993.9" x2="1248.0" y2="999.4" stroke="#000" stroke-width="1.5"/>
<text x="1248.0" y="1022.4" font-size="23.5" text-anchor="middle" fill="#000" font-family="'Liberation Sans', Arial, sans-serif">8</text>
<line x1="1278.8" y1="993.9" x2="1278.8" y2="996.9" stroke="#000" stroke-width="1.5"/>
<line x1="1309.5" y1="993.9" x2="1309.5" y2="999.4" stroke="#000" stroke-width="1.5"/>
<text x="1309.5" y="1022.4" font-size="23.5" text-anchor="middle" fill="#000" font-family="'Liberation Sans', Arial, sans-serif">10</text>
<line x1="1340.2" y1="993.9" x2="1340.2" y2="996.9" stroke="#000" stroke-width="1.5"/>
<line x1="1371.0" y1="993.9" x2="1371.0" y2="999.4" stroke="#000" stroke-width="1.5"/>
<text x="1371.0" y="1022.4" font-size="23.5" text-anchor="middle" fill="#000" font-family="'Liberation Sans', Arial, sans-serif">12</text>
<line x1="1401.8" y1="993.9" x2="1401.8" y2="996.9" stroke="#000" stroke-width="1.5"/>
<line x1="1432.5" y1="993.9" x2="1432.5" y2="999.4" stroke="#000" stroke-width="1.5"/>
<text x="1432.5" y="1022.4" font-size="23.5" text-anchor="middle" fill="#000" font-family="'Liberation Sans', Arial, sans-serif">14</text>
<polyline points="1032.8,654.2 1063.5,654.7 1094.2,654.2 1125.0,653.6 1155.8,659.0 1186.5,668.0 1217.2,662.5 1248.0,666.0 1278.8,666.7 1309.5,668.6 1340.2,668.6 1371.0,667.2 1401.8,662.5" fill="none" stroke="#1f3cf5" stroke-width="1.6"/>
<path d="M1032.8,643.0V668.6M1029.2,643.0H1036.2M1029.2,668.6H1036.2" stroke="#1f3cf5" stroke-width="1.6" fill="none"/>
<rect x="1029.0" y="650.0" width="7.5" height="8.5" fill="#1f3cf5"/>
<path d="M1063.5,645.0V667.0M1060.0,645.0H1067.0M1060.0,667.0H1067.0" stroke="#1f3cf5" stroke-width="1.6" fill="none"/>
<rect x="1059.8" y="650.5" width="7.5" height="8.5" fill="#1f3cf5"/>
<path d="M1094.2,642.5V676.0M1090.8,642.5H1097.8M1090.8,676.0H1097.8" stroke="#1f3cf5" stroke-width="1.6" fill="none"/>
<rect x="1090.5" y="650.0" width="7.5" height="8.5" fill="#1f3cf5"/>
<path d="M1125.0,644.0V668.6M1121.5,644.0H1128.5M1121.5,668.6H1128.5" stroke="#1f3cf5" stroke-width="1.6" fill="none"/>
<rect x="1121.2" y="649.4" width="7.5" height="8.5" fill="#1f3cf5"/>
<path d="M1155.8,647.0V681.0M1152.2,647.0H1159.2M1152.2,681.0H1159.2" stroke="#1f3cf5" stroke-width="1.6" fill="none"/>
<rect x="1152.0" y="654.8" width="7.5" height="8.5" fill="#1f3cf5"/>
<path d="M1186.5,658.0V689.0M1183.0,658.0H1190.0M1183.0,689.0H1190.0" stroke="#1f3cf5" stroke-width="1.6" fill="none"/>
<rect x="1182.8" y="663.8" width="7.5" height="8.5" fill="#1f3cf5"/>
<path d="M1217.2,659.0V671.7M1213.8,659.0H1220.8M1213.8,671.7H1220.8" stroke="#1f3cf5" stroke-width="1.6" fill="none"/>
<rect x="1213.5" y="658.2" width="7.5" height="8.5" fill="#1f3cf5"/>
<path d="M1248.0,664.0V671.7M1244.5,664.0H1251.5M1244.5,671.7H1251.5" stroke="#1f3cf5" stroke-width="1.6" fill="none"/>
<rect x="1244.2" y="661.8" width="7.5" height="8.5" fill="#1f3cf5"/>
<path d="M1278.8,661.7V676.0M1275.2,661.7H1282.2M1275.2,676.0H1282.2" stroke="#1f3cf5" stroke-width="1.6" fill="none"/>
<rect x="1275.0" y="662.5" width="7.5" height="8.5" fill="#1f3cf5"/>
<path d="M1309.5,664.4V673.6M1306.0,664.4H1313.0M1306.0,673.6H1313.0" stroke="#1f3cf5" stroke-width="1.6" fill="none"/>
<rect x="1305.8" y="664.4" width="7.5" height="8.5" fill="#1f3cf5"/>
<path d="M1340.2,664.0V676.0M1336.8,664.0H1343.8M1336.8,676.0H1343.8" stroke="#1f3cf5" stroke-width="1.6" fill="none"/>
<rect x="1336.5" y="664.4" width="7.5" height="8.5" fill="#1f3cf5"/>
<path d="M1371.0,661.0V678.0M1367.5,661.0H1374.5M1367.5,678.0H1374.5" stroke="#1f3cf5" stroke-width="1.6" fill="none"/>
<rect x="1367.2" y="663.0" width="7.5" height="8.5" fill="#1f3cf5"/>
<path d="M1401.8,658.0V668.6M1398.2,658.0H1405.2M1398.2,668.6H1405.2" stroke="#1f3cf5" stroke-width="1.6" fill="none"/>
<rect x="1398.0" y="658.2" width="7.5" height="8.5" fill="#1f3cf5"/>
<polyline points="1032.8,743.0 1063.5,749.4 1094.2,755.0 1125.0,755.6 1155.8,753.6 1186.5,761.0 1217.2,755.6 1248.0,768.0 1278.8,769.0 1309.5,766.0 1340.2,764.0 1371.0,762.5 1401.8,761.0" fill="none" stroke="#14d21e" stroke-width="1.6"/>
<path d="M1032.8,731.0V771.7M1029.2,731.0H1036.2M1029.2,771.7H1036.2" stroke="#14d21e" stroke-width="1.6" fill="none"/>
<rect x="1029.0" y="738.8" width="7.5" height="8.5" fill="#14d21e"/>
<path d="M1063.5,739.0V759.7M1060.0,739.0H1067.0M1060.0,759.7H1067.0" stroke="#14d21e" stroke-width="1.6" fill="none"/>
<rect x="1059.8" y="745.1" width="7.5" height="8.5" fill="#14d21e"/>
<path d="M1094.2,743.0V767.0M1090.8,743.0H1097.8M1090.8,767.0H1097.8" stroke="#14d21e" stroke-width="1.6" fill="none"/>
<rect x="1090.5" y="750.8" width="7.5" height="8.5" fill="#14d21e"/>
<path d="M1125.0,747.0V762.5M1121.5,747.0H1128.5M1121.5,762.5H1128.5" stroke="#14d21e" stroke-width="1.6" fill="none"/>
<rect x="1121.2" y="751.4" width="7.5" height="8.5" fill="#14d21e"/>
<path d="M1155.8,738.0V767.0M1152.2,738.0H1159.2M1152.2,767.0H1159.2" stroke="#14d21e" stroke-width="1.6" fill="none"/>
<rect x="1152.0" y="749.4" width="7.5" height="8.5" fill="#14d21e"/>
<path d="M1186.5,744.0V773.6M1183.0,744.0H1190.0M1183.0,773.6H1190.0" stroke="#14d21e" stroke-width="1.6" fill="none"/>
<rect x="1182.8" y="756.8" width="7.5" height="8.5" fill="#14d21e"/>
<path d="M1217.2,747.0V765.0M1213.8,747.0H1220.8M1213.8,765.0H1220.8" stroke="#14d21e" stroke-width="1.6" fill="none"/>
<rect x="1213.5" y="751.4" width="7.5" height="8.5" fill="#14d21e"/>
<path d="M1248.0,756.0V776.0M1244.5,756.0H1251.5M1244.5,776.0H1251.5" stroke="#14d21e" stroke-width="1.6" fill="none"/>
<rect x="1244.2" y="763.8" width="7.5" height="8.5" fill="#14d21e"/>
<path d="M1278.8,759.7V781.0M1275.2,759.7H1282.2M1275.2,781.0H1282.2" stroke="#14d21e" stroke-width="1.6" fill="none"/>
<rect x="1275.0" y="764.8" width="7.5" height="8.5" fill="#14d21e"/>
<path d="M1309.5,759.7V773.6M1306.0,759.7H1313.0M1306.0,773.6H1313.0" stroke="#14d21e" stroke-width="1.6" fill="none"/>
<rect x="1305.8" y="761.8" width="7.5" height="8.5" fill="#14d21e"/>
<path d="M1340.2,761.0V767.0M1336.8,761.0H1343.8M1336.8,767.0H1343.8" stroke="#14d21e" stroke-width="1.6" fill="none"/>
<rect x="1336.5" y="759.8" width="7.5" height="8.5" fill="#14d21e"/>
<path d="M1371.0,758.0V767.0M1367.5,758.0H1374.5M1367.5,767.0H1374.5" stroke="#14d21e" stroke-width="1.6" fill="none"/>
<rect x="1367.2" y="758.2" width="7.5" height="8.5" fill="#14d21e"/>
<path d="M1401.8,752.0V767.0M1398.2,752.0H1405.2M1398.2,767.0H1405.2" stroke="#14d21e" stroke-width="1.6" fill="none"/>
<rect x="1398.0" y="756.8" width="7.5" height="8.5" fill="#14d21e"/>
<polyline points="1032.8,846.7 1063.5,848.9 1094.2,840.6 1125.0,839.0 1155.8,846.7 1186.5,844.4 1217.2,850.8 1248.0,848.0 1278.8,845.8 1309.5,851.4 1340.2,844.4 1371.0,844.4 1401.8,843.0" fill="none" stroke="#e0157f" stroke-width="1.6"/>
<path d="M1032.8,838.0V858.0M1029.2,838.0H1036.2M1029.2,858.0H1036.2" stroke="#e0157f" stroke-width="1.6" fill="none"/>
<rect x="1029.0" y="842.5" width="7.5" height="8.5" fill="#e0157f"/>
<path d="M1063.5,837.0V861.0M1060.0,837.0H1067.0M1060.0,861.0H1067.0" stroke="#e0157f" stroke-width="1.6" fill="none"/>
<rect x="1059.8" y="844.6" width="7.5" height="8.5" fill="#e0157f"/>
<path d="M1094.2,833.0V847.0M1090.8,833.0H1097.8M1090.8,847.0H1097.8" stroke="#e0157f" stroke-width="1.6" fill="none"/>
<rect x="1090.5" y="836.4" width="7.5" height="8.5" fill="#e0157f"/>
<path d="M1125.0,829.0V846.7M1121.5,829.0H1128.5M1121.5,846.7H1128.5" stroke="#e0157f" stroke-width="1.6" fill="none"/>
<rect x="1121.2" y="834.8" width="7.5" height="8.5" fill="#e0157f"/>
<path d="M1155.8,838.0V859.7M1152.2,838.0H1159.2M1152.2,859.7H1159.2" stroke="#e0157f" stroke-width="1.6" fill="none"/>
<rect x="1152.0" y="842.5" width="7.5" height="8.5" fill="#e0157f"/>
<path d="M1186.5,835.0V855.0M1183.0,835.0H1190.0M1183.0,855.0H1190.0" stroke="#e0157f" stroke-width="1.6" fill="none"/>
<rect x="1182.8" y="840.1" width="7.5" height="8.5" fill="#e0157f"/>
<path d="M1217.2,842.5V859.7M1213.8,842.5H1220.8M1213.8,859.7H1220.8" stroke="#e0157f" stroke-width="1.6" fill="none"/>
<rect x="1213.5" y="846.5" width="7.5" height="8.5" fill="#e0157f"/>
<path d="M1248.0,838.0V857.0M1244.5,838.0H1251.5M1244.5,857.0H1251.5" stroke="#e0157f" stroke-width="1.6" fill="none"/>
<rect x="1244.2" y="843.8" width="7.5" height="8.5" fill="#e0157f"/>
<path d="M1278.8,838.0V853.6M1275.2,838.0H1282.2M1275.2,853.6H1282.2" stroke="#e0157f" stroke-width="1.6" fill="none"/>
<rect x="1275.0" y="841.5" width="7.5" height="8.5" fill="#e0157f"/>
<path d="M1309.5,842.5V858.0M1306.0,842.5H1313.0M1306.0,858.0H1313.0" stroke="#e0157f" stroke-width="1.6" fill="none"/>
<rect x="1305.8" y="847.1" width="7.5" height="8.5" fill="#e0157f"/>
<path d="M1340.2,838.0V851.7M1336.8,838.0H1343.8M1336.8,851.7H1343.8" stroke="#e0157f" stroke-width="1.6" fill="none"/>
<rect x="1336.5" y="840.1" width="7.5" height="8.5" fill="#e0157f"/>
<path d="M1371.0,836.0V855.0M1367.5,836.0H1374.5M1367.5,855.0H1374.5" stroke="#e0157f" stroke-width="1.6" fill="none"/>
<rect x="1367.2" y="840.1" width="7.5" height="8.5" fill="#e0157f"/>
<path d="M1401.8,835.0V850.8M1398.2,835.0H1405.2M1398.2,850.8H1405.2" stroke="#e0157f" stroke-width="1.6" fill="none"/>
<rect x="1398.0" y="838.8" width="7.5" height="8.5" fill="#e0157f"/>
<rect x="1306.4" y="876.7" width="121.39999999999986" height="110.29999999999995" fill="#fff" stroke="#000" stroke-width="2"/>
<line x1="1307.2" y1="899" x2="1348" y2="899" stroke="#1f3cf5" stroke-width="1.6"/>
<rect x="1324.85" y="895" width="7.5" height="8" fill="#1f3cf5"/>
<text x="1355.3" y="905.5" font-size="30" fill="#000" font-family="'Liberation Sans', Arial, sans-serif">2Hz</text>
<line x1="1307.2" y1="935" x2="1348" y2="935" stroke="#14d21e" stroke-width="1.6"/>
<rect x="1324.85" y="931" width="7.5" height="8" fill="#14d21e"/>
<text x="1355.3" y="940.5" font-size="30" fill="#000" font-family="'Liberation Sans', Arial, sans-serif">5Hz</text>
<line x1="1307.2" y1="972" x2="1348" y2="972" stroke="#e0157f" stroke-width="1.6"/>
<rect x="1324.85" y="968" width="7.5" height="8" fill="#e0157f"/>
<text x="1355.3" y="977.5" font-size="30" fill="#000" font-family="'Liberation Sans', Arial, sans-serif">10Hz</text>
<text x="1007.5" y="976.5" font-size="41" fill="#000" font-family="'Liberation Sans', Arial, sans-serif">A-site</text>
<text x="1007.3" y="580.8" font-size="58" fill="#000" font-family="'Liberation Sans', Arial, sans-serif">g</text>
<text x="1043.4" y="579.8" font-size="56" fill="#000" font-family="'Liberation Sans', Arial, sans-serif">)</text>
<text x="1154.9" y="1069" font-size="34.5" fill="#000" font-family="'Liberation Sans', Arial, sans-serif">Unit cell</text>
<text transform="translate(975.3,1030.5) rotate(-90)" font-size="34.8" fill="#000" font-family="'Liberation Sans', Arial, sans-serif">Normalized HAADF intensity (a.u.)</text>
<rect x="1524.4" y="539.2" width="431.1999999999998" height="454.9" fill="none" stroke="#000" stroke-width="2"/>
<line x1="1518.9" y1="554.4" x2="1524.4" y2="554.4" stroke="#000" stroke-width="1.5"/>
<line x1="1521.4" y1="570.6" x2="1524.4" y2="570.6" stroke="#000" stroke-width="1.2"/>
<line x1="1518.9" y1="586.9" x2="1524.4" y2="586.9" stroke="#000" stroke-width="1.5"/>
<line x1="1521.4" y1="603.1" x2="1524.4" y2="603.1" stroke="#000" stroke-width="1.2"/>
<line x1="1518.9" y1="619.4" x2="1524.4" y2="619.4" stroke="#000" stroke-width="1.5"/>
<line x1="1521.4" y1="635.6" x2="1524.4" y2="635.6" stroke="#000" stroke-width="1.2"/>
<line x1="1518.9" y1="651.9" x2="1524.4" y2="651.9" stroke="#000" stroke-width="1.5"/>
<line x1="1521.4" y1="668.1" x2="1524.4" y2="668.1" stroke="#000" stroke-width="1.2"/>
<line x1="1518.9" y1="684.4" x2="1524.4" y2="684.4" stroke="#000" stroke-width="1.5"/>
<line x1="1521.4" y1="700.6" x2="1524.4" y2="700.6" stroke="#000" stroke-width="1.2"/>
<line x1="1518.9" y1="716.9" x2="1524.4" y2="716.9" stroke="#000" stroke-width="1.5"/>
<line x1="1521.4" y1="733.1" x2="1524.4" y2="733.1" stroke="#000" stroke-width="1.2"/>
<line x1="1518.9" y1="749.4" x2="1524.4" y2="749.4" stroke="#000" stroke-width="1.5"/>
<line x1="1521.4" y1="765.6" x2="1524.4" y2="765.6" stroke="#000" stroke-width="1.2"/>
<line x1="1518.9" y1="781.9" x2="1524.4" y2="781.9" stroke="#000" stroke-width="1.5"/>
<line x1="1521.4" y1="798.1" x2="1524.4" y2="798.1" stroke="#000" stroke-width="1.2"/>
<line x1="1518.9" y1="814.4" x2="1524.4" y2="814.4" stroke="#000" stroke-width="1.5"/>
<line x1="1521.4" y1="830.6" x2="1524.4" y2="830.6" stroke="#000" stroke-width="1.2"/>
<line x1="1518.9" y1="846.9" x2="1524.4" y2="846.9" stroke="#000" stroke-width="1.5"/>
<line x1="1521.4" y1="863.1" x2="1524.4" y2="863.1" stroke="#000" stroke-width="1.2"/>
<line x1="1518.9" y1="879.4" x2="1524.4" y2="879.4" stroke="#000" stroke-width="1.5"/>
<line x1="1521.4" y1="895.6" x2="1524.4" y2="895.6" stroke="#000" stroke-width="1.2"/>
<line x1="1518.9" y1="911.9" x2="1524.4" y2="911.9" stroke="#000" stroke-width="1.5"/>
<line x1="1521.4" y1="928.1" x2="1524.4" y2="928.1" stroke="#000" stroke-width="1.2"/>
<line x1="1518.9" y1="944.4" x2="1524.4" y2="944.4" stroke="#000" stroke-width="1.5"/>
<line x1="1521.4" y1="960.6" x2="1524.4" y2="960.6" stroke="#000" stroke-width="1.2"/>
<line x1="1518.9" y1="976.9" x2="1524.4" y2="976.9" stroke="#000" stroke-width="1.5"/>
<line x1="1521.4" y1="993.1" x2="1524.4" y2="993.1" stroke="#000" stroke-width="1.2"/>
<line x1="1524.8" y1="994.1" x2="1524.8" y2="999.6" stroke="#000" stroke-width="1.5"/>
<text x="1524.8" y="1024.6" font-size="23.5" text-anchor="middle" fill="#000" font-family="'Liberation Sans', Arial, sans-serif">0</text>
<line x1="1555.6" y1="994.1" x2="1555.6" y2="997.1" stroke="#000" stroke-width="1.5"/>
<line x1="1586.4" y1="994.1" x2="1586.4" y2="999.6" stroke="#000" stroke-width="1.5"/>
<text x="1586.4" y="1024.6" font-size="23.5" text-anchor="middle" fill="#000" font-family="'Liberation Sans', Arial, sans-serif">2</text>
<line x1="1617.2" y1="994.1" x2="1617.2" y2="997.1" stroke="#000" stroke-width="1.5"/>
<line x1="1648.0" y1="994.1" x2="1648.0" y2="999.6" stroke="#000" stroke-width="1.5"/>
<text x="1648.0" y="1024.6" font-size="23.5" text-anchor="middle" fill="#000" font-family="'Liberation Sans', Arial, sans-serif">4</text>
<line x1="1678.8" y1="994.1" x2="1678.8" y2="997.1" stroke="#000" stroke-width="1.5"/>
<line x1="1709.6" y1="994.1" x2="1709.6" y2="999.6" stroke="#000" stroke-width="1.5"/>
<text x="1709.6" y="1024.6" font-size="23.5" text-anchor="middle" fill="#000" font-family="'Liberation Sans', Arial, sans-serif">6</text>
<line x1="1740.4" y1="994.1" x2="1740.4" y2="997.1" stroke="#000" stroke-width="1.5"/>
<line x1="1771.2" y1="994.1" x2="1771.2" y2="999.6" stroke="#000" stroke-width="1.5"/>
<text x="1771.2" y="1024.6" font-size="23.5" text-anchor="middle" fill="#000" font-family="'Liberation Sans', Arial, sans-serif">8</text>
<line x1="1802.0" y1="994.1" x2="1802.0" y2="997.1" stroke="#000" stroke-width="1.5"/>
<line x1="1832.8" y1="994.1" x2="1832.8" y2="999.6" stroke="#000" stroke-width="1.5"/>
<text x="1832.8" y="1024.6" font-size="23.5" text-anchor="middle" fill="#000" font-family="'Liberation Sans', Arial, sans-serif">10</text>
<line x1="1863.6" y1="994.1" x2="1863.6" y2="997.1" stroke="#000" stroke-width="1.5"/>
<line x1="1894.4" y1="994.1" x2="1894.4" y2="999.6" stroke="#000" stroke-width="1.5"/>
<text x="1894.4" y="1024.6" font-size="23.5" text-anchor="middle" fill="#000" font-family="'Liberation Sans', Arial, sans-serif">12</text>
<line x1="1925.2" y1="994.1" x2="1925.2" y2="997.1" stroke="#000" stroke-width="1.5"/>
<line x1="1956.0" y1="994.1" x2="1956.0" y2="999.6" stroke="#000" stroke-width="1.5"/>
<text x="1956.0" y="1024.6" font-size="23.5" text-anchor="middle" fill="#000" font-family="'Liberation Sans', Arial, sans-serif">14</text>
<polyline points="1555.6,728.6 1586.4,726.7 1617.2,726.7 1648.0,730.6 1678.8,730.6 1709.6,722.2 1740.4,648.0 1771.2,647.2 1802.0,643.0 1832.8,640.6 1863.6,637.0 1894.4,637.5" fill="none" stroke="#1f3cf5" stroke-width="1.6"/>
<rect x="1551.8" y="724.4" width="7.5" height="8.5" fill="#1f3cf5"/>
<rect x="1582.6" y="722.5" width="7.5" height="8.5" fill="#1f3cf5"/>
<rect x="1613.5" y="722.5" width="7.5" height="8.5" fill="#1f3cf5"/>
<rect x="1644.2" y="726.4" width="7.5" height="8.5" fill="#1f3cf5"/>
<rect x="1675.0" y="726.4" width="7.5" height="8.5" fill="#1f3cf5"/>
<path d="M1709.6,716.0V731.4M1706.1,716.0H1713.1M1706.1,731.4H1713.1" stroke="#1f3cf5" stroke-width="1.6" fill="none"/>
<rect x="1705.8" y="718.0" width="7.5" height="8.5" fill="#1f3cf5"/>
<path d="M1740.4,641.0V655.0M1736.9,641.0H1743.9M1736.9,655.0H1743.9" stroke="#1f3cf5" stroke-width="1.6" fill="none"/>
<rect x="1736.6" y="643.8" width="7.5" height="8.5" fill="#1f3cf5"/>
<path d="M1771.2,635.0V658.0M1767.7,635.0H1774.7M1767.7,658.0H1774.7" stroke="#1f3cf5" stroke-width="1.6" fill="none"/>
<rect x="1767.5" y="643.0" width="7.5" height="8.5" fill="#1f3cf5"/>
<path d="M1802.0,632.0V649.0M1798.5,632.0H1805.5M1798.5,649.0H1805.5" stroke="#1f3cf5" stroke-width="1.6" fill="none"/>
<rect x="1798.2" y="638.8" width="7.5" height="8.5" fill="#1f3cf5"/>
<path d="M1832.8,629.0V650.0M1829.3,629.0H1836.3M1829.3,650.0H1836.3" stroke="#1f3cf5" stroke-width="1.6" fill="none"/>
<rect x="1829.0" y="636.4" width="7.5" height="8.5" fill="#1f3cf5"/>
<path d="M1863.6,630.6V644.0M1860.1,630.6H1867.1M1860.1,644.0H1867.1" stroke="#1f3cf5" stroke-width="1.6" fill="none"/>
<rect x="1859.8" y="632.8" width="7.5" height="8.5" fill="#1f3cf5"/>
<path d="M1894.4,624.0V650.0M1890.9,624.0H1897.9M1890.9,650.0H1897.9" stroke="#1f3cf5" stroke-width="1.6" fill="none"/>
<rect x="1890.7" y="633.2" width="7.5" height="8.5" fill="#1f3cf5"/>
<polyline points="1555.6,807.4 1586.4,808.0 1617.2,808.3 1648.0,811.0 1678.8,801.5 1709.6,785.2 1740.4,720.3 1771.2,706.4 1802.0,714.0 1832.8,708.0 1863.6,710.0 1894.4,706.4" fill="none" stroke="#14d21e" stroke-width="1.6"/>
<path d="M1555.6,803.0V813.3M1552.1,803.0H1559.1M1552.1,813.3H1559.1" stroke="#14d21e" stroke-width="1.6" fill="none"/>
<rect x="1551.8" y="803.1" width="7.5" height="8.5" fill="#14d21e"/>
<rect x="1582.6" y="803.8" width="7.5" height="8.5" fill="#14d21e"/>
<path d="M1617.2,801.5V821.4M1613.7,801.5H1620.7M1613.7,821.4H1620.7" stroke="#14d21e" stroke-width="1.6" fill="none"/>
<rect x="1613.5" y="804.0" width="7.5" height="8.5" fill="#14d21e"/>
<path d="M1648.0,806.0V816.3M1644.5,806.0H1651.5M1644.5,816.3H1651.5" stroke="#14d21e" stroke-width="1.6" fill="none"/>
<rect x="1644.2" y="806.8" width="7.5" height="8.5" fill="#14d21e"/>
<path d="M1678.8,793.0V806.5M1675.3,793.0H1682.3M1675.3,806.5H1682.3" stroke="#14d21e" stroke-width="1.6" fill="none"/>
<rect x="1675.0" y="797.2" width="7.5" height="8.5" fill="#14d21e"/>
<path d="M1709.6,774.8V795.6M1706.1,774.8H1713.1M1706.1,795.6H1713.1" stroke="#14d21e" stroke-width="1.6" fill="none"/>
<rect x="1705.8" y="781.0" width="7.5" height="8.5" fill="#14d21e"/>
<rect x="1736.6" y="716.0" width="7.5" height="8.5" fill="#14d21e"/>
<path d="M1771.2,694.7V713.0M1767.7,694.7H1774.7M1767.7,713.0H1774.7" stroke="#14d21e" stroke-width="1.6" fill="none"/>
<rect x="1767.5" y="702.1" width="7.5" height="8.5" fill="#14d21e"/>
<path d="M1802.0,705.6V720.8M1798.5,705.6H1805.5M1798.5,720.8H1805.5" stroke="#14d21e" stroke-width="1.6" fill="none"/>
<rect x="1798.2" y="709.8" width="7.5" height="8.5" fill="#14d21e"/>
<path d="M1832.8,700.0V718.0M1829.3,700.0H1836.3M1829.3,718.0H1836.3" stroke="#14d21e" stroke-width="1.6" fill="none"/>
<rect x="1829.0" y="703.8" width="7.5" height="8.5" fill="#14d21e"/>
<rect x="1859.8" y="705.8" width="7.5" height="8.5" fill="#14d21e"/>
<path d="M1894.4,694.7V720.8M1890.9,694.7H1897.9M1890.9,720.8H1897.9" stroke="#14d21e" stroke-width="1.6" fill="none"/>
<rect x="1890.7" y="702.1" width="7.5" height="8.5" fill="#14d21e"/>
<polyline points="1555.6,895.7 1586.4,894.9 1617.2,899.3 1648.0,888.9 1678.8,879.1 1709.6,870.3 1740.4,819.3 1771.2,825.8 1802.0,816.3 1832.8,808.0 1863.6,817.2 1894.4,817.8" fill="none" stroke="#e0157f" stroke-width="1.6"/>
<path d="M1555.6,881.0V905.8M1552.1,881.0H1559.1M1552.1,905.8H1559.1" stroke="#e0157f" stroke-width="1.6" fill="none"/>
<rect x="1551.8" y="891.5" width="7.5" height="8.5" fill="#e0157f"/>
<path d="M1586.4,886.0V899.3M1582.9,886.0H1589.9M1582.9,899.3H1589.9" stroke="#e0157f" stroke-width="1.6" fill="none"/>
<rect x="1582.6" y="890.6" width="7.5" height="8.5" fill="#e0157f"/>
<path d="M1617.2,891.9V905.8M1613.7,891.9H1620.7M1613.7,905.8H1620.7" stroke="#e0157f" stroke-width="1.6" fill="none"/>
<rect x="1613.5" y="895.0" width="7.5" height="8.5" fill="#e0157f"/>
<path d="M1648.0,884.5V893.4M1644.5,884.5H1651.5M1644.5,893.4H1651.5" stroke="#e0157f" stroke-width="1.6" fill="none"/>
<rect x="1644.2" y="884.6" width="7.5" height="8.5" fill="#e0157f"/>
<rect x="1675.0" y="874.9" width="7.5" height="8.5" fill="#e0157f"/>
<path d="M1709.6,864.3V874.7M1706.1,864.3H1713.1M1706.1,874.7H1713.1" stroke="#e0157f" stroke-width="1.6" fill="none"/>
<rect x="1705.8" y="866.0" width="7.5" height="8.5" fill="#e0157f"/>
<path d="M1740.4,810.4V830.2M1736.9,810.4H1743.9M1736.9,830.2H1743.9" stroke="#e0157f" stroke-width="1.6" fill="none"/>
<rect x="1736.6" y="815.0" width="7.5" height="8.5" fill="#e0157f"/>
<path d="M1771.2,816.3V838.5M1767.7,816.3H1774.7M1767.7,838.5H1774.7" stroke="#e0157f" stroke-width="1.6" fill="none"/>
<rect x="1767.5" y="821.5" width="7.5" height="8.5" fill="#e0157f"/>
<path d="M1802.0,801.0V828.8M1798.5,801.0H1805.5M1798.5,828.8H1805.5" stroke="#e0157f" stroke-width="1.6" fill="none"/>
<rect x="1798.2" y="812.0" width="7.5" height="8.5" fill="#e0157f"/>
<path d="M1832.8,799.0V830.5M1829.3,799.0H1836.3M1829.3,830.5H1836.3" stroke="#e0157f" stroke-width="1.6" fill="none"/>
<rect x="1829.0" y="803.8" width="7.5" height="8.5" fill="#e0157f"/>
<path d="M1863.6,808.0V825.8M1860.1,808.0H1867.1M1860.1,825.8H1867.1" stroke="#e0157f" stroke-width="1.6" fill="none"/>
<rect x="1859.8" y="813.0" width="7.5" height="8.5" fill="#e0157f"/>
<path d="M1894.4,812.8V822.2M1890.9,812.8H1897.9M1890.9,822.2H1897.9" stroke="#e0157f" stroke-width="1.6" fill="none"/>
<rect x="1890.7" y="813.5" width="7.5" height="8.5" fill="#e0157f"/>
<path d="M1662,818.7 L1717.3,818.7 L1717.3,794 Z" fill="none" stroke="#000" stroke-width="2.6" stroke-linejoin="miter"/>
<path d="M1631.4,906 L1717.3,906 L1717.3,878.6 Z" fill="none" stroke="#000" stroke-width="2.6" stroke-linejoin="miter"/>
<rect x="1827.9" y="873.2" width="122.39999999999986" height="111.19999999999993" fill="#fff" stroke="#000" stroke-width="2"/>
<line x1="1830.8" y1="898.8" x2="1870.3" y2="898.8" stroke="#1f3cf5" stroke-width="1.6"/>
<rect x="1846.25" y="894.8" width="7.5" height="8" fill="#1f3cf5"/>
<text x="1877.3" y="903" font-size="30" fill="#000" font-family="'Liberation Sans', Arial, sans-serif">2Hz</text>
<line x1="1830.8" y1="934" x2="1870.3" y2="934" stroke="#14d21e" stroke-width="1.6"/>
<rect x="1846.25" y="930" width="7.5" height="8" fill="#14d21e"/>
<text x="1877.3" y="938.5" font-size="30" fill="#000" font-family="'Liberation Sans', Arial, sans-serif">5Hz</text>
<line x1="1830.8" y1="971.5" x2="1870.3" y2="971.5" stroke="#e0157f" stroke-width="1.6"/>
<rect x="1846.25" y="967.5" width="7.5" height="8" fill="#e0157f"/>
<text x="1877.3" y="974.5" font-size="30" fill="#000" font-family="'Liberation Sans', Arial, sans-serif">10Hz</text>
<text x="1531.2" y="978.8" font-size="41" fill="#000" font-family="'Liberation Sans', Arial, sans-serif">B-site</text>
<text x="1532.2" y="588.0" font-size="58" fill="#000" font-family="'Liberation Sans', Arial, sans-serif">h</text>
<text x="1567.3" y="586.7" font-size="56" fill="#000" font-family="'Liberation Sans', Arial, sans-serif">)</text>
<text x="1678.1" y="1075.3" font-size="34.5" fill="#000" font-family="'Liberation Sans', Arial, sans-serif">Unit cell</text>
<text transform="translate(1498.6,1030.8) rotate(-90)" font-size="34.8" fill="#000" font-family="'Liberation Sans', Arial, sans-serif">Normalized HAADF intensity (a.u.)</text>
<circle cx="199.5" cy="1051.5" r="15.00" fill="url(#sBlue)"/>
<ellipse cx="192.0" cy="1058.2" rx="5.70" ry="2.55" transform="rotate(45 192.0 1058.2)" fill="#fff" opacity="0.75"/>
<text x="220" y="1063" font-size="26" fill="#000" font-family="'Liberation Sans', Arial, sans-serif">Ba/Sr</text>
<circle cx="304.0" cy="1051.4" r="11.50" fill="url(#sPur)"/>
<ellipse cx="298.2" cy="1056.6" rx="4.37" ry="1.96" transform="rotate(45 298.2 1056.6)" fill="#fff" opacity="0.75"/>
<text x="319.5" y="1063" font-size="26" fill="#000" font-family="'Liberation Sans', Arial, sans-serif">Ti</text>
<circle cx="373.5" cy="1052.5" r="14.00" fill="url(#sGrn)"/>
<ellipse cx="366.5" cy="1058.8" rx="5.32" ry="2.38" transform="rotate(45 366.5 1058.8)" fill="#fff" opacity="0.75"/>
<text x="391.8" y="1063" font-size="26" fill="#000" font-family="'Liberation Sans', Arial, sans-serif">Sr</text>
<circle cx="442.9" cy="1052.5" r="14.00" fill="url(#sOra)"/>
<ellipse cx="435.9" cy="1058.8" rx="5.32" ry="2.38" transform="rotate(45 435.9 1058.8)" fill="#fff" opacity="0.75"/>
<text x="461" y="1063" font-size="26" fill="#000" font-family="'Liberation Sans', Arial, sans-serif">Ru</text>
</svg></body></html>
